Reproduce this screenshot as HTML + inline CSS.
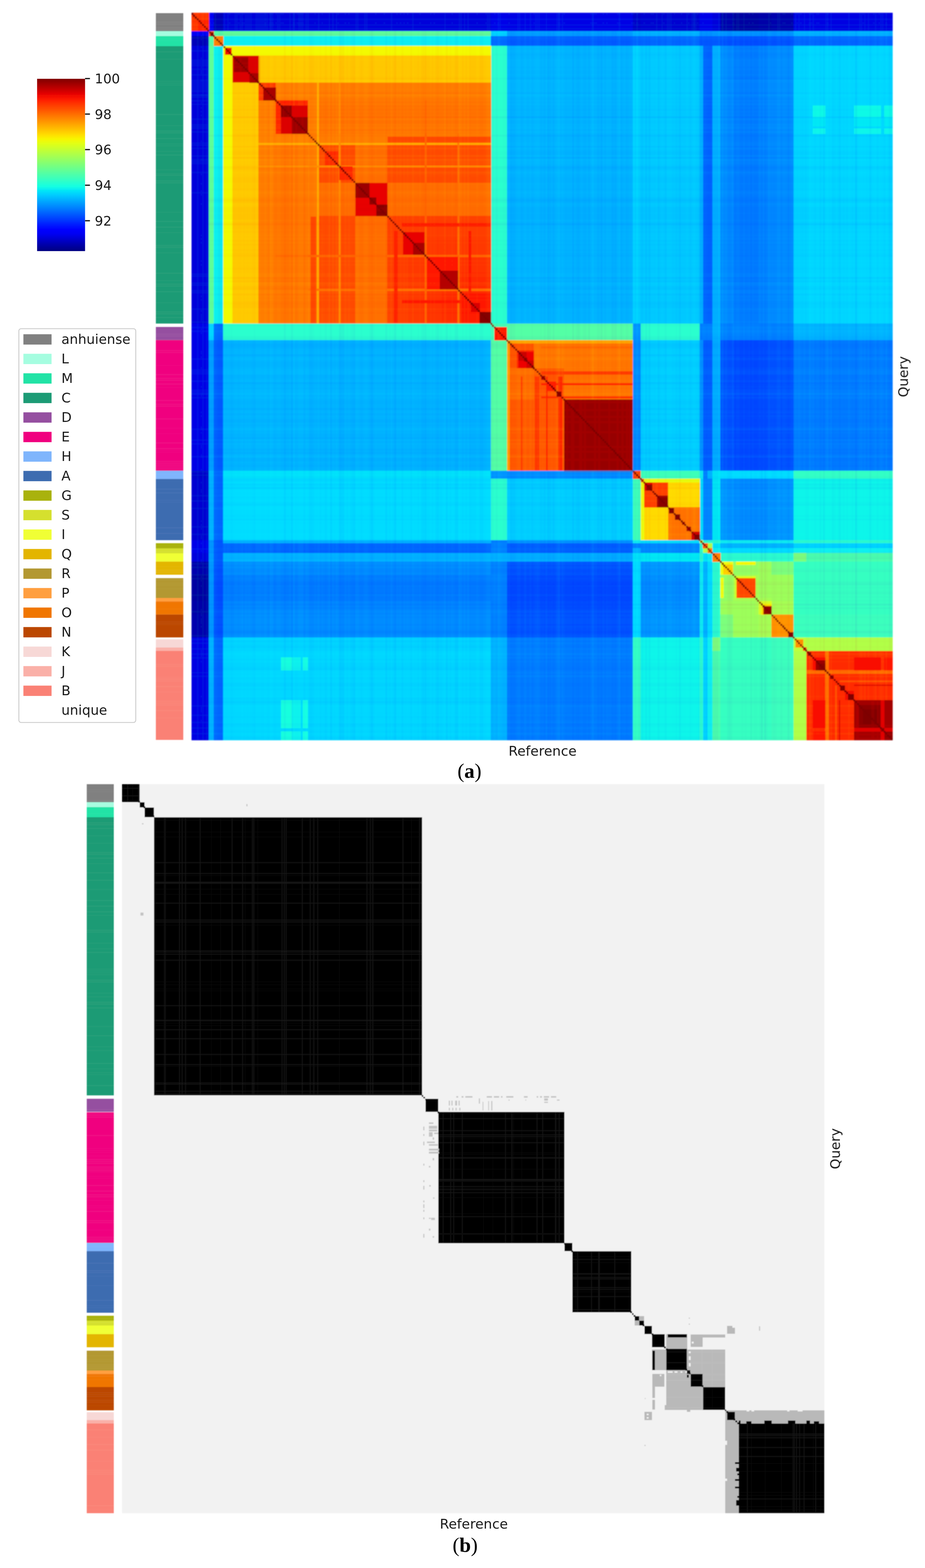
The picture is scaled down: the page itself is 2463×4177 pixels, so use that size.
<!DOCTYPE html>
<html><head><meta charset="utf-8"><title>Figure</title>
<style>
html,body{margin:0;padding:0;background:#fff}
body{width:2463px;height:4177px;overflow:hidden}
svg{display:block}
text{font-family:"DejaVu Sans","Liberation Sans",sans-serif;fill:#1a1a1a}
.ser{font-family:"Liberation Serif","DejaVu Serif",serif;fill:#000}
</style></head><body>
<svg width="2463" height="4177" viewBox="0 0 2463 4177" shape-rendering="crispEdges">
<defs><filter id="soft" x="-1%" y="-1%" width="102%" height="102%"><feGaussianBlur stdDeviation="1.5"/></filter><filter id="softb" x="-1%" y="-1%" width="102%" height="102%"><feGaussianBlur stdDeviation="1.1"/></filter><filter id="softs" x="-5%" y="-1%" width="110%" height="102%"><feGaussianBlur stdDeviation="1.0"/></filter><filter id="softt" x="-5%" y="-5%" width="110%" height="110%"><feGaussianBlur stdDeviation="0.7"/></filter><linearGradient id="cb" x1="0" y1="1" x2="0" y2="0"><stop offset="0.000" stop-color="#000080"/><stop offset="0.025" stop-color="#00009c"/><stop offset="0.050" stop-color="#0000b9"/><stop offset="0.075" stop-color="#0000d6"/><stop offset="0.100" stop-color="#0000f3"/><stop offset="0.125" stop-color="#0000ff"/><stop offset="0.150" stop-color="#0019ff"/><stop offset="0.175" stop-color="#0033ff"/><stop offset="0.200" stop-color="#004dff"/><stop offset="0.225" stop-color="#0066ff"/><stop offset="0.250" stop-color="#0080ff"/><stop offset="0.275" stop-color="#0099ff"/><stop offset="0.300" stop-color="#00b2ff"/><stop offset="0.325" stop-color="#00ccff"/><stop offset="0.350" stop-color="#00e5f7"/><stop offset="0.375" stop-color="#15ffe2"/><stop offset="0.400" stop-color="#29ffce"/><stop offset="0.425" stop-color="#3effb9"/><stop offset="0.450" stop-color="#52ffa5"/><stop offset="0.475" stop-color="#67ff90"/><stop offset="0.500" stop-color="#7bff7b"/><stop offset="0.525" stop-color="#90ff67"/><stop offset="0.550" stop-color="#a5ff52"/><stop offset="0.575" stop-color="#b9ff3e"/><stop offset="0.600" stop-color="#ceff29"/><stop offset="0.625" stop-color="#e2ff15"/><stop offset="0.650" stop-color="#f7f600"/><stop offset="0.675" stop-color="#ffde00"/><stop offset="0.700" stop-color="#ffc600"/><stop offset="0.725" stop-color="#ffaf00"/><stop offset="0.750" stop-color="#ff9700"/><stop offset="0.775" stop-color="#ff8000"/><stop offset="0.800" stop-color="#ff6800"/><stop offset="0.825" stop-color="#ff5000"/><stop offset="0.850" stop-color="#ff3900"/><stop offset="0.875" stop-color="#ff2100"/><stop offset="0.900" stop-color="#f30900"/><stop offset="0.925" stop-color="#d60000"/><stop offset="0.950" stop-color="#b90000"/><stop offset="0.975" stop-color="#9c0000"/><stop offset="1.000" stop-color="#800000"/></linearGradient></defs>
<g id="heat-a" filter="url(#soft)">
<rect x="509.8" y="34.6" width="1866.7" height="1936.8" fill="#00b2ff"/>
<rect x="509.5" y="34.3" width="47.3" height="49.0" fill="#ff2f00"/>
<rect x="509.5" y="82.7" width="47.3" height="13.8" fill="#0000f3"/>
<rect x="509.5" y="95.9" width="47.3" height="27.1" fill="#0000b9"/>
<rect x="509.5" y="122.4" width="47.3" height="739.9" fill="#0000da"/>
<rect x="509.5" y="861.7" width="47.3" height="9.7" fill="#0000e8"/>
<rect x="509.5" y="870.8" width="47.3" height="35.7" fill="#0000e8"/>
<rect x="509.5" y="905.9" width="47.3" height="348.4" fill="#0000e5"/>
<rect x="509.5" y="1253.7" width="47.3" height="22.3" fill="#0000cb"/>
<rect x="509.5" y="1275.4" width="47.3" height="163.7" fill="#0000d1"/>
<rect x="509.5" y="1438.5" width="47.3" height="8.9" fill="#0000e8"/>
<rect x="509.5" y="1446.8" width="47.3" height="14.2" fill="#0000e8"/>
<rect x="509.5" y="1460.4" width="47.3" height="13.6" fill="#0000e8"/>
<rect x="509.5" y="1473.3" width="47.3" height="23.3" fill="#0000dc"/>
<rect x="509.5" y="1496.0" width="47.3" height="35.3" fill="#0000ae"/>
<rect x="509.5" y="1530.7" width="47.3" height="9.1" fill="#0000a2"/>
<rect x="509.5" y="1539.2" width="47.3" height="53.9" fill="#0000a2"/>
<rect x="509.5" y="1592.5" width="47.3" height="9.3" fill="#0000a2"/>
<rect x="509.5" y="1601.2" width="47.3" height="36.2" fill="#0000a8"/>
<rect x="509.5" y="1636.8" width="47.3" height="61.6" fill="#0000ae"/>
<rect x="509.5" y="1697.8" width="47.3" height="5.6" fill="#0000e2"/>
<rect x="509.5" y="1702.9" width="47.3" height="21.9" fill="#0000e2"/>
<rect x="509.5" y="1724.2" width="47.3" height="9.9" fill="#0000e2"/>
<rect x="509.5" y="1733.5" width="47.3" height="238.2" fill="#0000e2"/>
<rect x="556.2" y="34.3" width="13.3" height="49.0" fill="#0000f3"/>
<rect x="556.2" y="82.7" width="13.3" height="13.8" fill="#a20000"/>
<rect x="556.2" y="95.9" width="13.3" height="27.1" fill="#52ffa5"/>
<rect x="556.2" y="122.4" width="13.3" height="739.9" fill="#5fff98"/>
<rect x="556.2" y="861.7" width="13.3" height="9.7" fill="#00d6ff"/>
<rect x="556.2" y="870.8" width="13.3" height="35.7" fill="#00d6ff"/>
<rect x="556.2" y="905.9" width="13.3" height="348.4" fill="#009eff"/>
<rect x="556.2" y="1253.7" width="13.3" height="22.3" fill="#00b2ff"/>
<rect x="556.2" y="1275.4" width="13.3" height="163.7" fill="#00b2ff"/>
<rect x="556.2" y="1438.5" width="13.3" height="8.9" fill="#0094ff"/>
<rect x="556.2" y="1446.8" width="13.3" height="14.2" fill="#0094ff"/>
<rect x="556.2" y="1460.4" width="13.3" height="13.6" fill="#0094ff"/>
<rect x="556.2" y="1473.3" width="13.3" height="23.3" fill="#009eff"/>
<rect x="556.2" y="1496.0" width="13.3" height="35.3" fill="#0094ff"/>
<rect x="556.2" y="1530.7" width="13.3" height="9.1" fill="#0094ff"/>
<rect x="556.2" y="1539.2" width="13.3" height="53.9" fill="#0094ff"/>
<rect x="556.2" y="1592.5" width="13.3" height="9.3" fill="#0094ff"/>
<rect x="556.2" y="1601.2" width="13.3" height="36.2" fill="#0094ff"/>
<rect x="556.2" y="1636.8" width="13.3" height="61.6" fill="#0094ff"/>
<rect x="556.2" y="1697.8" width="13.3" height="5.6" fill="#00b2ff"/>
<rect x="556.2" y="1702.9" width="13.3" height="21.9" fill="#00b2ff"/>
<rect x="556.2" y="1724.2" width="13.3" height="9.9" fill="#00b2ff"/>
<rect x="556.2" y="1733.5" width="13.3" height="238.2" fill="#00b2ff"/>
<rect x="568.9" y="34.3" width="26.2" height="49.0" fill="#0000b9"/>
<rect x="568.9" y="82.7" width="26.2" height="13.8" fill="#52ffa5"/>
<rect x="568.9" y="95.9" width="26.2" height="27.1" fill="#ff8400"/>
<rect x="568.9" y="122.4" width="26.2" height="739.9" fill="#08f0ef"/>
<rect x="568.9" y="861.7" width="26.2" height="9.7" fill="#006bff"/>
<rect x="568.9" y="870.8" width="26.2" height="35.7" fill="#006bff"/>
<rect x="568.9" y="905.9" width="26.2" height="348.4" fill="#005cff"/>
<rect x="568.9" y="1253.7" width="26.2" height="22.3" fill="#0066ff"/>
<rect x="568.9" y="1275.4" width="26.2" height="163.7" fill="#0066ff"/>
<rect x="568.9" y="1438.5" width="26.2" height="8.9" fill="#0057ff"/>
<rect x="568.9" y="1446.8" width="26.2" height="14.2" fill="#0057ff"/>
<rect x="568.9" y="1460.4" width="26.2" height="13.6" fill="#0057ff"/>
<rect x="568.9" y="1473.3" width="26.2" height="23.3" fill="#005cff"/>
<rect x="568.9" y="1496.0" width="26.2" height="35.3" fill="#0052ff"/>
<rect x="568.9" y="1530.7" width="26.2" height="9.1" fill="#004dff"/>
<rect x="568.9" y="1539.2" width="26.2" height="53.9" fill="#004dff"/>
<rect x="568.9" y="1592.5" width="26.2" height="9.3" fill="#004dff"/>
<rect x="568.9" y="1601.2" width="26.2" height="36.2" fill="#0052ff"/>
<rect x="568.9" y="1636.8" width="26.2" height="61.6" fill="#0052ff"/>
<rect x="568.9" y="1697.8" width="26.2" height="5.6" fill="#0066ff"/>
<rect x="568.9" y="1702.9" width="26.2" height="21.9" fill="#0066ff"/>
<rect x="568.9" y="1724.2" width="26.2" height="9.9" fill="#0066ff"/>
<rect x="568.9" y="1733.5" width="26.2" height="238.2" fill="#0066ff"/>
<rect x="594.4" y="34.3" width="713.1" height="49.0" fill="#0000da"/>
<rect x="594.4" y="82.7" width="713.1" height="13.8" fill="#5fff98"/>
<rect x="594.4" y="95.9" width="713.1" height="27.1" fill="#08f0ef"/>
<rect x="594.4" y="122.4" width="713.1" height="739.9" fill="#ff6800"/>
<rect x="594.4" y="861.7" width="713.1" height="9.7" fill="#29ffce"/>
<rect x="594.4" y="870.8" width="713.1" height="35.7" fill="#29ffce"/>
<rect x="594.4" y="905.9" width="713.1" height="348.4" fill="#00b2ff"/>
<rect x="594.4" y="1253.7" width="713.1" height="22.3" fill="#00e0fb"/>
<rect x="594.4" y="1275.4" width="713.1" height="163.7" fill="#00dbff"/>
<rect x="594.4" y="1438.5" width="713.1" height="8.9" fill="#0066ff"/>
<rect x="594.4" y="1446.8" width="713.1" height="14.2" fill="#0066ff"/>
<rect x="594.4" y="1460.4" width="713.1" height="13.6" fill="#0061ff"/>
<rect x="594.4" y="1473.3" width="713.1" height="23.3" fill="#00b2ff"/>
<rect x="594.4" y="1496.0" width="713.1" height="35.3" fill="#008aff"/>
<rect x="594.4" y="1530.7" width="713.1" height="9.1" fill="#007aff"/>
<rect x="594.4" y="1539.2" width="713.1" height="53.9" fill="#007aff"/>
<rect x="594.4" y="1592.5" width="713.1" height="9.3" fill="#007aff"/>
<rect x="594.4" y="1601.2" width="713.1" height="36.2" fill="#0085ff"/>
<rect x="594.4" y="1636.8" width="713.1" height="61.6" fill="#008aff"/>
<rect x="594.4" y="1697.8" width="713.1" height="5.6" fill="#00d1ff"/>
<rect x="594.4" y="1702.9" width="713.1" height="21.9" fill="#00d1ff"/>
<rect x="594.4" y="1724.2" width="713.1" height="9.9" fill="#00d1ff"/>
<rect x="594.4" y="1733.5" width="713.1" height="238.2" fill="#00d6ff"/>
<rect x="1307.0" y="34.3" width="9.4" height="49.0" fill="#0000e8"/>
<rect x="1307.0" y="82.7" width="9.4" height="13.8" fill="#00d6ff"/>
<rect x="1307.0" y="95.9" width="9.4" height="27.1" fill="#006bff"/>
<rect x="1307.0" y="122.4" width="9.4" height="739.9" fill="#29ffce"/>
<rect x="1307.0" y="861.7" width="9.4" height="9.7" fill="#ff1c00"/>
<rect x="1307.0" y="870.8" width="9.4" height="35.7" fill="#42ffb5"/>
<rect x="1307.0" y="905.9" width="9.4" height="348.4" fill="#52ffa5"/>
<rect x="1307.0" y="1253.7" width="9.4" height="22.3" fill="#0094ff"/>
<rect x="1307.0" y="1275.4" width="9.4" height="163.7" fill="#29ffce"/>
<rect x="1307.0" y="1438.5" width="9.4" height="8.9" fill="#0080ff"/>
<rect x="1307.0" y="1446.8" width="9.4" height="14.2" fill="#0080ff"/>
<rect x="1307.0" y="1460.4" width="9.4" height="13.6" fill="#0080ff"/>
<rect x="1307.0" y="1473.3" width="9.4" height="23.3" fill="#00b2ff"/>
<rect x="1307.0" y="1496.0" width="9.4" height="35.3" fill="#0080ff"/>
<rect x="1307.0" y="1530.7" width="9.4" height="9.1" fill="#0080ff"/>
<rect x="1307.0" y="1539.2" width="9.4" height="53.9" fill="#0080ff"/>
<rect x="1307.0" y="1592.5" width="9.4" height="9.3" fill="#0080ff"/>
<rect x="1307.0" y="1601.2" width="9.4" height="36.2" fill="#0080ff"/>
<rect x="1307.0" y="1636.8" width="9.4" height="61.6" fill="#0080ff"/>
<rect x="1307.0" y="1697.8" width="9.4" height="5.6" fill="#00b2ff"/>
<rect x="1307.0" y="1702.9" width="9.4" height="21.9" fill="#00b2ff"/>
<rect x="1307.0" y="1724.2" width="9.4" height="9.9" fill="#00b2ff"/>
<rect x="1307.0" y="1733.5" width="9.4" height="238.2" fill="#00b2ff"/>
<rect x="1315.7" y="34.3" width="34.4" height="49.0" fill="#0000e8"/>
<rect x="1315.7" y="82.7" width="34.4" height="13.8" fill="#00d6ff"/>
<rect x="1315.7" y="95.9" width="34.4" height="27.1" fill="#006bff"/>
<rect x="1315.7" y="122.4" width="34.4" height="739.9" fill="#29ffce"/>
<rect x="1315.7" y="861.7" width="34.4" height="9.7" fill="#42ffb5"/>
<rect x="1315.7" y="870.8" width="34.4" height="35.7" fill="#ff1c00"/>
<rect x="1315.7" y="905.9" width="34.4" height="348.4" fill="#52ffa5"/>
<rect x="1315.7" y="1253.7" width="34.4" height="22.3" fill="#0094ff"/>
<rect x="1315.7" y="1275.4" width="34.4" height="163.7" fill="#29ffce"/>
<rect x="1315.7" y="1438.5" width="34.4" height="8.9" fill="#0080ff"/>
<rect x="1315.7" y="1446.8" width="34.4" height="14.2" fill="#0080ff"/>
<rect x="1315.7" y="1460.4" width="34.4" height="13.6" fill="#0080ff"/>
<rect x="1315.7" y="1473.3" width="34.4" height="23.3" fill="#00b2ff"/>
<rect x="1315.7" y="1496.0" width="34.4" height="35.3" fill="#0080ff"/>
<rect x="1315.7" y="1530.7" width="34.4" height="9.1" fill="#0080ff"/>
<rect x="1315.7" y="1539.2" width="34.4" height="53.9" fill="#0080ff"/>
<rect x="1315.7" y="1592.5" width="34.4" height="9.3" fill="#0080ff"/>
<rect x="1315.7" y="1601.2" width="34.4" height="36.2" fill="#0080ff"/>
<rect x="1315.7" y="1636.8" width="34.4" height="61.6" fill="#0080ff"/>
<rect x="1315.7" y="1697.8" width="34.4" height="5.6" fill="#00b2ff"/>
<rect x="1315.7" y="1702.9" width="34.4" height="21.9" fill="#00b2ff"/>
<rect x="1315.7" y="1724.2" width="34.4" height="9.9" fill="#00b2ff"/>
<rect x="1315.7" y="1733.5" width="34.4" height="238.2" fill="#00b2ff"/>
<rect x="1349.5" y="34.3" width="335.9" height="49.0" fill="#0000e5"/>
<rect x="1349.5" y="82.7" width="335.9" height="13.8" fill="#009eff"/>
<rect x="1349.5" y="95.9" width="335.9" height="27.1" fill="#005cff"/>
<rect x="1349.5" y="122.4" width="335.9" height="739.9" fill="#00b2ff"/>
<rect x="1349.5" y="861.7" width="335.9" height="9.7" fill="#52ffa5"/>
<rect x="1349.5" y="870.8" width="335.9" height="35.7" fill="#52ffa5"/>
<rect x="1349.5" y="905.9" width="335.9" height="348.4" fill="#ff6800"/>
<rect x="1349.5" y="1253.7" width="335.9" height="22.3" fill="#008aff"/>
<rect x="1349.5" y="1275.4" width="335.9" height="163.7" fill="#00ccff"/>
<rect x="1349.5" y="1438.5" width="335.9" height="8.9" fill="#005cff"/>
<rect x="1349.5" y="1446.8" width="335.9" height="14.2" fill="#005cff"/>
<rect x="1349.5" y="1460.4" width="335.9" height="13.6" fill="#005cff"/>
<rect x="1349.5" y="1473.3" width="335.9" height="23.3" fill="#00adff"/>
<rect x="1349.5" y="1496.0" width="335.9" height="35.3" fill="#0052ff"/>
<rect x="1349.5" y="1530.7" width="335.9" height="9.1" fill="#0047ff"/>
<rect x="1349.5" y="1539.2" width="335.9" height="53.9" fill="#0047ff"/>
<rect x="1349.5" y="1592.5" width="335.9" height="9.3" fill="#0047ff"/>
<rect x="1349.5" y="1601.2" width="335.9" height="36.2" fill="#004dff"/>
<rect x="1349.5" y="1636.8" width="335.9" height="61.6" fill="#0052ff"/>
<rect x="1349.5" y="1697.8" width="335.9" height="5.6" fill="#007aff"/>
<rect x="1349.5" y="1702.9" width="335.9" height="21.9" fill="#007aff"/>
<rect x="1349.5" y="1724.2" width="335.9" height="9.9" fill="#007aff"/>
<rect x="1349.5" y="1733.5" width="335.9" height="238.2" fill="#007aff"/>
<rect x="1684.8" y="34.3" width="21.5" height="49.0" fill="#0000cb"/>
<rect x="1684.8" y="82.7" width="21.5" height="13.8" fill="#00b2ff"/>
<rect x="1684.8" y="95.9" width="21.5" height="27.1" fill="#0066ff"/>
<rect x="1684.8" y="122.4" width="21.5" height="739.9" fill="#00d1ff"/>
<rect x="1684.8" y="861.7" width="21.5" height="9.7" fill="#0094ff"/>
<rect x="1684.8" y="870.8" width="21.5" height="35.7" fill="#0094ff"/>
<rect x="1684.8" y="905.9" width="21.5" height="348.4" fill="#008aff"/>
<rect x="1684.8" y="1253.7" width="21.5" height="22.3" fill="#ff4200"/>
<rect x="1684.8" y="1275.4" width="21.5" height="163.7" fill="#3effb9"/>
<rect x="1684.8" y="1438.5" width="21.5" height="8.9" fill="#0080ff"/>
<rect x="1684.8" y="1446.8" width="21.5" height="14.2" fill="#0080ff"/>
<rect x="1684.8" y="1460.4" width="21.5" height="13.6" fill="#00b2ff"/>
<rect x="1684.8" y="1473.3" width="21.5" height="23.3" fill="#00e5f7"/>
<rect x="1684.8" y="1496.0" width="21.5" height="35.3" fill="#00dbff"/>
<rect x="1684.8" y="1530.7" width="21.5" height="9.1" fill="#00dbff"/>
<rect x="1684.8" y="1539.2" width="21.5" height="53.9" fill="#00dbff"/>
<rect x="1684.8" y="1592.5" width="21.5" height="9.3" fill="#00dbff"/>
<rect x="1684.8" y="1601.2" width="21.5" height="36.2" fill="#00dbff"/>
<rect x="1684.8" y="1636.8" width="21.5" height="61.6" fill="#00dbff"/>
<rect x="1684.8" y="1697.8" width="21.5" height="5.6" fill="#31ffc5"/>
<rect x="1684.8" y="1702.9" width="21.5" height="21.9" fill="#31ffc5"/>
<rect x="1684.8" y="1724.2" width="21.5" height="9.9" fill="#31ffc5"/>
<rect x="1684.8" y="1733.5" width="21.5" height="238.2" fill="#31ffc5"/>
<rect x="1705.7" y="34.3" width="157.8" height="49.0" fill="#0000d1"/>
<rect x="1705.7" y="82.7" width="157.8" height="13.8" fill="#00b2ff"/>
<rect x="1705.7" y="95.9" width="157.8" height="27.1" fill="#0066ff"/>
<rect x="1705.7" y="122.4" width="157.8" height="739.9" fill="#00c7ff"/>
<rect x="1705.7" y="861.7" width="157.8" height="9.7" fill="#29ffce"/>
<rect x="1705.7" y="870.8" width="157.8" height="35.7" fill="#29ffce"/>
<rect x="1705.7" y="905.9" width="157.8" height="348.4" fill="#00ccff"/>
<rect x="1705.7" y="1253.7" width="157.8" height="22.3" fill="#3effb9"/>
<rect x="1705.7" y="1275.4" width="157.8" height="163.7" fill="#ff7b00"/>
<rect x="1705.7" y="1438.5" width="157.8" height="8.9" fill="#0085ff"/>
<rect x="1705.7" y="1446.8" width="157.8" height="14.2" fill="#0085ff"/>
<rect x="1705.7" y="1460.4" width="157.8" height="13.6" fill="#0085ff"/>
<rect x="1705.7" y="1473.3" width="157.8" height="23.3" fill="#04ebf3"/>
<rect x="1705.7" y="1496.0" width="157.8" height="35.3" fill="#0094ff"/>
<rect x="1705.7" y="1530.7" width="157.8" height="9.1" fill="#008aff"/>
<rect x="1705.7" y="1539.2" width="157.8" height="53.9" fill="#008aff"/>
<rect x="1705.7" y="1592.5" width="157.8" height="9.3" fill="#008aff"/>
<rect x="1705.7" y="1601.2" width="157.8" height="36.2" fill="#008fff"/>
<rect x="1705.7" y="1636.8" width="157.8" height="61.6" fill="#0094ff"/>
<rect x="1705.7" y="1697.8" width="157.8" height="5.6" fill="#0cf5ea"/>
<rect x="1705.7" y="1702.9" width="157.8" height="21.9" fill="#0cf5ea"/>
<rect x="1705.7" y="1724.2" width="157.8" height="9.9" fill="#0cf5ea"/>
<rect x="1705.7" y="1733.5" width="157.8" height="238.2" fill="#0cf5ea"/>
<rect x="1862.9" y="34.3" width="8.6" height="49.0" fill="#0000e8"/>
<rect x="1862.9" y="82.7" width="8.6" height="13.8" fill="#0094ff"/>
<rect x="1862.9" y="95.9" width="8.6" height="27.1" fill="#0057ff"/>
<rect x="1862.9" y="122.4" width="8.6" height="739.9" fill="#0066ff"/>
<rect x="1862.9" y="861.7" width="8.6" height="9.7" fill="#0080ff"/>
<rect x="1862.9" y="870.8" width="8.6" height="35.7" fill="#0080ff"/>
<rect x="1862.9" y="905.9" width="8.6" height="348.4" fill="#005cff"/>
<rect x="1862.9" y="1253.7" width="8.6" height="22.3" fill="#0080ff"/>
<rect x="1862.9" y="1275.4" width="8.6" height="163.7" fill="#0085ff"/>
<rect x="1862.9" y="1438.5" width="8.6" height="8.9" fill="#ff6800"/>
<rect x="1862.9" y="1446.8" width="8.6" height="14.2" fill="#00b2ff"/>
<rect x="1862.9" y="1460.4" width="8.6" height="13.6" fill="#adff4a"/>
<rect x="1862.9" y="1473.3" width="8.6" height="23.3" fill="#00e5f7"/>
<rect x="1862.9" y="1496.0" width="8.6" height="35.3" fill="#00b2ff"/>
<rect x="1862.9" y="1530.7" width="8.6" height="9.1" fill="#00b2ff"/>
<rect x="1862.9" y="1539.2" width="8.6" height="53.9" fill="#00b2ff"/>
<rect x="1862.9" y="1592.5" width="8.6" height="9.3" fill="#00b2ff"/>
<rect x="1862.9" y="1601.2" width="8.6" height="36.2" fill="#00b2ff"/>
<rect x="1862.9" y="1636.8" width="8.6" height="61.6" fill="#00b2ff"/>
<rect x="1862.9" y="1697.8" width="8.6" height="5.6" fill="#00d1ff"/>
<rect x="1862.9" y="1702.9" width="8.6" height="21.9" fill="#00d1ff"/>
<rect x="1862.9" y="1724.2" width="8.6" height="9.9" fill="#00d1ff"/>
<rect x="1862.9" y="1733.5" width="8.6" height="238.2" fill="#00d1ff"/>
<rect x="1870.9" y="34.3" width="13.7" height="49.0" fill="#0000e8"/>
<rect x="1870.9" y="82.7" width="13.7" height="13.8" fill="#0094ff"/>
<rect x="1870.9" y="95.9" width="13.7" height="27.1" fill="#0057ff"/>
<rect x="1870.9" y="122.4" width="13.7" height="739.9" fill="#0066ff"/>
<rect x="1870.9" y="861.7" width="13.7" height="9.7" fill="#0080ff"/>
<rect x="1870.9" y="870.8" width="13.7" height="35.7" fill="#0080ff"/>
<rect x="1870.9" y="905.9" width="13.7" height="348.4" fill="#005cff"/>
<rect x="1870.9" y="1253.7" width="13.7" height="22.3" fill="#0080ff"/>
<rect x="1870.9" y="1275.4" width="13.7" height="163.7" fill="#0085ff"/>
<rect x="1870.9" y="1438.5" width="13.7" height="8.9" fill="#00b2ff"/>
<rect x="1870.9" y="1446.8" width="13.7" height="14.2" fill="#ff6800"/>
<rect x="1870.9" y="1460.4" width="13.7" height="13.6" fill="#adff4a"/>
<rect x="1870.9" y="1473.3" width="13.7" height="23.3" fill="#00e5f7"/>
<rect x="1870.9" y="1496.0" width="13.7" height="35.3" fill="#00b2ff"/>
<rect x="1870.9" y="1530.7" width="13.7" height="9.1" fill="#00b2ff"/>
<rect x="1870.9" y="1539.2" width="13.7" height="53.9" fill="#00b2ff"/>
<rect x="1870.9" y="1592.5" width="13.7" height="9.3" fill="#00b2ff"/>
<rect x="1870.9" y="1601.2" width="13.7" height="36.2" fill="#00b2ff"/>
<rect x="1870.9" y="1636.8" width="13.7" height="61.6" fill="#00b2ff"/>
<rect x="1870.9" y="1697.8" width="13.7" height="5.6" fill="#00d1ff"/>
<rect x="1870.9" y="1702.9" width="13.7" height="21.9" fill="#00d1ff"/>
<rect x="1870.9" y="1724.2" width="13.7" height="9.9" fill="#00d1ff"/>
<rect x="1870.9" y="1733.5" width="13.7" height="238.2" fill="#00d1ff"/>
<rect x="1884.0" y="34.3" width="13.1" height="49.0" fill="#0000e8"/>
<rect x="1884.0" y="82.7" width="13.1" height="13.8" fill="#0094ff"/>
<rect x="1884.0" y="95.9" width="13.1" height="27.1" fill="#0057ff"/>
<rect x="1884.0" y="122.4" width="13.1" height="739.9" fill="#0061ff"/>
<rect x="1884.0" y="861.7" width="13.1" height="9.7" fill="#0080ff"/>
<rect x="1884.0" y="870.8" width="13.1" height="35.7" fill="#0080ff"/>
<rect x="1884.0" y="905.9" width="13.1" height="348.4" fill="#005cff"/>
<rect x="1884.0" y="1253.7" width="13.1" height="22.3" fill="#00b2ff"/>
<rect x="1884.0" y="1275.4" width="13.1" height="163.7" fill="#0085ff"/>
<rect x="1884.0" y="1438.5" width="13.1" height="8.9" fill="#adff4a"/>
<rect x="1884.0" y="1446.8" width="13.1" height="14.2" fill="#adff4a"/>
<rect x="1884.0" y="1460.4" width="13.1" height="13.6" fill="#ff7100"/>
<rect x="1884.0" y="1473.3" width="13.1" height="23.3" fill="#08f0ef"/>
<rect x="1884.0" y="1496.0" width="13.1" height="35.3" fill="#00dbff"/>
<rect x="1884.0" y="1530.7" width="13.1" height="9.1" fill="#00dbff"/>
<rect x="1884.0" y="1539.2" width="13.1" height="53.9" fill="#00dbff"/>
<rect x="1884.0" y="1592.5" width="13.1" height="9.3" fill="#00dbff"/>
<rect x="1884.0" y="1601.2" width="13.1" height="36.2" fill="#00dbff"/>
<rect x="1884.0" y="1636.8" width="13.1" height="61.6" fill="#00dbff"/>
<rect x="1884.0" y="1697.8" width="13.1" height="5.6" fill="#08f0ef"/>
<rect x="1884.0" y="1702.9" width="13.1" height="21.9" fill="#08f0ef"/>
<rect x="1884.0" y="1724.2" width="13.1" height="9.9" fill="#08f0ef"/>
<rect x="1884.0" y="1733.5" width="13.1" height="238.2" fill="#08f0ef"/>
<rect x="1896.5" y="34.3" width="22.4" height="49.0" fill="#0000dc"/>
<rect x="1896.5" y="82.7" width="22.4" height="13.8" fill="#009eff"/>
<rect x="1896.5" y="95.9" width="22.4" height="27.1" fill="#005cff"/>
<rect x="1896.5" y="122.4" width="22.4" height="739.9" fill="#00b2ff"/>
<rect x="1896.5" y="861.7" width="22.4" height="9.7" fill="#00b2ff"/>
<rect x="1896.5" y="870.8" width="22.4" height="35.7" fill="#00b2ff"/>
<rect x="1896.5" y="905.9" width="22.4" height="348.4" fill="#00adff"/>
<rect x="1896.5" y="1253.7" width="22.4" height="22.3" fill="#00e5f7"/>
<rect x="1896.5" y="1275.4" width="22.4" height="163.7" fill="#04ebf3"/>
<rect x="1896.5" y="1438.5" width="22.4" height="8.9" fill="#00e5f7"/>
<rect x="1896.5" y="1446.8" width="22.4" height="14.2" fill="#00e5f7"/>
<rect x="1896.5" y="1460.4" width="22.4" height="13.6" fill="#08f0ef"/>
<rect x="1896.5" y="1473.3" width="22.4" height="23.3" fill="#ff7b00"/>
<rect x="1896.5" y="1496.0" width="22.4" height="35.3" fill="#29ffce"/>
<rect x="1896.5" y="1530.7" width="22.4" height="9.1" fill="#29ffce"/>
<rect x="1896.5" y="1539.2" width="22.4" height="53.9" fill="#29ffce"/>
<rect x="1896.5" y="1592.5" width="22.4" height="9.3" fill="#29ffce"/>
<rect x="1896.5" y="1601.2" width="22.4" height="36.2" fill="#29ffce"/>
<rect x="1896.5" y="1636.8" width="22.4" height="61.6" fill="#29ffce"/>
<rect x="1896.5" y="1697.8" width="22.4" height="5.6" fill="#7bff7b"/>
<rect x="1896.5" y="1702.9" width="22.4" height="21.9" fill="#7bff7b"/>
<rect x="1896.5" y="1724.2" width="22.4" height="9.9" fill="#7bff7b"/>
<rect x="1896.5" y="1733.5" width="22.4" height="238.2" fill="#4affad"/>
<rect x="1918.3" y="34.3" width="34.0" height="49.0" fill="#0000ae"/>
<rect x="1918.3" y="82.7" width="34.0" height="13.8" fill="#0094ff"/>
<rect x="1918.3" y="95.9" width="34.0" height="27.1" fill="#0052ff"/>
<rect x="1918.3" y="122.4" width="34.0" height="739.9" fill="#008aff"/>
<rect x="1918.3" y="861.7" width="34.0" height="9.7" fill="#0080ff"/>
<rect x="1918.3" y="870.8" width="34.0" height="35.7" fill="#0080ff"/>
<rect x="1918.3" y="905.9" width="34.0" height="348.4" fill="#0052ff"/>
<rect x="1918.3" y="1253.7" width="34.0" height="22.3" fill="#00dbff"/>
<rect x="1918.3" y="1275.4" width="34.0" height="163.7" fill="#0094ff"/>
<rect x="1918.3" y="1438.5" width="34.0" height="8.9" fill="#00b2ff"/>
<rect x="1918.3" y="1446.8" width="34.0" height="14.2" fill="#00b2ff"/>
<rect x="1918.3" y="1460.4" width="34.0" height="13.6" fill="#00dbff"/>
<rect x="1918.3" y="1473.3" width="34.0" height="23.3" fill="#29ffce"/>
<rect x="1918.3" y="1496.0" width="34.0" height="35.3" fill="#ffd900"/>
<rect x="1918.3" y="1530.7" width="34.0" height="9.1" fill="#94ff63"/>
<rect x="1918.3" y="1539.2" width="34.0" height="53.9" fill="#94ff63"/>
<rect x="1918.3" y="1592.5" width="34.0" height="9.3" fill="#94ff63"/>
<rect x="1918.3" y="1601.2" width="34.0" height="36.2" fill="#9cff5a"/>
<rect x="1918.3" y="1636.8" width="34.0" height="61.6" fill="#7bff7b"/>
<rect x="1918.3" y="1697.8" width="34.0" height="5.6" fill="#35ffc1"/>
<rect x="1918.3" y="1702.9" width="34.0" height="21.9" fill="#35ffc1"/>
<rect x="1918.3" y="1724.2" width="34.0" height="9.9" fill="#35ffc1"/>
<rect x="1918.3" y="1733.5" width="34.0" height="238.2" fill="#35ffc1"/>
<rect x="1951.7" y="34.3" width="8.8" height="49.0" fill="#0000a2"/>
<rect x="1951.7" y="82.7" width="8.8" height="13.8" fill="#0094ff"/>
<rect x="1951.7" y="95.9" width="8.8" height="27.1" fill="#004dff"/>
<rect x="1951.7" y="122.4" width="8.8" height="739.9" fill="#007aff"/>
<rect x="1951.7" y="861.7" width="8.8" height="9.7" fill="#0080ff"/>
<rect x="1951.7" y="870.8" width="8.8" height="35.7" fill="#0080ff"/>
<rect x="1951.7" y="905.9" width="8.8" height="348.4" fill="#0047ff"/>
<rect x="1951.7" y="1253.7" width="8.8" height="22.3" fill="#00dbff"/>
<rect x="1951.7" y="1275.4" width="8.8" height="163.7" fill="#008aff"/>
<rect x="1951.7" y="1438.5" width="8.8" height="8.9" fill="#00b2ff"/>
<rect x="1951.7" y="1446.8" width="8.8" height="14.2" fill="#00b2ff"/>
<rect x="1951.7" y="1460.4" width="8.8" height="13.6" fill="#00dbff"/>
<rect x="1951.7" y="1473.3" width="8.8" height="23.3" fill="#29ffce"/>
<rect x="1951.7" y="1496.0" width="8.8" height="35.3" fill="#94ff63"/>
<rect x="1951.7" y="1530.7" width="8.8" height="9.1" fill="#ff4c00"/>
<rect x="1951.7" y="1539.2" width="8.8" height="53.9" fill="#a5ff52"/>
<rect x="1951.7" y="1592.5" width="8.8" height="9.3" fill="#a5ff52"/>
<rect x="1951.7" y="1601.2" width="8.8" height="36.2" fill="#9cff5a"/>
<rect x="1951.7" y="1636.8" width="8.8" height="61.6" fill="#9cff5a"/>
<rect x="1951.7" y="1697.8" width="8.8" height="5.6" fill="#35ffc1"/>
<rect x="1951.7" y="1702.9" width="8.8" height="21.9" fill="#35ffc1"/>
<rect x="1951.7" y="1724.2" width="8.8" height="9.9" fill="#35ffc1"/>
<rect x="1951.7" y="1733.5" width="8.8" height="238.2" fill="#35ffc1"/>
<rect x="1959.9" y="34.3" width="51.9" height="49.0" fill="#0000a2"/>
<rect x="1959.9" y="82.7" width="51.9" height="13.8" fill="#0094ff"/>
<rect x="1959.9" y="95.9" width="51.9" height="27.1" fill="#004dff"/>
<rect x="1959.9" y="122.4" width="51.9" height="739.9" fill="#007aff"/>
<rect x="1959.9" y="861.7" width="51.9" height="9.7" fill="#0080ff"/>
<rect x="1959.9" y="870.8" width="51.9" height="35.7" fill="#0080ff"/>
<rect x="1959.9" y="905.9" width="51.9" height="348.4" fill="#0047ff"/>
<rect x="1959.9" y="1253.7" width="51.9" height="22.3" fill="#00dbff"/>
<rect x="1959.9" y="1275.4" width="51.9" height="163.7" fill="#008aff"/>
<rect x="1959.9" y="1438.5" width="51.9" height="8.9" fill="#00b2ff"/>
<rect x="1959.9" y="1446.8" width="51.9" height="14.2" fill="#00b2ff"/>
<rect x="1959.9" y="1460.4" width="51.9" height="13.6" fill="#00dbff"/>
<rect x="1959.9" y="1473.3" width="51.9" height="23.3" fill="#29ffce"/>
<rect x="1959.9" y="1496.0" width="51.9" height="35.3" fill="#94ff63"/>
<rect x="1959.9" y="1530.7" width="51.9" height="9.1" fill="#a5ff52"/>
<rect x="1959.9" y="1539.2" width="51.9" height="53.9" fill="#ff4c00"/>
<rect x="1959.9" y="1592.5" width="51.9" height="9.3" fill="#a5ff52"/>
<rect x="1959.9" y="1601.2" width="51.9" height="36.2" fill="#9cff5a"/>
<rect x="1959.9" y="1636.8" width="51.9" height="61.6" fill="#9cff5a"/>
<rect x="1959.9" y="1697.8" width="51.9" height="5.6" fill="#35ffc1"/>
<rect x="1959.9" y="1702.9" width="51.9" height="21.9" fill="#35ffc1"/>
<rect x="1959.9" y="1724.2" width="51.9" height="9.9" fill="#35ffc1"/>
<rect x="1959.9" y="1733.5" width="51.9" height="238.2" fill="#35ffc1"/>
<rect x="2011.3" y="34.3" width="9.0" height="49.0" fill="#0000a2"/>
<rect x="2011.3" y="82.7" width="9.0" height="13.8" fill="#0094ff"/>
<rect x="2011.3" y="95.9" width="9.0" height="27.1" fill="#004dff"/>
<rect x="2011.3" y="122.4" width="9.0" height="739.9" fill="#007aff"/>
<rect x="2011.3" y="861.7" width="9.0" height="9.7" fill="#0080ff"/>
<rect x="2011.3" y="870.8" width="9.0" height="35.7" fill="#0080ff"/>
<rect x="2011.3" y="905.9" width="9.0" height="348.4" fill="#0047ff"/>
<rect x="2011.3" y="1253.7" width="9.0" height="22.3" fill="#00dbff"/>
<rect x="2011.3" y="1275.4" width="9.0" height="163.7" fill="#008aff"/>
<rect x="2011.3" y="1438.5" width="9.0" height="8.9" fill="#00b2ff"/>
<rect x="2011.3" y="1446.8" width="9.0" height="14.2" fill="#00b2ff"/>
<rect x="2011.3" y="1460.4" width="9.0" height="13.6" fill="#00dbff"/>
<rect x="2011.3" y="1473.3" width="9.0" height="23.3" fill="#29ffce"/>
<rect x="2011.3" y="1496.0" width="9.0" height="35.3" fill="#94ff63"/>
<rect x="2011.3" y="1530.7" width="9.0" height="9.1" fill="#a5ff52"/>
<rect x="2011.3" y="1539.2" width="9.0" height="53.9" fill="#a5ff52"/>
<rect x="2011.3" y="1592.5" width="9.0" height="9.3" fill="#ff4c00"/>
<rect x="2011.3" y="1601.2" width="9.0" height="36.2" fill="#9cff5a"/>
<rect x="2011.3" y="1636.8" width="9.0" height="61.6" fill="#9cff5a"/>
<rect x="2011.3" y="1697.8" width="9.0" height="5.6" fill="#35ffc1"/>
<rect x="2011.3" y="1702.9" width="9.0" height="21.9" fill="#35ffc1"/>
<rect x="2011.3" y="1724.2" width="9.0" height="9.9" fill="#35ffc1"/>
<rect x="2011.3" y="1733.5" width="9.0" height="238.2" fill="#35ffc1"/>
<rect x="2019.7" y="34.3" width="34.9" height="49.0" fill="#0000a8"/>
<rect x="2019.7" y="82.7" width="34.9" height="13.8" fill="#0094ff"/>
<rect x="2019.7" y="95.9" width="34.9" height="27.1" fill="#0052ff"/>
<rect x="2019.7" y="122.4" width="34.9" height="739.9" fill="#0085ff"/>
<rect x="2019.7" y="861.7" width="34.9" height="9.7" fill="#0080ff"/>
<rect x="2019.7" y="870.8" width="34.9" height="35.7" fill="#0080ff"/>
<rect x="2019.7" y="905.9" width="34.9" height="348.4" fill="#004dff"/>
<rect x="2019.7" y="1253.7" width="34.9" height="22.3" fill="#00dbff"/>
<rect x="2019.7" y="1275.4" width="34.9" height="163.7" fill="#008fff"/>
<rect x="2019.7" y="1438.5" width="34.9" height="8.9" fill="#00b2ff"/>
<rect x="2019.7" y="1446.8" width="34.9" height="14.2" fill="#00b2ff"/>
<rect x="2019.7" y="1460.4" width="34.9" height="13.6" fill="#00dbff"/>
<rect x="2019.7" y="1473.3" width="34.9" height="23.3" fill="#29ffce"/>
<rect x="2019.7" y="1496.0" width="34.9" height="35.3" fill="#9cff5a"/>
<rect x="2019.7" y="1530.7" width="34.9" height="9.1" fill="#9cff5a"/>
<rect x="2019.7" y="1539.2" width="34.9" height="53.9" fill="#9cff5a"/>
<rect x="2019.7" y="1592.5" width="34.9" height="9.3" fill="#9cff5a"/>
<rect x="2019.7" y="1601.2" width="34.9" height="36.2" fill="#efff08"/>
<rect x="2019.7" y="1636.8" width="34.9" height="61.6" fill="#a5ff52"/>
<rect x="2019.7" y="1697.8" width="34.9" height="5.6" fill="#35ffc1"/>
<rect x="2019.7" y="1702.9" width="34.9" height="21.9" fill="#35ffc1"/>
<rect x="2019.7" y="1724.2" width="34.9" height="9.9" fill="#35ffc1"/>
<rect x="2019.7" y="1733.5" width="34.9" height="238.2" fill="#35ffc1"/>
<rect x="2054.0" y="34.3" width="59.4" height="49.0" fill="#0000ae"/>
<rect x="2054.0" y="82.7" width="59.4" height="13.8" fill="#0094ff"/>
<rect x="2054.0" y="95.9" width="59.4" height="27.1" fill="#0052ff"/>
<rect x="2054.0" y="122.4" width="59.4" height="739.9" fill="#008aff"/>
<rect x="2054.0" y="861.7" width="59.4" height="9.7" fill="#0080ff"/>
<rect x="2054.0" y="870.8" width="59.4" height="35.7" fill="#0080ff"/>
<rect x="2054.0" y="905.9" width="59.4" height="348.4" fill="#0052ff"/>
<rect x="2054.0" y="1253.7" width="59.4" height="22.3" fill="#00dbff"/>
<rect x="2054.0" y="1275.4" width="59.4" height="163.7" fill="#0094ff"/>
<rect x="2054.0" y="1438.5" width="59.4" height="8.9" fill="#00b2ff"/>
<rect x="2054.0" y="1446.8" width="59.4" height="14.2" fill="#00b2ff"/>
<rect x="2054.0" y="1460.4" width="59.4" height="13.6" fill="#00dbff"/>
<rect x="2054.0" y="1473.3" width="59.4" height="23.3" fill="#29ffce"/>
<rect x="2054.0" y="1496.0" width="59.4" height="35.3" fill="#7bff7b"/>
<rect x="2054.0" y="1530.7" width="59.4" height="9.1" fill="#9cff5a"/>
<rect x="2054.0" y="1539.2" width="59.4" height="53.9" fill="#9cff5a"/>
<rect x="2054.0" y="1592.5" width="59.4" height="9.3" fill="#9cff5a"/>
<rect x="2054.0" y="1601.2" width="59.4" height="36.2" fill="#a5ff52"/>
<rect x="2054.0" y="1636.8" width="59.4" height="61.6" fill="#ff8e00"/>
<rect x="2054.0" y="1697.8" width="59.4" height="5.6" fill="#3affbd"/>
<rect x="2054.0" y="1702.9" width="59.4" height="21.9" fill="#3affbd"/>
<rect x="2054.0" y="1724.2" width="59.4" height="9.9" fill="#3affbd"/>
<rect x="2054.0" y="1733.5" width="59.4" height="238.2" fill="#3affbd"/>
<rect x="2112.8" y="34.3" width="5.5" height="49.0" fill="#0000e2"/>
<rect x="2112.8" y="82.7" width="5.5" height="13.8" fill="#00b2ff"/>
<rect x="2112.8" y="95.9" width="5.5" height="27.1" fill="#0066ff"/>
<rect x="2112.8" y="122.4" width="5.5" height="739.9" fill="#00d1ff"/>
<rect x="2112.8" y="861.7" width="5.5" height="9.7" fill="#00b2ff"/>
<rect x="2112.8" y="870.8" width="5.5" height="35.7" fill="#00b2ff"/>
<rect x="2112.8" y="905.9" width="5.5" height="348.4" fill="#007aff"/>
<rect x="2112.8" y="1253.7" width="5.5" height="22.3" fill="#31ffc5"/>
<rect x="2112.8" y="1275.4" width="5.5" height="163.7" fill="#0cf5ea"/>
<rect x="2112.8" y="1438.5" width="5.5" height="8.9" fill="#00d1ff"/>
<rect x="2112.8" y="1446.8" width="5.5" height="14.2" fill="#00d1ff"/>
<rect x="2112.8" y="1460.4" width="5.5" height="13.6" fill="#08f0ef"/>
<rect x="2112.8" y="1473.3" width="5.5" height="23.3" fill="#7bff7b"/>
<rect x="2112.8" y="1496.0" width="5.5" height="35.3" fill="#35ffc1"/>
<rect x="2112.8" y="1530.7" width="5.5" height="9.1" fill="#35ffc1"/>
<rect x="2112.8" y="1539.2" width="5.5" height="53.9" fill="#35ffc1"/>
<rect x="2112.8" y="1592.5" width="5.5" height="9.3" fill="#35ffc1"/>
<rect x="2112.8" y="1601.2" width="5.5" height="36.2" fill="#35ffc1"/>
<rect x="2112.8" y="1636.8" width="5.5" height="61.6" fill="#3affbd"/>
<rect x="2112.8" y="1697.8" width="5.5" height="5.6" fill="#ff8e00"/>
<rect x="2112.8" y="1702.9" width="5.5" height="21.9" fill="#bdff3a"/>
<rect x="2112.8" y="1724.2" width="5.5" height="9.9" fill="#bdff3a"/>
<rect x="2112.8" y="1733.5" width="5.5" height="238.2" fill="#b1ff46"/>
<rect x="2117.7" y="34.3" width="21.1" height="49.0" fill="#0000e2"/>
<rect x="2117.7" y="82.7" width="21.1" height="13.8" fill="#00b2ff"/>
<rect x="2117.7" y="95.9" width="21.1" height="27.1" fill="#0066ff"/>
<rect x="2117.7" y="122.4" width="21.1" height="739.9" fill="#00d1ff"/>
<rect x="2117.7" y="861.7" width="21.1" height="9.7" fill="#00b2ff"/>
<rect x="2117.7" y="870.8" width="21.1" height="35.7" fill="#00b2ff"/>
<rect x="2117.7" y="905.9" width="21.1" height="348.4" fill="#007aff"/>
<rect x="2117.7" y="1253.7" width="21.1" height="22.3" fill="#31ffc5"/>
<rect x="2117.7" y="1275.4" width="21.1" height="163.7" fill="#0cf5ea"/>
<rect x="2117.7" y="1438.5" width="21.1" height="8.9" fill="#00d1ff"/>
<rect x="2117.7" y="1446.8" width="21.1" height="14.2" fill="#00d1ff"/>
<rect x="2117.7" y="1460.4" width="21.1" height="13.6" fill="#08f0ef"/>
<rect x="2117.7" y="1473.3" width="21.1" height="23.3" fill="#7bff7b"/>
<rect x="2117.7" y="1496.0" width="21.1" height="35.3" fill="#35ffc1"/>
<rect x="2117.7" y="1530.7" width="21.1" height="9.1" fill="#35ffc1"/>
<rect x="2117.7" y="1539.2" width="21.1" height="53.9" fill="#35ffc1"/>
<rect x="2117.7" y="1592.5" width="21.1" height="9.3" fill="#35ffc1"/>
<rect x="2117.7" y="1601.2" width="21.1" height="36.2" fill="#35ffc1"/>
<rect x="2117.7" y="1636.8" width="21.1" height="61.6" fill="#3affbd"/>
<rect x="2117.7" y="1697.8" width="21.1" height="5.6" fill="#bdff3a"/>
<rect x="2117.7" y="1702.9" width="21.1" height="21.9" fill="#ff8e00"/>
<rect x="2117.7" y="1724.2" width="21.1" height="9.9" fill="#bdff3a"/>
<rect x="2117.7" y="1733.5" width="21.1" height="238.2" fill="#b1ff46"/>
<rect x="2138.2" y="34.3" width="9.6" height="49.0" fill="#0000e2"/>
<rect x="2138.2" y="82.7" width="9.6" height="13.8" fill="#00b2ff"/>
<rect x="2138.2" y="95.9" width="9.6" height="27.1" fill="#0066ff"/>
<rect x="2138.2" y="122.4" width="9.6" height="739.9" fill="#00d1ff"/>
<rect x="2138.2" y="861.7" width="9.6" height="9.7" fill="#00b2ff"/>
<rect x="2138.2" y="870.8" width="9.6" height="35.7" fill="#00b2ff"/>
<rect x="2138.2" y="905.9" width="9.6" height="348.4" fill="#007aff"/>
<rect x="2138.2" y="1253.7" width="9.6" height="22.3" fill="#31ffc5"/>
<rect x="2138.2" y="1275.4" width="9.6" height="163.7" fill="#0cf5ea"/>
<rect x="2138.2" y="1438.5" width="9.6" height="8.9" fill="#00d1ff"/>
<rect x="2138.2" y="1446.8" width="9.6" height="14.2" fill="#00d1ff"/>
<rect x="2138.2" y="1460.4" width="9.6" height="13.6" fill="#08f0ef"/>
<rect x="2138.2" y="1473.3" width="9.6" height="23.3" fill="#7bff7b"/>
<rect x="2138.2" y="1496.0" width="9.6" height="35.3" fill="#35ffc1"/>
<rect x="2138.2" y="1530.7" width="9.6" height="9.1" fill="#35ffc1"/>
<rect x="2138.2" y="1539.2" width="9.6" height="53.9" fill="#35ffc1"/>
<rect x="2138.2" y="1592.5" width="9.6" height="9.3" fill="#35ffc1"/>
<rect x="2138.2" y="1601.2" width="9.6" height="36.2" fill="#35ffc1"/>
<rect x="2138.2" y="1636.8" width="9.6" height="61.6" fill="#3affbd"/>
<rect x="2138.2" y="1697.8" width="9.6" height="5.6" fill="#bdff3a"/>
<rect x="2138.2" y="1702.9" width="9.6" height="21.9" fill="#bdff3a"/>
<rect x="2138.2" y="1724.2" width="9.6" height="9.9" fill="#ff8e00"/>
<rect x="2138.2" y="1733.5" width="9.6" height="238.2" fill="#b1ff46"/>
<rect x="2147.2" y="34.3" width="229.6" height="49.0" fill="#0000e2"/>
<rect x="2147.2" y="82.7" width="229.6" height="13.8" fill="#00b2ff"/>
<rect x="2147.2" y="95.9" width="229.6" height="27.1" fill="#0066ff"/>
<rect x="2147.2" y="122.4" width="229.6" height="739.9" fill="#00d6ff"/>
<rect x="2147.2" y="861.7" width="229.6" height="9.7" fill="#00b2ff"/>
<rect x="2147.2" y="870.8" width="229.6" height="35.7" fill="#00b2ff"/>
<rect x="2147.2" y="905.9" width="229.6" height="348.4" fill="#007aff"/>
<rect x="2147.2" y="1253.7" width="229.6" height="22.3" fill="#31ffc5"/>
<rect x="2147.2" y="1275.4" width="229.6" height="163.7" fill="#0cf5ea"/>
<rect x="2147.2" y="1438.5" width="229.6" height="8.9" fill="#00d1ff"/>
<rect x="2147.2" y="1446.8" width="229.6" height="14.2" fill="#00d1ff"/>
<rect x="2147.2" y="1460.4" width="229.6" height="13.6" fill="#08f0ef"/>
<rect x="2147.2" y="1473.3" width="229.6" height="23.3" fill="#4affad"/>
<rect x="2147.2" y="1496.0" width="229.6" height="35.3" fill="#35ffc1"/>
<rect x="2147.2" y="1530.7" width="229.6" height="9.1" fill="#35ffc1"/>
<rect x="2147.2" y="1539.2" width="229.6" height="53.9" fill="#35ffc1"/>
<rect x="2147.2" y="1592.5" width="229.6" height="9.3" fill="#35ffc1"/>
<rect x="2147.2" y="1601.2" width="229.6" height="36.2" fill="#35ffc1"/>
<rect x="2147.2" y="1636.8" width="229.6" height="61.6" fill="#3affbd"/>
<rect x="2147.2" y="1697.8" width="229.6" height="5.6" fill="#b1ff46"/>
<rect x="2147.2" y="1702.9" width="229.6" height="21.9" fill="#b1ff46"/>
<rect x="2147.2" y="1724.2" width="229.6" height="9.9" fill="#b1ff46"/>
<rect x="2147.2" y="1733.5" width="229.6" height="238.2" fill="#ff2f00"/>
<rect x="747.5" y="1750.9" width="29.9" height="35.1" fill="#19ffde"/>
<rect x="2164.0" y="281.2" width="33.8" height="31.0" fill="#10fae6"/>
<rect x="747.5" y="1865.4" width="29.9" height="74.2" fill="#19ffde"/>
<rect x="2274.3" y="281.2" width="71.5" height="31.0" fill="#10fae6"/>
<rect x="747.5" y="1948.1" width="29.9" height="23.6" fill="#19ffde"/>
<rect x="2354.0" y="281.2" width="22.8" height="31.0" fill="#10fae6"/>
<rect x="776.8" y="1750.9" width="24.5" height="35.1" fill="#0af2ed"/>
<rect x="2164.0" y="311.6" width="33.8" height="25.4" fill="#02e8f5"/>
<rect x="776.8" y="1865.4" width="24.5" height="74.2" fill="#0af2ed"/>
<rect x="2274.3" y="311.6" width="71.5" height="25.4" fill="#02e8f5"/>
<rect x="776.8" y="1948.1" width="24.5" height="23.6" fill="#0af2ed"/>
<rect x="2354.0" y="311.6" width="22.8" height="25.4" fill="#02e8f5"/>
<rect x="806.3" y="1750.9" width="14.0" height="35.1" fill="#15ffe2"/>
<rect x="2164.0" y="342.3" width="33.8" height="14.5" fill="#0cf5ea"/>
<rect x="806.3" y="1865.4" width="14.0" height="74.2" fill="#15ffe2"/>
<rect x="2274.3" y="342.3" width="71.5" height="14.5" fill="#0cf5ea"/>
<rect x="806.3" y="1948.1" width="14.0" height="23.6" fill="#15ffe2"/>
<rect x="2354.0" y="342.3" width="22.8" height="14.5" fill="#0cf5ea"/>
<rect x="1862.9" y="1275.4" width="8.6" height="163.7" fill="#00e0fb"/>
<rect x="1705.7" y="1438.5" width="157.8" height="8.9" fill="#00e0fb"/>
<rect x="1862.9" y="1253.7" width="8.6" height="22.3" fill="#08f0ef"/>
<rect x="1684.8" y="1438.5" width="21.5" height="8.9" fill="#08f0ef"/>
<rect x="1862.9" y="122.4" width="8.6" height="739.9" fill="#00b2ff"/>
<rect x="594.4" y="1438.5" width="713.1" height="8.9" fill="#00b2ff"/>
<rect x="1862.9" y="905.9" width="8.6" height="348.4" fill="#0094ff"/>
<rect x="1349.5" y="1438.5" width="335.9" height="8.9" fill="#0094ff"/>
<rect x="1862.9" y="1446.8" width="8.6" height="27.1" fill="#29ffce"/>
<rect x="1870.9" y="1438.5" width="26.2" height="8.9" fill="#29ffce"/>
<rect x="1862.9" y="1473.3" width="8.6" height="23.3" fill="#29ffce"/>
<rect x="1896.5" y="1438.5" width="22.4" height="8.9" fill="#29ffce"/>
<rect x="1862.9" y="1496.0" width="8.6" height="202.4" fill="#08f0ef"/>
<rect x="1918.3" y="1438.5" width="195.1" height="8.9" fill="#08f0ef"/>
<rect x="1862.9" y="1697.8" width="8.6" height="273.9" fill="#29ffce"/>
<rect x="2112.8" y="1438.5" width="264.0" height="8.9" fill="#29ffce"/>
<rect x="594.4" y="122.4" width="26.4" height="27.3" fill="#f3fa04"/>
<rect x="594.4" y="147.6" width="26.4" height="72.8" fill="#f3fa04"/>
<rect x="594.4" y="219.8" width="26.4" height="47.9" fill="#f3fa04"/>
<rect x="594.4" y="267.1" width="26.4" height="89.7" fill="#f3fa04"/>
<rect x="594.4" y="356.2" width="26.4" height="29.3" fill="#f3fa04"/>
<rect x="594.4" y="384.9" width="26.4" height="103.1" fill="#f3fa04"/>
<rect x="594.4" y="487.3" width="26.4" height="88.7" fill="#f3fa04"/>
<rect x="594.4" y="575.4" width="26.4" height="43.6" fill="#f3fa04"/>
<rect x="594.4" y="618.4" width="26.4" height="66.3" fill="#f3fa04"/>
<rect x="594.4" y="684.1" width="26.4" height="87.0" fill="#f3fa04"/>
<rect x="594.4" y="770.5" width="26.4" height="60.8" fill="#f3fa04"/>
<rect x="594.4" y="830.7" width="26.4" height="31.6" fill="#f3fa04"/>
<rect x="618.7" y="122.4" width="70.2" height="27.3" fill="#f3fa04"/>
<rect x="618.7" y="147.6" width="70.2" height="72.8" fill="#ffc600"/>
<rect x="618.7" y="219.8" width="70.2" height="47.9" fill="#ffc600"/>
<rect x="618.7" y="267.1" width="70.2" height="89.7" fill="#ffc600"/>
<rect x="618.7" y="356.2" width="70.2" height="29.3" fill="#ffc600"/>
<rect x="618.7" y="384.9" width="70.2" height="103.1" fill="#ffc600"/>
<rect x="618.7" y="487.3" width="70.2" height="88.7" fill="#ffc600"/>
<rect x="618.7" y="575.4" width="70.2" height="43.6" fill="#ffc600"/>
<rect x="618.7" y="618.4" width="70.2" height="66.3" fill="#ffc600"/>
<rect x="618.7" y="684.1" width="70.2" height="87.0" fill="#ffc600"/>
<rect x="618.7" y="770.5" width="70.2" height="60.8" fill="#ffc600"/>
<rect x="618.7" y="830.7" width="70.2" height="31.6" fill="#ffc600"/>
<rect x="688.3" y="122.4" width="46.1" height="27.3" fill="#f3fa04"/>
<rect x="688.3" y="147.6" width="46.1" height="72.8" fill="#ffc600"/>
<rect x="688.3" y="219.8" width="46.1" height="47.9" fill="#ff7600"/>
<rect x="688.3" y="267.1" width="46.1" height="89.7" fill="#ff7600"/>
<rect x="688.3" y="356.2" width="46.1" height="29.3" fill="#ff7b00"/>
<rect x="688.3" y="384.9" width="46.1" height="103.1" fill="#ff7600"/>
<rect x="688.3" y="487.3" width="46.1" height="88.7" fill="#ff7600"/>
<rect x="688.3" y="575.4" width="46.1" height="43.6" fill="#ff7600"/>
<rect x="688.3" y="618.4" width="46.1" height="66.3" fill="#ff7600"/>
<rect x="688.3" y="684.1" width="46.1" height="87.0" fill="#ff7600"/>
<rect x="688.3" y="770.5" width="46.1" height="60.8" fill="#ff7600"/>
<rect x="688.3" y="830.7" width="46.1" height="31.6" fill="#ff7600"/>
<rect x="733.9" y="122.4" width="86.5" height="27.3" fill="#f3fa04"/>
<rect x="733.9" y="147.6" width="86.5" height="72.8" fill="#ffc600"/>
<rect x="733.9" y="219.8" width="86.5" height="47.9" fill="#ff7600"/>
<rect x="733.9" y="267.1" width="86.5" height="89.7" fill="#ff7100"/>
<rect x="733.9" y="356.2" width="86.5" height="29.3" fill="#ff7b00"/>
<rect x="733.9" y="384.9" width="86.5" height="103.1" fill="#ff7100"/>
<rect x="733.9" y="487.3" width="86.5" height="88.7" fill="#ff7100"/>
<rect x="733.9" y="575.4" width="86.5" height="43.6" fill="#ff7100"/>
<rect x="733.9" y="618.4" width="86.5" height="66.3" fill="#ff7100"/>
<rect x="733.9" y="684.1" width="86.5" height="87.0" fill="#ff7100"/>
<rect x="733.9" y="770.5" width="86.5" height="60.8" fill="#ff7100"/>
<rect x="733.9" y="830.7" width="86.5" height="31.6" fill="#ff7100"/>
<rect x="819.7" y="122.4" width="28.2" height="27.3" fill="#f3fa04"/>
<rect x="819.7" y="147.6" width="28.2" height="72.8" fill="#ffc600"/>
<rect x="819.7" y="219.8" width="28.2" height="47.9" fill="#ff7b00"/>
<rect x="819.7" y="267.1" width="28.2" height="89.7" fill="#ff7b00"/>
<rect x="819.7" y="356.2" width="28.2" height="29.3" fill="#ff7b00"/>
<rect x="819.7" y="384.9" width="28.2" height="103.1" fill="#ff7b00"/>
<rect x="819.7" y="487.3" width="28.2" height="88.7" fill="#ff7b00"/>
<rect x="819.7" y="575.4" width="28.2" height="43.6" fill="#ff7b00"/>
<rect x="819.7" y="618.4" width="28.2" height="66.3" fill="#ff7b00"/>
<rect x="819.7" y="684.1" width="28.2" height="87.0" fill="#ff7b00"/>
<rect x="819.7" y="770.5" width="28.2" height="60.8" fill="#ff7b00"/>
<rect x="819.7" y="830.7" width="28.2" height="31.6" fill="#ff7b00"/>
<rect x="847.4" y="122.4" width="99.3" height="27.3" fill="#f3fa04"/>
<rect x="847.4" y="147.6" width="99.3" height="72.8" fill="#ffc600"/>
<rect x="847.4" y="219.8" width="99.3" height="47.9" fill="#ff7600"/>
<rect x="847.4" y="267.1" width="99.3" height="89.7" fill="#ff7100"/>
<rect x="847.4" y="356.2" width="99.3" height="29.3" fill="#ff7b00"/>
<rect x="847.4" y="384.9" width="99.3" height="103.1" fill="#ff4c00"/>
<rect x="847.4" y="487.3" width="99.3" height="88.7" fill="#ff6d00"/>
<rect x="847.4" y="575.4" width="99.3" height="43.6" fill="#ff4c00"/>
<rect x="847.4" y="618.4" width="99.3" height="66.3" fill="#ff4c00"/>
<rect x="847.4" y="684.1" width="99.3" height="87.0" fill="#ff4c00"/>
<rect x="847.4" y="770.5" width="99.3" height="60.8" fill="#ff4c00"/>
<rect x="847.4" y="830.7" width="99.3" height="31.6" fill="#ff4c00"/>
<rect x="946.1" y="122.4" width="85.5" height="27.3" fill="#f3fa04"/>
<rect x="946.1" y="147.6" width="85.5" height="72.8" fill="#ffc600"/>
<rect x="946.1" y="219.8" width="85.5" height="47.9" fill="#ff7600"/>
<rect x="946.1" y="267.1" width="85.5" height="89.7" fill="#ff7100"/>
<rect x="946.1" y="356.2" width="85.5" height="29.3" fill="#ff7b00"/>
<rect x="946.1" y="384.9" width="85.5" height="103.1" fill="#ff6d00"/>
<rect x="946.1" y="487.3" width="85.5" height="88.7" fill="#ff6d00"/>
<rect x="946.1" y="575.4" width="85.5" height="43.6" fill="#ff6d00"/>
<rect x="946.1" y="618.4" width="85.5" height="66.3" fill="#ff6d00"/>
<rect x="946.1" y="684.1" width="85.5" height="87.0" fill="#ff6d00"/>
<rect x="946.1" y="770.5" width="85.5" height="60.8" fill="#ff6d00"/>
<rect x="946.1" y="830.7" width="85.5" height="31.6" fill="#ff6d00"/>
<rect x="1031.1" y="122.4" width="42.0" height="27.3" fill="#f3fa04"/>
<rect x="1031.1" y="147.6" width="42.0" height="72.8" fill="#ffc600"/>
<rect x="1031.1" y="219.8" width="42.0" height="47.9" fill="#ff7600"/>
<rect x="1031.1" y="267.1" width="42.0" height="89.7" fill="#ff7100"/>
<rect x="1031.1" y="356.2" width="42.0" height="29.3" fill="#ff7b00"/>
<rect x="1031.1" y="384.9" width="42.0" height="103.1" fill="#ff4c00"/>
<rect x="1031.1" y="487.3" width="42.0" height="88.7" fill="#ff6d00"/>
<rect x="1031.1" y="575.4" width="42.0" height="43.6" fill="#ff4200"/>
<rect x="1031.1" y="618.4" width="42.0" height="66.3" fill="#ff4200"/>
<rect x="1031.1" y="684.1" width="42.0" height="87.0" fill="#ff4200"/>
<rect x="1031.1" y="770.5" width="42.0" height="60.8" fill="#ff4200"/>
<rect x="1031.1" y="830.7" width="42.0" height="31.6" fill="#ff4200"/>
<rect x="1072.5" y="122.4" width="63.9" height="27.3" fill="#f3fa04"/>
<rect x="1072.5" y="147.6" width="63.9" height="72.8" fill="#ffc600"/>
<rect x="1072.5" y="219.8" width="63.9" height="47.9" fill="#ff7600"/>
<rect x="1072.5" y="267.1" width="63.9" height="89.7" fill="#ff7100"/>
<rect x="1072.5" y="356.2" width="63.9" height="29.3" fill="#ff7b00"/>
<rect x="1072.5" y="384.9" width="63.9" height="103.1" fill="#ff4c00"/>
<rect x="1072.5" y="487.3" width="63.9" height="88.7" fill="#ff6d00"/>
<rect x="1072.5" y="575.4" width="63.9" height="43.6" fill="#ff4200"/>
<rect x="1072.5" y="618.4" width="63.9" height="66.3" fill="#ff3900"/>
<rect x="1072.5" y="684.1" width="63.9" height="87.0" fill="#ff3900"/>
<rect x="1072.5" y="770.5" width="63.9" height="60.8" fill="#ff3900"/>
<rect x="1072.5" y="830.7" width="63.9" height="31.6" fill="#ff3900"/>
<rect x="1135.8" y="122.4" width="83.9" height="27.3" fill="#f3fa04"/>
<rect x="1135.8" y="147.6" width="83.9" height="72.8" fill="#ffc600"/>
<rect x="1135.8" y="219.8" width="83.9" height="47.9" fill="#ff7600"/>
<rect x="1135.8" y="267.1" width="83.9" height="89.7" fill="#ff7100"/>
<rect x="1135.8" y="356.2" width="83.9" height="29.3" fill="#ff7b00"/>
<rect x="1135.8" y="384.9" width="83.9" height="103.1" fill="#ff4c00"/>
<rect x="1135.8" y="487.3" width="83.9" height="88.7" fill="#ff6d00"/>
<rect x="1135.8" y="575.4" width="83.9" height="43.6" fill="#ff4200"/>
<rect x="1135.8" y="618.4" width="83.9" height="66.3" fill="#ff3900"/>
<rect x="1135.8" y="684.1" width="83.9" height="87.0" fill="#ff3900"/>
<rect x="1135.8" y="770.5" width="83.9" height="60.8" fill="#ff3900"/>
<rect x="1135.8" y="830.7" width="83.9" height="31.6" fill="#ff3900"/>
<rect x="1219.0" y="122.4" width="58.7" height="27.3" fill="#f3fa04"/>
<rect x="1219.0" y="147.6" width="58.7" height="72.8" fill="#ffc600"/>
<rect x="1219.0" y="219.8" width="58.7" height="47.9" fill="#ff7600"/>
<rect x="1219.0" y="267.1" width="58.7" height="89.7" fill="#ff7100"/>
<rect x="1219.0" y="356.2" width="58.7" height="29.3" fill="#ff7b00"/>
<rect x="1219.0" y="384.9" width="58.7" height="103.1" fill="#ff4c00"/>
<rect x="1219.0" y="487.3" width="58.7" height="88.7" fill="#ff6d00"/>
<rect x="1219.0" y="575.4" width="58.7" height="43.6" fill="#ff4200"/>
<rect x="1219.0" y="618.4" width="58.7" height="66.3" fill="#ff3900"/>
<rect x="1219.0" y="684.1" width="58.7" height="87.0" fill="#ff3900"/>
<rect x="1219.0" y="770.5" width="58.7" height="60.8" fill="#ff3900"/>
<rect x="1219.0" y="830.7" width="58.7" height="31.6" fill="#ff3900"/>
<rect x="1277.1" y="122.4" width="30.5" height="27.3" fill="#f3fa04"/>
<rect x="1277.1" y="147.6" width="30.5" height="72.8" fill="#ffc600"/>
<rect x="1277.1" y="219.8" width="30.5" height="47.9" fill="#ff7600"/>
<rect x="1277.1" y="267.1" width="30.5" height="89.7" fill="#ff7100"/>
<rect x="1277.1" y="356.2" width="30.5" height="29.3" fill="#ff7b00"/>
<rect x="1277.1" y="384.9" width="30.5" height="103.1" fill="#ff4c00"/>
<rect x="1277.1" y="487.3" width="30.5" height="88.7" fill="#ff6d00"/>
<rect x="1277.1" y="575.4" width="30.5" height="43.6" fill="#ff4200"/>
<rect x="1277.1" y="618.4" width="30.5" height="66.3" fill="#ff3900"/>
<rect x="1277.1" y="684.1" width="30.5" height="87.0" fill="#ff3900"/>
<rect x="1277.1" y="770.5" width="30.5" height="60.8" fill="#ff3900"/>
<rect x="1277.1" y="830.7" width="30.5" height="31.6" fill="#ff2f00"/>
<rect x="1041.5" y="586.3" width="266.0" height="276.0" fill="#ff3d00"/>
<rect x="1086.3" y="632.8" width="221.2" height="229.5" fill="#ff3800"/>
<rect x="1131.1" y="679.3" width="176.4" height="183.0" fill="#ff3200"/>
<rect x="1175.9" y="725.7" width="131.6" height="136.6" fill="#ff2c00"/>
<rect x="1220.7" y="772.2" width="86.8" height="90.1" fill="#ff2700"/>
<rect x="1265.5" y="818.7" width="42.0" height="43.6" fill="#ff2100"/>
<rect x="843.6" y="219.8" width="5.3" height="642.5" fill="#ffaa00"/>
<rect x="688.3" y="381.0" width="619.2" height="5.4" fill="#ffaa00"/>
<rect x="1217.9" y="266.7" width="5.3" height="595.6" fill="#ff7100"/>
<rect x="733.5" y="769.3" width="574.1" height="5.4" fill="#ff7100"/>
<rect x="826.8" y="576.6" width="15.5" height="285.7" fill="#ff4700"/>
<rect x="1032.2" y="363.6" width="275.4" height="16.1" fill="#ff4700"/>
<rect x="901.5" y="219.8" width="5.3" height="642.5" fill="#ff8e00"/>
<rect x="688.3" y="441.0" width="619.2" height="5.4" fill="#ff8e00"/>
<rect x="1131.1" y="266.7" width="5.3" height="595.6" fill="#ff6800"/>
<rect x="733.5" y="679.3" width="574.1" height="5.4" fill="#ff6800"/>
<rect x="1049.0" y="615.3" width="9.9" height="247.0" fill="#ff2100"/>
<rect x="1069.5" y="594.0" width="238.0" height="10.3" fill="#ff2100"/>
<rect x="1246.8" y="615.3" width="8.1" height="247.0" fill="#ff1800"/>
<rect x="1069.5" y="799.3" width="238.0" height="8.3" fill="#ff1800"/>
<rect x="509.5" y="34.3" width="47.3" height="49.0" fill="#ff3400"/>
<rect x="526.3" y="51.7" width="30.5" height="31.6" fill="#ff2100"/>
<rect x="556.2" y="82.7" width="13.3" height="13.8" fill="#ff6800"/>
<rect x="568.9" y="95.9" width="26.2" height="27.1" fill="#ff8000"/>
<rect x="688.3" y="219.8" width="46.1" height="47.9" fill="#ff2f00"/>
<rect x="733.9" y="267.1" width="86.5" height="89.7" fill="#ff1c00"/>
<rect x="865.1" y="403.3" width="36.1" height="37.4" fill="#ff2600"/>
<rect x="903.2" y="442.8" width="35.9" height="37.2" fill="#ff2600"/>
<rect x="1135.8" y="684.1" width="83.9" height="87.0" fill="#ff1300"/>
<rect x="1228.2" y="780.0" width="79.4" height="82.3" fill="#ff1800"/>
<rect x="1307.0" y="861.7" width="9.4" height="9.7" fill="#52ffa5"/>
<rect x="1315.7" y="870.8" width="34.4" height="35.7" fill="#ff1800"/>
<rect x="1349.5" y="905.9" width="335.9" height="348.4" fill="#ff5500"/>
<rect x="1502.0" y="905.9" width="183.3" height="158.8" fill="#ff7100"/>
<rect x="1349.5" y="1064.1" width="153.1" height="190.2" fill="#ff5a00"/>
<rect x="1421.2" y="905.9" width="264.2" height="75.0" fill="#ff7600"/>
<rect x="1349.5" y="980.2" width="72.3" height="84.5" fill="#ff6800"/>
<rect x="1441.0" y="989.1" width="244.4" height="9.3" fill="#ff2f00"/>
<rect x="1441.0" y="1021.1" width="244.4" height="4.5" fill="#ff1c00"/>
<rect x="1441.0" y="1056.0" width="244.4" height="5.4" fill="#ff2100"/>
<rect x="1441.0" y="923.3" width="244.4" height="4.5" fill="#ff6800"/>
<rect x="1424.2" y="1002.7" width="11.8" height="251.6" fill="#ff2f00"/>
<rect x="1454.1" y="1002.7" width="3.4" height="251.6" fill="#ff1300"/>
<rect x="1485.8" y="1002.7" width="11.8" height="251.6" fill="#ff2100"/>
<rect x="1386.8" y="1002.7" width="4.3" height="251.6" fill="#ff3900"/>
<rect x="1349.5" y="905.9" width="335.9" height="9.5" fill="#ffa500"/>
<rect x="1349.5" y="905.9" width="7.1" height="348.4" fill="#ff9c00"/>
<rect x="1375.6" y="933.0" width="46.1" height="47.9" fill="#ff2100"/>
<rect x="1455.9" y="1016.3" width="24.9" height="25.8" fill="#ff1c00"/>
<rect x="1684.8" y="1253.7" width="21.5" height="22.3" fill="#ff4200"/>
<rect x="1705.7" y="1275.4" width="157.8" height="163.7" fill="#ffd900"/>
<rect x="1705.7" y="1275.4" width="157.8" height="9.7" fill="#e6ff10"/>
<rect x="1705.7" y="1275.4" width="9.4" height="163.7" fill="#eaff0c"/>
<rect x="1705.7" y="1275.4" width="9.4" height="9.7" fill="#ff6800"/>
<rect x="1714.5" y="1284.5" width="64.6" height="67.0" fill="#ff3d00"/>
<rect x="1778.5" y="1350.9" width="85.0" height="88.1" fill="#ff7100"/>
<rect x="1862.9" y="1438.5" width="8.6" height="8.9" fill="#ceff29"/>
<rect x="1870.9" y="1446.8" width="13.7" height="14.2" fill="#ff5500"/>
<rect x="1884.0" y="1460.4" width="13.1" height="13.6" fill="#ff7b00"/>
<rect x="1896.5" y="1473.3" width="22.4" height="23.3" fill="#ff8400"/>
<rect x="1918.3" y="1496.0" width="34.0" height="35.3" fill="#efff08"/>
<rect x="1926.3" y="1504.3" width="26.0" height="26.9" fill="#ffd000"/>
<rect x="1951.7" y="1530.7" width="8.8" height="9.1" fill="#a5ff52"/>
<rect x="1959.9" y="1539.2" width="51.9" height="53.9" fill="#ff4700"/>
<rect x="1959.9" y="1496.0" width="51.9" height="8.5" fill="#f3fa04"/>
<rect x="1957.1" y="1534.9" width="54.7" height="4.9" fill="#deff19"/>
<rect x="1955.8" y="1539.2" width="4.7" height="53.9" fill="#ceff29"/>
<rect x="1918.3" y="1539.2" width="8.6" height="53.9" fill="#efff08"/>
<rect x="2011.3" y="1592.5" width="43.3" height="45.0" fill="#a5ff52"/>
<rect x="2019.7" y="1601.2" width="34.9" height="36.2" fill="#d6ff21"/>
<rect x="2026.2" y="1608.0" width="28.4" height="29.5" fill="#f3fa04"/>
<rect x="2030.9" y="1612.8" width="23.7" height="24.6" fill="#ffa100"/>
<rect x="2054.0" y="1636.8" width="59.4" height="61.6" fill="#ff9200"/>
<rect x="2112.8" y="1697.8" width="5.5" height="5.6" fill="#a5ff52"/>
<rect x="2117.7" y="1702.9" width="21.1" height="21.9" fill="#ff8e00"/>
<rect x="2138.2" y="1724.2" width="9.6" height="9.9" fill="#ff3900"/>
<rect x="2147.2" y="1733.5" width="229.6" height="238.2" fill="#ff2b00"/>
<rect x="2197.2" y="1733.5" width="9.4" height="238.2" fill="#ff6800"/>
<rect x="2147.2" y="1785.4" width="229.6" height="9.7" fill="#ff6800"/>
<rect x="2224.1" y="1825.8" width="3.4" height="145.9" fill="#ff5500"/>
<rect x="2236.2" y="1813.3" width="140.6" height="3.5" fill="#ff5500"/>
<rect x="2354.0" y="1750.9" width="22.8" height="35.1" fill="#ff1300"/>
<rect x="2164.0" y="1948.1" width="33.8" height="23.6" fill="#ff1300"/>
<path d="M509.8 34.6h4.7V1971.4h-4.7zM514.5 34.6h4.7V1971.4h-4.7zM519.3 34.6h4.7V1971.4h-4.7zM552.4 34.6h4.7V1971.4h-4.7zM614.0 34.6h4.7V1971.4h-4.7zM675.6 34.6h4.7V1971.4h-4.7zM808.3 34.6h4.7V1971.4h-4.7zM832.0 34.6h4.7V1971.4h-4.7zM850.9 34.6h4.7V1971.4h-4.7zM922.0 34.6h4.7V1971.4h-4.7zM931.5 34.6h4.7V1971.4h-4.7zM959.9 34.6h4.7V1971.4h-4.7zM993.1 34.6h4.7V1971.4h-4.7zM1035.7 34.6h4.7V1971.4h-4.7zM1045.2 34.6h4.7V1971.4h-4.7zM1111.5 34.6h4.7V1971.4h-4.7zM1135.2 34.6h4.7V1971.4h-4.7zM1139.9 34.6h4.7V1971.4h-4.7zM1149.4 34.6h4.7V1971.4h-4.7zM1168.4 34.6h4.7V1971.4h-4.7zM1173.1 34.6h4.7V1971.4h-4.7zM1196.8 34.6h4.7V1971.4h-4.7zM1229.9 34.6h4.7V1971.4h-4.7zM1239.4 34.6h4.7V1971.4h-4.7zM1253.6 34.6h4.7V1971.4h-4.7zM1258.4 34.6h4.7V1971.4h-4.7zM1263.1 34.6h4.7V1971.4h-4.7zM1310.5 34.6h4.7V1971.4h-4.7zM1338.9 34.6h4.7V1971.4h-4.7zM1343.7 34.6h4.7V1971.4h-4.7zM1386.3 34.6h4.7V1971.4h-4.7zM1414.7 34.6h4.7V1971.4h-4.7zM1438.4 34.6h4.7V1971.4h-4.7zM1504.7 34.6h4.7V1971.4h-4.7zM1542.6 34.6h4.7V1971.4h-4.7zM1594.8 34.6h4.7V1971.4h-4.7zM1656.4 34.6h4.7V1971.4h-4.7zM1670.6 34.6h4.7V1971.4h-4.7zM1798.5 34.6h4.7V1971.4h-4.7zM1836.4 34.6h4.7V1971.4h-4.7zM1888.5 34.6h4.7V1971.4h-4.7zM1893.2 34.6h4.7V1971.4h-4.7zM1973.8 34.6h4.7V1971.4h-4.7zM1983.3 34.6h4.7V1971.4h-4.7zM2007.0 34.6h4.7V1971.4h-4.7zM2011.7 34.6h4.7V1971.4h-4.7zM2021.2 34.6h4.7V1971.4h-4.7zM2040.1 34.6h4.7V1971.4h-4.7zM2054.3 34.6h4.7V1971.4h-4.7zM2063.8 34.6h4.7V1971.4h-4.7zM2144.3 34.6h4.7V1971.4h-4.7zM2149.1 34.6h4.7V1971.4h-4.7zM2168.0 34.6h4.7V1971.4h-4.7zM2220.2 34.6h4.7V1971.4h-4.7zM2229.6 34.6h4.7V1971.4h-4.7zM2243.8 34.6h4.7V1971.4h-4.7zM2253.3 34.6h4.7V1971.4h-4.7zM2267.5 34.6h4.7V1971.4h-4.7zM2333.9 34.6h4.7V1971.4h-4.7zM2352.8 34.6h4.7V1971.4h-4.7z" fill="#ff00ff" fill-opacity="0.012" style="mix-blend-mode:multiply"/>
<path d="M590.3 34.6h4.7V1971.4h-4.7zM822.5 34.6h4.7V1971.4h-4.7zM827.2 34.6h4.7V1971.4h-4.7zM865.1 34.6h4.7V1971.4h-4.7zM936.2 34.6h4.7V1971.4h-4.7zM983.6 34.6h4.7V1971.4h-4.7zM1068.9 34.6h4.7V1971.4h-4.7zM1092.6 34.6h4.7V1971.4h-4.7zM1121.0 34.6h4.7V1971.4h-4.7zM1158.9 34.6h4.7V1971.4h-4.7zM1248.9 34.6h4.7V1971.4h-4.7zM1277.3 34.6h4.7V1971.4h-4.7zM1282.1 34.6h4.7V1971.4h-4.7zM1305.8 34.6h4.7V1971.4h-4.7zM1320.0 34.6h4.7V1971.4h-4.7zM1362.6 34.6h4.7V1971.4h-4.7zM1367.3 34.6h4.7V1971.4h-4.7zM1447.9 34.6h4.7V1971.4h-4.7zM1462.1 34.6h4.7V1971.4h-4.7zM1533.2 34.6h4.7V1971.4h-4.7zM1552.1 34.6h4.7V1971.4h-4.7zM1556.9 34.6h4.7V1971.4h-4.7zM1590.0 34.6h4.7V1971.4h-4.7zM1609.0 34.6h4.7V1971.4h-4.7zM1632.7 34.6h4.7V1971.4h-4.7zM1665.8 34.6h4.7V1971.4h-4.7zM1689.5 34.6h4.7V1971.4h-4.7zM1699.0 34.6h4.7V1971.4h-4.7zM1708.5 34.6h4.7V1971.4h-4.7zM1751.1 34.6h4.7V1971.4h-4.7zM1770.1 34.6h4.7V1971.4h-4.7zM1860.1 34.6h4.7V1971.4h-4.7zM1879.0 34.6h4.7V1971.4h-4.7zM1898.0 34.6h4.7V1971.4h-4.7zM1935.9 34.6h4.7V1971.4h-4.7zM1945.4 34.6h4.7V1971.4h-4.7zM2059.1 34.6h4.7V1971.4h-4.7zM2078.0 34.6h4.7V1971.4h-4.7zM2182.2 34.6h4.7V1971.4h-4.7zM2215.4 34.6h4.7V1971.4h-4.7zM2371.8 34.6h4.7V1971.4h-4.7z" fill="#ff00ff" fill-opacity="0.024" style="mix-blend-mode:multiply"/>
<path d="M580.9 34.6h4.7V1971.4h-4.7zM585.6 34.6h4.7V1971.4h-4.7zM756.2 34.6h4.7V1971.4h-4.7zM775.1 34.6h4.7V1971.4h-4.7zM879.3 34.6h4.7V1971.4h-4.7zM907.8 34.6h4.7V1971.4h-4.7zM912.5 34.6h4.7V1971.4h-4.7zM940.9 34.6h4.7V1971.4h-4.7zM1026.2 34.6h4.7V1971.4h-4.7zM1125.7 34.6h4.7V1971.4h-4.7zM1163.6 34.6h4.7V1971.4h-4.7zM1187.3 34.6h4.7V1971.4h-4.7zM1211.0 34.6h4.7V1971.4h-4.7zM1215.7 34.6h4.7V1971.4h-4.7zM1357.9 34.6h4.7V1971.4h-4.7zM1457.4 34.6h4.7V1971.4h-4.7zM1471.6 34.6h4.7V1971.4h-4.7zM1537.9 34.6h4.7V1971.4h-4.7zM1566.3 34.6h4.7V1971.4h-4.7zM1627.9 34.6h4.7V1971.4h-4.7zM1637.4 34.6h4.7V1971.4h-4.7zM1651.6 34.6h4.7V1971.4h-4.7zM1703.7 34.6h4.7V1971.4h-4.7zM1717.9 34.6h4.7V1971.4h-4.7zM1727.4 34.6h4.7V1971.4h-4.7zM1808.0 34.6h4.7V1971.4h-4.7zM1864.8 34.6h4.7V1971.4h-4.7zM1902.7 34.6h4.7V1971.4h-4.7zM1907.5 34.6h4.7V1971.4h-4.7zM1940.6 34.6h4.7V1971.4h-4.7zM1997.5 34.6h4.7V1971.4h-4.7zM2097.0 34.6h4.7V1971.4h-4.7zM2234.4 34.6h4.7V1971.4h-4.7zM2314.9 34.6h4.7V1971.4h-4.7zM2367.0 34.6h4.7V1971.4h-4.7z" fill="#ff00ff" fill-opacity="0.036" style="mix-blend-mode:multiply"/>
<path d="M528.8 34.6h4.7V1971.4h-4.7zM903.0 34.6h4.7V1971.4h-4.7zM988.3 34.6h4.7V1971.4h-4.7zM1049.9 34.6h4.7V1971.4h-4.7zM1130.5 34.6h4.7V1971.4h-4.7zM1523.7 34.6h4.7V1971.4h-4.7zM1599.5 34.6h4.7V1971.4h-4.7zM2191.7 34.6h4.7V1971.4h-4.7z" fill="#ff00ff" fill-opacity="0.048" style="mix-blend-mode:multiply"/>
<path d="M2025.9 34.6h4.7V1971.4h-4.7zM2035.4 34.6h4.7V1971.4h-4.7zM2277.0 34.6h4.7V1971.4h-4.7z" fill="#ff00ff" fill-opacity="0.059" style="mix-blend-mode:multiply"/>
<path d="M533.5 34.6h4.7V1971.4h-4.7zM557.2 34.6h4.7V1971.4h-4.7zM566.7 34.6h4.7V1971.4h-4.7zM609.3 34.6h4.7V1971.4h-4.7zM633.0 34.6h4.7V1971.4h-4.7zM647.2 34.6h4.7V1971.4h-4.7zM732.5 34.6h4.7V1971.4h-4.7zM746.7 34.6h4.7V1971.4h-4.7zM751.4 34.6h4.7V1971.4h-4.7zM789.3 34.6h4.7V1971.4h-4.7zM836.7 34.6h4.7V1971.4h-4.7zM855.7 34.6h4.7V1971.4h-4.7zM898.3 34.6h4.7V1971.4h-4.7zM917.3 34.6h4.7V1971.4h-4.7zM926.7 34.6h4.7V1971.4h-4.7zM997.8 34.6h4.7V1971.4h-4.7zM1021.5 34.6h4.7V1971.4h-4.7zM1054.6 34.6h4.7V1971.4h-4.7zM1064.1 34.6h4.7V1971.4h-4.7zM1073.6 34.6h4.7V1971.4h-4.7zM1083.1 34.6h4.7V1971.4h-4.7zM1116.2 34.6h4.7V1971.4h-4.7zM1144.7 34.6h4.7V1971.4h-4.7zM1154.1 34.6h4.7V1971.4h-4.7zM1201.5 34.6h4.7V1971.4h-4.7zM1267.9 34.6h4.7V1971.4h-4.7zM1291.5 34.6h4.7V1971.4h-4.7zM1315.2 34.6h4.7V1971.4h-4.7zM1353.1 34.6h4.7V1971.4h-4.7zM1419.5 34.6h4.7V1971.4h-4.7zM1500.0 34.6h4.7V1971.4h-4.7zM1571.1 34.6h4.7V1971.4h-4.7zM1580.5 34.6h4.7V1971.4h-4.7zM1585.3 34.6h4.7V1971.4h-4.7zM1604.2 34.6h4.7V1971.4h-4.7zM1613.7 34.6h4.7V1971.4h-4.7zM1642.1 34.6h4.7V1971.4h-4.7zM1680.0 34.6h4.7V1971.4h-4.7zM1684.8 34.6h4.7V1971.4h-4.7zM1713.2 34.6h4.7V1971.4h-4.7zM1732.2 34.6h4.7V1971.4h-4.7zM1736.9 34.6h4.7V1971.4h-4.7zM1765.3 34.6h4.7V1971.4h-4.7zM1793.7 34.6h4.7V1971.4h-4.7zM1812.7 34.6h4.7V1971.4h-4.7zM1831.7 34.6h4.7V1971.4h-4.7zM1855.3 34.6h4.7V1971.4h-4.7zM1869.6 34.6h4.7V1971.4h-4.7zM1992.7 34.6h4.7V1971.4h-4.7zM2002.2 34.6h4.7V1971.4h-4.7zM2049.6 34.6h4.7V1971.4h-4.7zM2082.8 34.6h4.7V1971.4h-4.7zM2087.5 34.6h4.7V1971.4h-4.7zM2106.4 34.6h4.7V1971.4h-4.7zM2120.7 34.6h4.7V1971.4h-4.7zM2130.1 34.6h4.7V1971.4h-4.7zM2158.6 34.6h4.7V1971.4h-4.7zM2172.8 34.6h4.7V1971.4h-4.7zM2177.5 34.6h4.7V1971.4h-4.7zM2296.0 34.6h4.7V1971.4h-4.7zM2324.4 34.6h4.7V1971.4h-4.7zM2338.6 34.6h4.7V1971.4h-4.7z" fill="#00ff00" fill-opacity="0.017" style="mix-blend-mode:screen"/>
<path d="M524.0 34.6h4.7V1971.4h-4.7zM571.4 34.6h4.7V1971.4h-4.7zM595.1 34.6h4.7V1971.4h-4.7zM604.6 34.6h4.7V1971.4h-4.7zM623.5 34.6h4.7V1971.4h-4.7zM628.2 34.6h4.7V1971.4h-4.7zM637.7 34.6h4.7V1971.4h-4.7zM656.7 34.6h4.7V1971.4h-4.7zM666.1 34.6h4.7V1971.4h-4.7zM694.6 34.6h4.7V1971.4h-4.7zM699.3 34.6h4.7V1971.4h-4.7zM708.8 34.6h4.7V1971.4h-4.7zM770.4 34.6h4.7V1971.4h-4.7zM817.8 34.6h4.7V1971.4h-4.7zM846.2 34.6h4.7V1971.4h-4.7zM884.1 34.6h4.7V1971.4h-4.7zM945.7 34.6h4.7V1971.4h-4.7zM950.4 34.6h4.7V1971.4h-4.7zM969.4 34.6h4.7V1971.4h-4.7zM974.1 34.6h4.7V1971.4h-4.7zM1040.4 34.6h4.7V1971.4h-4.7zM1097.3 34.6h4.7V1971.4h-4.7zM1225.2 34.6h4.7V1971.4h-4.7zM1234.7 34.6h4.7V1971.4h-4.7zM1244.2 34.6h4.7V1971.4h-4.7zM1329.4 34.6h4.7V1971.4h-4.7zM1376.8 34.6h4.7V1971.4h-4.7zM1381.6 34.6h4.7V1971.4h-4.7zM1410.0 34.6h4.7V1971.4h-4.7zM1424.2 34.6h4.7V1971.4h-4.7zM1433.7 34.6h4.7V1971.4h-4.7zM1452.6 34.6h4.7V1971.4h-4.7zM1760.6 34.6h4.7V1971.4h-4.7zM1841.1 34.6h4.7V1971.4h-4.7zM1850.6 34.6h4.7V1971.4h-4.7zM1912.2 34.6h4.7V1971.4h-4.7zM1931.1 34.6h4.7V1971.4h-4.7zM1959.6 34.6h4.7V1971.4h-4.7zM1964.3 34.6h4.7V1971.4h-4.7zM1978.5 34.6h4.7V1971.4h-4.7zM2068.5 34.6h4.7V1971.4h-4.7zM2073.3 34.6h4.7V1971.4h-4.7zM2115.9 34.6h4.7V1971.4h-4.7zM2139.6 34.6h4.7V1971.4h-4.7zM2163.3 34.6h4.7V1971.4h-4.7zM2196.5 34.6h4.7V1971.4h-4.7zM2258.1 34.6h4.7V1971.4h-4.7zM2286.5 34.6h4.7V1971.4h-4.7zM2310.2 34.6h4.7V1971.4h-4.7zM2348.1 34.6h4.7V1971.4h-4.7z" fill="#00ff00" fill-opacity="0.034" style="mix-blend-mode:screen"/>
<path d="M538.2 34.6h4.7V1971.4h-4.7zM547.7 34.6h4.7V1971.4h-4.7zM651.9 34.6h4.7V1971.4h-4.7zM661.4 34.6h4.7V1971.4h-4.7zM680.4 34.6h4.7V1971.4h-4.7zM685.1 34.6h4.7V1971.4h-4.7zM689.8 34.6h4.7V1971.4h-4.7zM737.2 34.6h4.7V1971.4h-4.7zM742.0 34.6h4.7V1971.4h-4.7zM813.0 34.6h4.7V1971.4h-4.7zM874.6 34.6h4.7V1971.4h-4.7zM893.6 34.6h4.7V1971.4h-4.7zM1182.6 34.6h4.7V1971.4h-4.7zM1220.5 34.6h4.7V1971.4h-4.7zM1296.3 34.6h4.7V1971.4h-4.7zM1301.0 34.6h4.7V1971.4h-4.7zM1395.8 34.6h4.7V1971.4h-4.7zM1428.9 34.6h4.7V1971.4h-4.7zM1481.1 34.6h4.7V1971.4h-4.7zM1495.3 34.6h4.7V1971.4h-4.7zM1746.4 34.6h4.7V1971.4h-4.7zM1774.8 34.6h4.7V1971.4h-4.7zM1779.5 34.6h4.7V1971.4h-4.7zM1784.3 34.6h4.7V1971.4h-4.7zM1826.9 34.6h4.7V1971.4h-4.7zM2044.9 34.6h4.7V1971.4h-4.7zM2125.4 34.6h4.7V1971.4h-4.7zM2210.7 34.6h4.7V1971.4h-4.7zM2291.2 34.6h4.7V1971.4h-4.7zM2300.7 34.6h4.7V1971.4h-4.7zM2329.1 34.6h4.7V1971.4h-4.7zM2343.3 34.6h4.7V1971.4h-4.7z" fill="#00ff00" fill-opacity="0.051" style="mix-blend-mode:screen"/>
<path d="M642.5 34.6h4.7V1971.4h-4.7zM704.1 34.6h4.7V1971.4h-4.7zM723.0 34.6h4.7V1971.4h-4.7zM794.1 34.6h4.7V1971.4h-4.7zM798.8 34.6h4.7V1971.4h-4.7zM803.5 34.6h4.7V1971.4h-4.7zM1324.7 34.6h4.7V1971.4h-4.7zM1646.9 34.6h4.7V1971.4h-4.7zM1694.3 34.6h4.7V1971.4h-4.7zM1950.1 34.6h4.7V1971.4h-4.7zM2153.8 34.6h4.7V1971.4h-4.7zM2201.2 34.6h4.7V1971.4h-4.7zM2357.5 34.6h4.7V1971.4h-4.7z" fill="#00ff00" fill-opacity="0.068" style="mix-blend-mode:screen"/>
<path d="M718.3 34.6h4.7V1971.4h-4.7zM779.9 34.6h4.7V1971.4h-4.7zM1485.8 34.6h4.7V1971.4h-4.7zM1575.8 34.6h4.7V1971.4h-4.7zM1845.9 34.6h4.7V1971.4h-4.7zM1921.7 34.6h4.7V1971.4h-4.7z" fill="#00ff00" fill-opacity="0.085" style="mix-blend-mode:screen"/>
<path d="M509.8 44.4H2376.5v4.9H509.8zM509.8 69.0H2376.5v4.9H509.8zM509.8 113.3H2376.5v4.9H509.8zM509.8 118.2H2376.5v4.9H509.8zM509.8 142.7H2376.5v4.9H509.8zM509.8 246.0H2376.5v4.9H509.8zM509.8 290.2H2376.5v4.9H509.8zM509.8 403.3H2376.5v4.9H509.8zM509.8 408.2H2376.5v4.9H509.8zM509.8 472.1H2376.5v4.9H509.8zM509.8 477.0H2376.5v4.9H509.8zM509.8 481.9H2376.5v4.9H509.8zM509.8 501.6H2376.5v4.9H509.8zM509.8 565.5H2376.5v4.9H509.8zM509.8 599.9H2376.5v4.9H509.8zM509.8 604.8H2376.5v4.9H509.8zM509.8 614.7H2376.5v4.9H509.8zM509.8 639.2H2376.5v4.9H509.8zM509.8 649.1H2376.5v4.9H509.8zM509.8 663.8H2376.5v4.9H509.8zM509.8 673.6H2376.5v4.9H509.8zM509.8 713.0H2376.5v4.9H509.8zM509.8 762.1H2376.5v4.9H509.8zM509.8 801.5H2376.5v4.9H509.8zM509.8 811.3H2376.5v4.9H509.8zM509.8 816.2H2376.5v4.9H509.8zM509.8 860.4H2376.5v4.9H509.8zM509.8 865.4H2376.5v4.9H509.8zM509.8 909.6H2376.5v4.9H509.8zM509.8 963.7H2376.5v4.9H509.8zM509.8 968.6H2376.5v4.9H509.8zM509.8 973.5H2376.5v4.9H509.8zM509.8 998.1H2376.5v4.9H509.8zM509.8 1003.0H2376.5v4.9H509.8zM509.8 1032.5H2376.5v4.9H509.8zM509.8 1066.9H2376.5v4.9H509.8zM509.8 1071.8H2376.5v4.9H509.8zM509.8 1130.8H2376.5v4.9H509.8zM509.8 1155.4H2376.5v4.9H509.8zM509.8 1160.3H2376.5v4.9H509.8zM509.8 1175.1H2376.5v4.9H509.8zM509.8 1199.6H2376.5v4.9H509.8zM509.8 1234.0H2376.5v4.9H509.8zM509.8 1268.4H2376.5v4.9H509.8zM509.8 1293.0H2376.5v4.9H509.8zM509.8 1322.5H2376.5v4.9H509.8zM509.8 1337.3H2376.5v4.9H509.8zM509.8 1371.7H2376.5v4.9H509.8zM509.8 1435.6H2376.5v4.9H509.8zM509.8 1455.2H2376.5v4.9H509.8zM509.8 1474.9H2376.5v4.9H509.8zM509.8 1514.2H2376.5v4.9H509.8zM509.8 1563.4H2376.5v4.9H509.8zM509.8 1573.2H2376.5v4.9H509.8zM509.8 1588.0H2376.5v4.9H509.8zM509.8 1597.8H2376.5v4.9H509.8zM509.8 1642.0H2376.5v4.9H509.8zM509.8 1676.5H2376.5v4.9H509.8zM509.8 1686.3H2376.5v4.9H509.8zM509.8 1706.0H2376.5v4.9H509.8zM509.8 1720.7H2376.5v4.9H509.8zM509.8 1755.1H2376.5v4.9H509.8zM509.8 1764.9H2376.5v4.9H509.8zM509.8 1769.9H2376.5v4.9H509.8zM509.8 1804.3H2376.5v4.9H509.8zM509.8 1833.8H2376.5v4.9H509.8zM509.8 1863.3H2376.5v4.9H509.8zM509.8 1873.1H2376.5v4.9H509.8zM509.8 1907.5H2376.5v4.9H509.8zM509.8 1932.1H2376.5v4.9H509.8zM509.8 1946.8H2376.5v4.9H509.8z" fill="#ff00ff" fill-opacity="0.012" style="mix-blend-mode:multiply"/>
<path d="M509.8 108.3H2376.5v4.9H509.8zM509.8 206.7H2376.5v4.9H509.8zM509.8 388.5H2376.5v4.9H509.8zM509.8 447.5H2376.5v4.9H509.8zM509.8 526.2H2376.5v4.9H509.8zM509.8 536.0H2376.5v4.9H509.8zM509.8 550.8H2376.5v4.9H509.8zM509.8 555.7H2376.5v4.9H509.8zM509.8 560.6H2376.5v4.9H509.8zM509.8 570.4H2376.5v4.9H509.8zM509.8 575.3H2376.5v4.9H509.8zM509.8 580.2H2376.5v4.9H509.8zM509.8 590.1H2376.5v4.9H509.8zM509.8 678.6H2376.5v4.9H509.8zM509.8 747.4H2376.5v4.9H509.8zM509.8 767.0H2376.5v4.9H509.8zM509.8 781.8H2376.5v4.9H509.8zM509.8 806.4H2376.5v4.9H509.8zM509.8 894.9H2376.5v4.9H509.8zM509.8 924.3H2376.5v4.9H509.8zM509.8 1101.3H2376.5v4.9H509.8zM509.8 1116.1H2376.5v4.9H509.8zM509.8 1121.0H2376.5v4.9H509.8zM509.8 1194.7H2376.5v4.9H509.8zM509.8 1219.3H2376.5v4.9H509.8zM509.8 1224.2H2376.5v4.9H509.8zM509.8 1239.0H2376.5v4.9H509.8zM509.8 1273.4H2376.5v4.9H509.8zM509.8 1278.3H2376.5v4.9H509.8zM509.8 1342.2H2376.5v4.9H509.8zM509.8 1381.5H2376.5v4.9H509.8zM509.8 1479.8H2376.5v4.9H509.8zM509.8 1519.2H2376.5v4.9H509.8zM509.8 1548.6H2376.5v4.9H509.8zM509.8 1578.1H2376.5v4.9H509.8zM509.8 1661.7H2376.5v4.9H509.8zM509.8 1774.8H2376.5v4.9H509.8zM509.8 1819.0H2376.5v4.9H509.8zM509.8 1823.9H2376.5v4.9H509.8zM509.8 1858.3H2376.5v4.9H509.8zM509.8 1927.2H2376.5v4.9H509.8zM509.8 1961.6H2376.5v4.9H509.8zM509.8 1966.5H2376.5v4.9H509.8z" fill="#ff00ff" fill-opacity="0.024" style="mix-blend-mode:multiply"/>
<path d="M509.8 54.3H2376.5v4.9H509.8zM509.8 88.7H2376.5v4.9H509.8zM509.8 359.0H2376.5v4.9H509.8zM509.8 418.0H2376.5v4.9H509.8zM509.8 442.6H2376.5v4.9H509.8zM509.8 737.6H2376.5v4.9H509.8zM509.8 899.8H2376.5v4.9H509.8zM509.8 914.5H2376.5v4.9H509.8zM509.8 919.4H2376.5v4.9H509.8zM509.8 944.0H2376.5v4.9H509.8zM509.8 1017.7H2376.5v4.9H509.8zM509.8 1086.6H2376.5v4.9H509.8zM509.8 1165.2H2376.5v4.9H509.8zM509.8 1204.5H2376.5v4.9H509.8zM509.8 1288.1H2376.5v4.9H509.8zM509.8 1440.5H2376.5v4.9H509.8zM509.8 1470.0H2376.5v4.9H509.8zM509.8 1484.7H2376.5v4.9H509.8zM509.8 1553.6H2376.5v4.9H509.8zM509.8 1617.5H2376.5v4.9H509.8zM509.8 1779.7H2376.5v4.9H509.8zM509.8 1868.2H2376.5v4.9H509.8z" fill="#ff00ff" fill-opacity="0.036" style="mix-blend-mode:multiply"/>
<path d="M509.8 309.9H2376.5v4.9H509.8zM509.8 531.1H2376.5v4.9H509.8zM509.8 1297.9H2376.5v4.9H509.8zM509.8 1607.6H2376.5v4.9H509.8zM509.8 1681.4H2376.5v4.9H509.8z" fill="#ff00ff" fill-opacity="0.048" style="mix-blend-mode:multiply"/>
<path d="M509.8 595.0H2376.5v4.9H509.8z" fill="#ff00ff" fill-opacity="0.059" style="mix-blend-mode:multiply"/>
<path d="M509.8 34.6H2376.5v4.9H509.8zM509.8 59.2H2376.5v4.9H509.8zM509.8 93.6H2376.5v4.9H509.8zM509.8 103.4H2376.5v4.9H509.8zM509.8 123.1H2376.5v4.9H509.8zM509.8 152.6H2376.5v4.9H509.8zM509.8 177.2H2376.5v4.9H509.8zM509.8 187.0H2376.5v4.9H509.8zM509.8 191.9H2376.5v4.9H509.8zM509.8 270.6H2376.5v4.9H509.8zM509.8 285.3H2376.5v4.9H509.8zM509.8 295.1H2376.5v4.9H509.8zM509.8 305.0H2376.5v4.9H509.8zM509.8 373.8H2376.5v4.9H509.8zM509.8 462.3H2376.5v4.9H509.8zM509.8 486.8H2376.5v4.9H509.8zM509.8 506.5H2376.5v4.9H509.8zM509.8 516.3H2376.5v4.9H509.8zM509.8 540.9H2376.5v4.9H509.8zM509.8 624.5H2376.5v4.9H509.8zM509.8 634.3H2376.5v4.9H509.8zM509.8 644.2H2376.5v4.9H509.8zM509.8 693.3H2376.5v4.9H509.8zM509.8 703.1H2376.5v4.9H509.8zM509.8 786.7H2376.5v4.9H509.8zM509.8 796.5H2376.5v4.9H509.8zM509.8 826.0H2376.5v4.9H509.8zM509.8 835.9H2376.5v4.9H509.8zM509.8 840.8H2376.5v4.9H509.8zM509.8 845.7H2376.5v4.9H509.8zM509.8 850.6H2376.5v4.9H509.8zM509.8 875.2H2376.5v4.9H509.8zM509.8 885.0H2376.5v4.9H509.8zM509.8 934.2H2376.5v4.9H509.8zM509.8 939.1H2376.5v4.9H509.8zM509.8 948.9H2376.5v4.9H509.8zM509.8 978.4H2376.5v4.9H509.8zM509.8 1027.6H2376.5v4.9H509.8zM509.8 1052.2H2376.5v4.9H509.8zM509.8 1096.4H2376.5v4.9H509.8zM509.8 1106.2H2376.5v4.9H509.8zM509.8 1135.7H2376.5v4.9H509.8zM509.8 1150.5H2376.5v4.9H509.8zM509.8 1184.9H2376.5v4.9H509.8zM509.8 1189.8H2376.5v4.9H509.8zM509.8 1209.5H2376.5v4.9H509.8zM509.8 1248.8H2376.5v4.9H509.8zM509.8 1283.2H2376.5v4.9H509.8zM509.8 1302.9H2376.5v4.9H509.8zM509.8 1307.8H2376.5v4.9H509.8zM509.8 1386.4H2376.5v4.9H509.8zM509.8 1396.3H2376.5v4.9H509.8zM509.8 1406.1H2376.5v4.9H509.8zM509.8 1425.8H2376.5v4.9H509.8zM509.8 1430.7H2376.5v4.9H509.8zM509.8 1445.4H2376.5v4.9H509.8zM509.8 1465.1H2376.5v4.9H509.8zM509.8 1489.7H2376.5v4.9H509.8zM509.8 1494.6H2376.5v4.9H509.8zM509.8 1533.9H2376.5v4.9H509.8zM509.8 1543.7H2376.5v4.9H509.8zM509.8 1558.5H2376.5v4.9H509.8zM509.8 1622.4H2376.5v4.9H509.8zM509.8 1632.2H2376.5v4.9H509.8zM509.8 1637.1H2376.5v4.9H509.8zM509.8 1647.0H2376.5v4.9H509.8zM509.8 1651.9H2376.5v4.9H509.8zM509.8 1656.8H2376.5v4.9H509.8zM509.8 1666.6H2376.5v4.9H509.8zM509.8 1730.5H2376.5v4.9H509.8zM509.8 1735.4H2376.5v4.9H509.8zM509.8 1745.3H2376.5v4.9H509.8zM509.8 1760.0H2376.5v4.9H509.8zM509.8 1853.4H2376.5v4.9H509.8zM509.8 1882.9H2376.5v4.9H509.8zM509.8 1887.8H2376.5v4.9H509.8zM509.8 1892.7H2376.5v4.9H509.8zM509.8 1917.3H2376.5v4.9H509.8z" fill="#00ff00" fill-opacity="0.017" style="mix-blend-mode:screen"/>
<path d="M509.8 73.9H2376.5v4.9H509.8zM509.8 132.9H2376.5v4.9H509.8zM509.8 162.4H2376.5v4.9H509.8zM509.8 167.3H2376.5v4.9H509.8zM509.8 172.2H2376.5v4.9H509.8zM509.8 182.1H2376.5v4.9H509.8zM509.8 196.8H2376.5v4.9H509.8zM509.8 221.4H2376.5v4.9H509.8zM509.8 226.3H2376.5v4.9H509.8zM509.8 231.2H2376.5v4.9H509.8zM509.8 241.1H2376.5v4.9H509.8zM509.8 255.8H2376.5v4.9H509.8zM509.8 265.6H2376.5v4.9H509.8zM509.8 334.5H2376.5v4.9H509.8zM509.8 378.7H2376.5v4.9H509.8zM509.8 383.6H2376.5v4.9H509.8zM509.8 427.9H2376.5v4.9H509.8zM509.8 432.8H2376.5v4.9H509.8zM509.8 511.4H2376.5v4.9H509.8zM509.8 727.7H2376.5v4.9H509.8zM509.8 732.6H2376.5v4.9H509.8zM509.8 757.2H2376.5v4.9H509.8zM509.8 772.0H2376.5v4.9H509.8zM509.8 776.9H2376.5v4.9H509.8zM509.8 821.1H2376.5v4.9H509.8zM509.8 870.3H2376.5v4.9H509.8zM509.8 983.3H2376.5v4.9H509.8zM509.8 1012.8H2376.5v4.9H509.8zM509.8 1037.4H2376.5v4.9H509.8zM509.8 1042.3H2376.5v4.9H509.8zM509.8 1170.1H2376.5v4.9H509.8zM509.8 1180.0H2376.5v4.9H509.8zM509.8 1253.7H2376.5v4.9H509.8zM509.8 1317.6H2376.5v4.9H509.8zM509.8 1332.4H2376.5v4.9H509.8zM509.8 1401.2H2376.5v4.9H509.8zM509.8 1460.2H2376.5v4.9H509.8zM509.8 1509.3H2376.5v4.9H509.8zM509.8 1529.0H2376.5v4.9H509.8zM509.8 1538.8H2376.5v4.9H509.8zM509.8 1583.1H2376.5v4.9H509.8zM509.8 1691.2H2376.5v4.9H509.8zM509.8 1701.0H2376.5v4.9H509.8zM509.8 1710.9H2376.5v4.9H509.8zM509.8 1725.6H2376.5v4.9H509.8zM509.8 1750.2H2376.5v4.9H509.8zM509.8 1789.5H2376.5v4.9H509.8zM509.8 1902.6H2376.5v4.9H509.8zM509.8 1922.2H2376.5v4.9H509.8zM509.8 1937.0H2376.5v4.9H509.8z" fill="#00ff00" fill-opacity="0.034" style="mix-blend-mode:screen"/>
<path d="M509.8 49.3H2376.5v4.9H509.8zM509.8 64.1H2376.5v4.9H509.8zM509.8 98.5H2376.5v4.9H509.8zM509.8 157.5H2376.5v4.9H509.8zM509.8 216.5H2376.5v4.9H509.8zM509.8 236.1H2376.5v4.9H509.8zM509.8 275.5H2376.5v4.9H509.8zM509.8 314.8H2376.5v4.9H509.8zM509.8 329.5H2376.5v4.9H509.8zM509.8 339.4H2376.5v4.9H509.8zM509.8 349.2H2376.5v4.9H509.8zM509.8 393.4H2376.5v4.9H509.8zM509.8 413.1H2376.5v4.9H509.8zM509.8 457.4H2376.5v4.9H509.8zM509.8 752.3H2376.5v4.9H509.8zM509.8 855.5H2376.5v4.9H509.8zM509.8 880.1H2376.5v4.9H509.8zM509.8 953.8H2376.5v4.9H509.8zM509.8 988.3H2376.5v4.9H509.8zM509.8 993.2H2376.5v4.9H509.8zM509.8 1057.1H2376.5v4.9H509.8zM509.8 1263.5H2376.5v4.9H509.8zM509.8 1352.0H2376.5v4.9H509.8zM509.8 1420.8H2376.5v4.9H509.8zM509.8 1499.5H2376.5v4.9H509.8zM509.8 1627.3H2376.5v4.9H509.8zM509.8 1799.3H2376.5v4.9H509.8zM509.8 1878.0H2376.5v4.9H509.8zM509.8 1951.7H2376.5v4.9H509.8z" fill="#00ff00" fill-opacity="0.051" style="mix-blend-mode:screen"/>
<path d="M509.8 211.6H2376.5v4.9H509.8zM509.8 422.9H2376.5v4.9H509.8zM509.8 1140.6H2376.5v4.9H509.8zM509.8 1214.4H2376.5v4.9H509.8zM509.8 1740.4H2376.5v4.9H509.8z" fill="#00ff00" fill-opacity="0.068" style="mix-blend-mode:screen"/>
<path d="M509.8 250.9H2376.5v4.9H509.8zM509.8 1047.2H2376.5v4.9H509.8z" fill="#00ff00" fill-opacity="0.085" style="mix-blend-mode:screen"/>
<rect x="559.5" y="86.2" width="9.9" height="10.3" fill="#800000"/>
<rect x="598.9" y="127.1" width="17.8" height="18.4" fill="#f30900"/>
<rect x="618.7" y="147.6" width="70.2" height="72.8" fill="#dc0000"/>
<rect x="623.4" y="152.4" width="37.9" height="39.3" fill="#9c0000"/>
<rect x="664.4" y="195.1" width="24.5" height="25.4" fill="#a80000"/>
<rect x="701.0" y="233.0" width="33.5" height="34.7" fill="#a80000"/>
<rect x="747.5" y="281.2" width="72.8" height="75.6" fill="#dc0000"/>
<rect x="747.5" y="281.2" width="29.9" height="31.0" fill="#910000"/>
<rect x="776.8" y="311.6" width="43.5" height="45.1" fill="#9c0000"/>
<rect x="946.1" y="487.3" width="85.5" height="88.7" fill="#e80000"/>
<rect x="946.1" y="487.3" width="38.1" height="39.5" fill="#9c0000"/>
<rect x="983.6" y="526.2" width="18.5" height="19.2" fill="#910000"/>
<rect x="1001.6" y="544.8" width="30.1" height="31.2" fill="#850000"/>
<rect x="1072.5" y="618.4" width="58.7" height="60.8" fill="#e80000"/>
<rect x="1100.3" y="647.3" width="30.8" height="32.0" fill="#a80000"/>
<rect x="1171.2" y="720.9" width="48.4" height="50.2" fill="#b40000"/>
<rect x="1254.3" y="807.1" width="23.4" height="24.2" fill="#dc0000"/>
<rect x="1277.1" y="830.7" width="30.5" height="31.6" fill="#850000"/>
<rect x="1379.8" y="937.2" width="42.0" height="43.6" fill="#ee0500"/>
<rect x="1379.8" y="937.2" width="22.6" height="23.5" fill="#cb0000"/>
<rect x="1401.8" y="960.1" width="20.0" height="20.7" fill="#d10000"/>
<rect x="1395.2" y="953.3" width="9.0" height="9.3" fill="#9c0000"/>
<rect x="1414.8" y="973.6" width="6.9" height="7.2" fill="#9c0000"/>
<rect x="1441.0" y="1000.8" width="10.9" height="11.3" fill="#a80000"/>
<rect x="1482.1" y="1043.4" width="12.7" height="13.2" fill="#910000"/>
<rect x="1502.0" y="1064.1" width="183.3" height="190.2" fill="#970000"/>
<rect x="1714.5" y="1284.5" width="22.1" height="22.9" fill="#dc0000"/>
<rect x="1721.0" y="1291.3" width="15.5" height="16.1" fill="#910000"/>
<rect x="1749.0" y="1320.3" width="30.1" height="31.2" fill="#a80000"/>
<rect x="1753.7" y="1325.2" width="25.4" height="26.4" fill="#8b0000"/>
<rect x="1780.7" y="1353.3" width="14.6" height="15.1" fill="#850000"/>
<rect x="1796.6" y="1369.7" width="14.6" height="15.1" fill="#8b0000"/>
<rect x="1816.2" y="1390.1" width="8.1" height="8.3" fill="#a80000"/>
<rect x="1828.3" y="1402.6" width="11.8" height="12.2" fill="#a80000"/>
<rect x="1841.4" y="1416.2" width="22.1" height="22.9" fill="#d10000"/>
<rect x="1848.9" y="1424.0" width="14.6" height="15.1" fill="#800000"/>
<rect x="2032.7" y="1614.7" width="21.9" height="22.7" fill="#910000"/>
<rect x="2099.0" y="1683.5" width="14.4" height="14.9" fill="#850000"/>
<rect x="2150.7" y="1737.1" width="9.4" height="9.7" fill="#910000"/>
<rect x="2164.0" y="1750.9" width="33.8" height="35.1" fill="#f90e00"/>
<rect x="2171.8" y="1759.0" width="26.0" height="26.9" fill="#9c0000"/>
<rect x="2180.2" y="1767.7" width="17.6" height="18.2" fill="#8b0000"/>
<rect x="2210.3" y="1798.9" width="9.4" height="9.7" fill="#9c0000"/>
<rect x="2236.6" y="1826.2" width="12.9" height="13.4" fill="#800000"/>
<rect x="2249.6" y="1839.8" width="24.3" height="25.2" fill="#f30900"/>
<rect x="2258.4" y="1848.9" width="15.5" height="16.1" fill="#800000"/>
<rect x="2274.3" y="1750.9" width="71.5" height="35.1" fill="#f90e00"/>
<rect x="2164.0" y="1865.4" width="33.8" height="74.2" fill="#f90e00"/>
<rect x="2274.3" y="1823.5" width="102.5" height="3.3" fill="#dc0000"/>
<rect x="2234.0" y="1865.4" width="3.2" height="106.3" fill="#dc0000"/>
<rect x="2274.3" y="1865.4" width="102.5" height="106.3" fill="#a20000"/>
<rect x="2286.6" y="1878.1" width="59.2" height="61.4" fill="#8b0000"/>
<rect x="2297.8" y="1889.8" width="37.9" height="39.3" fill="#800000"/>
<rect x="2354.0" y="1948.1" width="22.8" height="23.6" fill="#910000"/>
<rect x="2345.2" y="1865.4" width="9.4" height="106.3" fill="#e20000"/>
<rect x="2274.3" y="1938.9" width="102.5" height="9.7" fill="#e20000"/>
<rect x="2345.2" y="1938.9" width="9.4" height="9.7" fill="#9c0000"/>
<path d="M1502.3 1089.9H1685.1v4.9H1502.3zM1641.9 1064.4h4.7V1254.0h-4.7zM1592.9 1064.4h4.7V1254.0h-4.7zM1502.3 1187.9H1685.1v4.9H1502.3zM1519.5 1064.4h4.7V1254.0h-4.7zM1655.1 1064.4h4.7V1254.0h-4.7zM1641.6 1064.4h4.7V1254.0h-4.7zM1502.3 1148.8H1685.1v4.9H1502.3zM1502.3 1107.8H1685.1v4.9H1502.3zM1667.1 1064.4h4.7V1254.0h-4.7zM1502.3 1069.2H1685.1v4.9H1502.3zM1674.0 1064.4h4.7V1254.0h-4.7zM1541.9 1064.4h4.7V1254.0h-4.7zM1507.6 1064.4h4.7V1254.0h-4.7zM1582.3 1064.4h4.7V1254.0h-4.7zM1544.9 1064.4h4.7V1254.0h-4.7zM1542.3 1064.4h4.7V1254.0h-4.7zM1555.3 1064.4h4.7V1254.0h-4.7zM1502.3 1223.2H1685.1v4.9H1502.3zM1619.7 1064.4h4.7V1254.0h-4.7zM1502.3 1252.6H1685.1v4.9H1502.3zM1524.4 1064.4h4.7V1254.0h-4.7zM1502.3 1201.2H1685.1v4.9H1502.3zM1673.5 1064.4h4.7V1254.0h-4.7zM1502.3 1221.8H1685.1v4.9H1502.3zM1502.3 1121.9H1685.1v4.9H1502.3z" fill="#d81818" fill-opacity="0.16"/>
<path d="M2276.6 1966.8H2376.5v4.9H2276.6zM2282.3 1867.8h4.7V1971.4h-4.7zM2276.6 1954.4H2376.5v4.9H2276.6zM2343.5 1867.8h4.7V1971.4h-4.7zM2276.6 1930.6H2376.5v4.9H2276.6zM2334.7 1867.8h4.7V1971.4h-4.7zM2319.6 1867.8h4.7V1971.4h-4.7zM2276.6 1942.7H2376.5v4.9H2276.6zM2276.6 1966.2H2376.5v4.9H2276.6zM2321.1 1867.8h4.7V1971.4h-4.7zM2280.2 1867.8h4.7V1971.4h-4.7zM2323.1 1867.8h4.7V1971.4h-4.7z" fill="#d81818" fill-opacity="0.16"/>
<path d="M620.5 166.3H688.6v4.9H620.5zM620.5 175.6H688.6v4.9H620.5zM663.1 149.5h4.7V220.1h-4.7zM620.5 150.4H688.6v4.9H620.5zM638.2 149.5h4.7V220.1h-4.7zM688.3 149.5h4.7V220.1h-4.7z" fill="#d81818" fill-opacity="0.16"/>
<path d="M764.9 281.5h4.7V356.5h-4.7zM776.4 281.5h4.7V356.5h-4.7zM752.6 281.5h4.7V356.5h-4.7zM747.8 350.3H820.0v4.9H747.8zM803.1 281.5h4.7V356.5h-4.7zM786.6 281.5h4.7V356.5h-4.7z" fill="#d81818" fill-opacity="0.16"/>
<path d="M946.4 542.5H1031.4v4.9H946.4zM946.4 557.7H1031.4v4.9H946.4zM946.4 552.8H1031.4v4.9H946.4zM948.9 487.6h4.7V575.7h-4.7zM946.4 570.8H1031.4v4.9H946.4zM1022.9 487.6h4.7V575.7h-4.7z" fill="#d81818" fill-opacity="0.16"/>
<path d="M509.6 34.4h5.1v5.3h-5.1zM514.3 39.3h5.1v5.3h-5.1zM519.1 44.2h5.1v5.3h-5.1zM523.8 49.1h5.1v5.3h-5.1zM528.6 54.1h5.1v5.3h-5.1zM533.3 59.0h5.1v5.3h-5.1zM538.0 63.9h5.1v5.3h-5.1zM542.8 68.8h5.1v5.3h-5.1zM547.5 73.7h5.1v5.3h-5.1zM552.2 78.6h5.1v5.3h-5.1zM557.0 83.6h5.1v5.3h-5.1zM561.7 88.5h5.1v5.3h-5.1zM566.5 93.4h5.1v5.3h-5.1zM571.2 98.3h5.1v5.3h-5.1zM575.9 103.2h5.1v5.3h-5.1zM580.7 108.1h5.1v5.3h-5.1zM585.4 113.1h5.1v5.3h-5.1zM590.1 118.0h5.1v5.3h-5.1zM594.9 122.9h5.1v5.3h-5.1zM599.6 127.8h5.1v5.3h-5.1zM604.4 132.7h5.1v5.3h-5.1zM609.1 137.6h5.1v5.3h-5.1zM613.8 142.5h5.1v5.3h-5.1zM618.6 147.5h5.1v5.3h-5.1zM623.3 152.4h5.1v5.3h-5.1zM628.0 157.3h5.1v5.3h-5.1zM632.8 162.2h5.1v5.3h-5.1zM637.5 167.1h5.1v5.3h-5.1zM642.3 172.0h5.1v5.3h-5.1zM647.0 177.0h5.1v5.3h-5.1zM651.7 181.9h5.1v5.3h-5.1zM656.5 186.8h5.1v5.3h-5.1zM661.2 191.7h5.1v5.3h-5.1zM665.9 196.6h5.1v5.3h-5.1zM670.7 201.5h5.1v5.3h-5.1zM675.4 206.5h5.1v5.3h-5.1zM680.2 211.4h5.1v5.3h-5.1zM684.9 216.3h5.1v5.3h-5.1zM689.6 221.2h5.1v5.3h-5.1zM694.4 226.1h5.1v5.3h-5.1zM699.1 231.0h5.1v5.3h-5.1zM703.9 235.9h5.1v5.3h-5.1zM708.6 240.9h5.1v5.3h-5.1zM713.3 245.8h5.1v5.3h-5.1zM718.1 250.7h5.1v5.3h-5.1zM722.8 255.6h5.1v5.3h-5.1zM727.5 260.5h5.1v5.3h-5.1zM732.3 265.4h5.1v5.3h-5.1zM737.0 270.4h5.1v5.3h-5.1zM741.8 275.3h5.1v5.3h-5.1zM746.5 280.2h5.1v5.3h-5.1zM751.2 285.1h5.1v5.3h-5.1zM756.0 290.0h5.1v5.3h-5.1zM760.7 294.9h5.1v5.3h-5.1zM765.4 299.8h5.1v5.3h-5.1zM770.2 304.8h5.1v5.3h-5.1zM774.9 309.7h5.1v5.3h-5.1zM779.7 314.6h5.1v5.3h-5.1zM784.4 319.5h5.1v5.3h-5.1zM789.1 324.4h5.1v5.3h-5.1zM793.9 329.3h5.1v5.3h-5.1zM798.6 334.3h5.1v5.3h-5.1zM803.3 339.2h5.1v5.3h-5.1zM808.1 344.1h5.1v5.3h-5.1zM812.8 349.0h5.1v5.3h-5.1zM817.6 353.9h5.1v5.3h-5.1zM822.3 358.8h5.1v5.3h-5.1zM827.0 363.8h5.1v5.3h-5.1zM831.8 368.7h5.1v5.3h-5.1zM836.5 373.6h5.1v5.3h-5.1zM841.2 378.5h5.1v5.3h-5.1zM846.0 383.4h5.1v5.3h-5.1zM850.7 388.3h5.1v5.3h-5.1zM855.5 393.2h5.1v5.3h-5.1zM860.2 398.2h5.1v5.3h-5.1zM864.9 403.1h5.1v5.3h-5.1zM869.7 408.0h5.1v5.3h-5.1zM874.4 412.9h5.1v5.3h-5.1zM879.1 417.8h5.1v5.3h-5.1zM883.9 422.7h5.1v5.3h-5.1zM888.6 427.7h5.1v5.3h-5.1zM893.4 432.6h5.1v5.3h-5.1zM898.1 437.5h5.1v5.3h-5.1zM902.8 442.4h5.1v5.3h-5.1zM907.6 447.3h5.1v5.3h-5.1zM912.3 452.2h5.1v5.3h-5.1zM917.1 457.2h5.1v5.3h-5.1zM921.8 462.1h5.1v5.3h-5.1zM926.5 467.0h5.1v5.3h-5.1zM931.3 471.9h5.1v5.3h-5.1zM936.0 476.8h5.1v5.3h-5.1zM940.7 481.7h5.1v5.3h-5.1zM945.5 486.6h5.1v5.3h-5.1zM950.2 491.6h5.1v5.3h-5.1zM955.0 496.5h5.1v5.3h-5.1zM959.7 501.4h5.1v5.3h-5.1zM964.4 506.3h5.1v5.3h-5.1zM969.2 511.2h5.1v5.3h-5.1zM973.9 516.1h5.1v5.3h-5.1zM978.6 521.1h5.1v5.3h-5.1zM983.4 526.0h5.1v5.3h-5.1zM988.1 530.9h5.1v5.3h-5.1zM992.9 535.8h5.1v5.3h-5.1zM997.6 540.7h5.1v5.3h-5.1zM1002.3 545.6h5.1v5.3h-5.1zM1007.1 550.6h5.1v5.3h-5.1zM1011.8 555.5h5.1v5.3h-5.1zM1016.5 560.4h5.1v5.3h-5.1zM1021.3 565.3h5.1v5.3h-5.1zM1026.0 570.2h5.1v5.3h-5.1zM1030.8 575.1h5.1v5.3h-5.1zM1035.5 580.0h5.1v5.3h-5.1zM1040.2 585.0h5.1v5.3h-5.1zM1045.0 589.9h5.1v5.3h-5.1zM1049.7 594.8h5.1v5.3h-5.1zM1054.4 599.7h5.1v5.3h-5.1zM1059.2 604.6h5.1v5.3h-5.1zM1063.9 609.5h5.1v5.3h-5.1zM1068.7 614.5h5.1v5.3h-5.1zM1073.4 619.4h5.1v5.3h-5.1zM1078.1 624.3h5.1v5.3h-5.1zM1082.9 629.2h5.1v5.3h-5.1zM1087.6 634.1h5.1v5.3h-5.1zM1092.4 639.0h5.1v5.3h-5.1zM1097.1 644.0h5.1v5.3h-5.1zM1101.8 648.9h5.1v5.3h-5.1zM1106.6 653.8h5.1v5.3h-5.1zM1111.3 658.7h5.1v5.3h-5.1zM1116.0 663.6h5.1v5.3h-5.1zM1120.8 668.5h5.1v5.3h-5.1zM1125.5 673.4h5.1v5.3h-5.1zM1130.3 678.4h5.1v5.3h-5.1zM1135.0 683.3h5.1v5.3h-5.1zM1139.7 688.2h5.1v5.3h-5.1zM1144.5 693.1h5.1v5.3h-5.1zM1149.2 698.0h5.1v5.3h-5.1zM1153.9 702.9h5.1v5.3h-5.1zM1158.7 707.9h5.1v5.3h-5.1zM1163.4 712.8h5.1v5.3h-5.1zM1168.2 717.7h5.1v5.3h-5.1zM1172.9 722.6h5.1v5.3h-5.1zM1177.6 727.5h5.1v5.3h-5.1zM1182.4 732.4h5.1v5.3h-5.1zM1187.1 737.4h5.1v5.3h-5.1zM1191.8 742.3h5.1v5.3h-5.1zM1196.6 747.2h5.1v5.3h-5.1zM1201.3 752.1h5.1v5.3h-5.1zM1206.1 757.0h5.1v5.3h-5.1zM1210.8 761.9h5.1v5.3h-5.1zM1215.5 766.8h5.1v5.3h-5.1zM1220.3 771.8h5.1v5.3h-5.1zM1225.0 776.7h5.1v5.3h-5.1zM1229.7 781.6h5.1v5.3h-5.1zM1234.5 786.5h5.1v5.3h-5.1zM1239.2 791.4h5.1v5.3h-5.1zM1244.0 796.3h5.1v5.3h-5.1zM1248.7 801.3h5.1v5.3h-5.1zM1253.4 806.2h5.1v5.3h-5.1zM1258.2 811.1h5.1v5.3h-5.1zM1262.9 816.0h5.1v5.3h-5.1zM1267.7 820.9h5.1v5.3h-5.1zM1272.4 825.8h5.1v5.3h-5.1zM1277.1 830.7h5.1v5.3h-5.1zM1281.9 835.7h5.1v5.3h-5.1zM1286.6 840.6h5.1v5.3h-5.1zM1291.3 845.5h5.1v5.3h-5.1zM1296.1 850.4h5.1v5.3h-5.1zM1300.8 855.3h5.1v5.3h-5.1zM1305.6 860.2h5.1v5.3h-5.1zM1310.3 865.2h5.1v5.3h-5.1zM1315.0 870.1h5.1v5.3h-5.1zM1319.8 875.0h5.1v5.3h-5.1zM1324.5 879.9h5.1v5.3h-5.1zM1329.2 884.8h5.1v5.3h-5.1zM1334.0 889.7h5.1v5.3h-5.1zM1338.7 894.7h5.1v5.3h-5.1zM1343.5 899.6h5.1v5.3h-5.1zM1348.2 904.5h5.1v5.3h-5.1zM1352.9 909.4h5.1v5.3h-5.1zM1357.7 914.3h5.1v5.3h-5.1zM1362.4 919.2h5.1v5.3h-5.1zM1367.1 924.1h5.1v5.3h-5.1zM1371.9 929.1h5.1v5.3h-5.1zM1376.6 934.0h5.1v5.3h-5.1zM1381.4 938.9h5.1v5.3h-5.1zM1386.1 943.8h5.1v5.3h-5.1zM1390.8 948.7h5.1v5.3h-5.1zM1395.6 953.6h5.1v5.3h-5.1zM1400.3 958.6h5.1v5.3h-5.1zM1405.0 963.5h5.1v5.3h-5.1zM1409.8 968.4h5.1v5.3h-5.1zM1414.5 973.3h5.1v5.3h-5.1zM1419.3 978.2h5.1v5.3h-5.1zM1424.0 983.1h5.1v5.3h-5.1zM1428.7 988.1h5.1v5.3h-5.1zM1433.5 993.0h5.1v5.3h-5.1zM1438.2 997.9h5.1v5.3h-5.1zM1443.0 1002.8h5.1v5.3h-5.1zM1447.7 1007.7h5.1v5.3h-5.1zM1452.4 1012.6h5.1v5.3h-5.1zM1457.2 1017.5h5.1v5.3h-5.1zM1461.9 1022.5h5.1v5.3h-5.1zM1466.6 1027.4h5.1v5.3h-5.1zM1471.4 1032.3h5.1v5.3h-5.1zM1476.1 1037.2h5.1v5.3h-5.1zM1480.9 1042.1h5.1v5.3h-5.1zM1485.6 1047.0h5.1v5.3h-5.1zM1490.3 1052.0h5.1v5.3h-5.1zM1495.1 1056.9h5.1v5.3h-5.1zM1499.8 1061.8h5.1v5.3h-5.1zM1504.5 1066.7h5.1v5.3h-5.1zM1509.3 1071.6h5.1v5.3h-5.1zM1514.0 1076.5h5.1v5.3h-5.1zM1518.8 1081.5h5.1v5.3h-5.1zM1523.5 1086.4h5.1v5.3h-5.1zM1528.2 1091.3h5.1v5.3h-5.1zM1533.0 1096.2h5.1v5.3h-5.1zM1537.7 1101.1h5.1v5.3h-5.1zM1542.4 1106.0h5.1v5.3h-5.1zM1547.2 1110.9h5.1v5.3h-5.1zM1551.9 1115.9h5.1v5.3h-5.1zM1556.7 1120.8h5.1v5.3h-5.1zM1561.4 1125.7h5.1v5.3h-5.1zM1566.1 1130.6h5.1v5.3h-5.1zM1570.9 1135.5h5.1v5.3h-5.1zM1575.6 1140.4h5.1v5.3h-5.1zM1580.3 1145.4h5.1v5.3h-5.1zM1585.1 1150.3h5.1v5.3h-5.1zM1589.8 1155.2h5.1v5.3h-5.1zM1594.6 1160.1h5.1v5.3h-5.1zM1599.3 1165.0h5.1v5.3h-5.1zM1604.0 1169.9h5.1v5.3h-5.1zM1608.8 1174.9h5.1v5.3h-5.1zM1613.5 1179.8h5.1v5.3h-5.1zM1618.2 1184.7h5.1v5.3h-5.1zM1623.0 1189.6h5.1v5.3h-5.1zM1627.7 1194.5h5.1v5.3h-5.1zM1632.5 1199.4h5.1v5.3h-5.1zM1637.2 1204.3h5.1v5.3h-5.1zM1641.9 1209.3h5.1v5.3h-5.1zM1646.7 1214.2h5.1v5.3h-5.1zM1651.4 1219.1h5.1v5.3h-5.1zM1656.2 1224.0h5.1v5.3h-5.1zM1660.9 1228.9h5.1v5.3h-5.1zM1665.6 1233.8h5.1v5.3h-5.1zM1670.4 1238.8h5.1v5.3h-5.1zM1675.1 1243.7h5.1v5.3h-5.1zM1679.8 1248.6h5.1v5.3h-5.1zM1684.6 1253.5h5.1v5.3h-5.1zM1689.3 1258.4h5.1v5.3h-5.1zM1694.1 1263.3h5.1v5.3h-5.1zM1698.8 1268.2h5.1v5.3h-5.1zM1703.5 1273.2h5.1v5.3h-5.1zM1708.3 1278.1h5.1v5.3h-5.1zM1713.0 1283.0h5.1v5.3h-5.1zM1717.7 1287.9h5.1v5.3h-5.1zM1722.5 1292.8h5.1v5.3h-5.1zM1727.2 1297.7h5.1v5.3h-5.1zM1732.0 1302.7h5.1v5.3h-5.1zM1736.7 1307.6h5.1v5.3h-5.1zM1741.4 1312.5h5.1v5.3h-5.1zM1746.2 1317.4h5.1v5.3h-5.1zM1750.9 1322.3h5.1v5.3h-5.1zM1755.6 1327.2h5.1v5.3h-5.1zM1760.4 1332.2h5.1v5.3h-5.1zM1765.1 1337.1h5.1v5.3h-5.1zM1769.9 1342.0h5.1v5.3h-5.1zM1774.6 1346.9h5.1v5.3h-5.1zM1779.3 1351.8h5.1v5.3h-5.1zM1784.1 1356.7h5.1v5.3h-5.1zM1788.8 1361.6h5.1v5.3h-5.1zM1793.5 1366.6h5.1v5.3h-5.1zM1798.3 1371.5h5.1v5.3h-5.1zM1803.0 1376.4h5.1v5.3h-5.1zM1807.8 1381.3h5.1v5.3h-5.1zM1812.5 1386.2h5.1v5.3h-5.1zM1817.2 1391.1h5.1v5.3h-5.1zM1822.0 1396.1h5.1v5.3h-5.1zM1826.7 1401.0h5.1v5.3h-5.1zM1831.5 1405.9h5.1v5.3h-5.1zM1836.2 1410.8h5.1v5.3h-5.1zM1840.9 1415.7h5.1v5.3h-5.1zM1845.7 1420.6h5.1v5.3h-5.1zM1850.4 1425.6h5.1v5.3h-5.1zM1855.1 1430.5h5.1v5.3h-5.1zM1859.9 1435.4h5.1v5.3h-5.1zM1864.6 1440.3h5.1v5.3h-5.1zM1869.4 1445.2h5.1v5.3h-5.1zM1874.1 1450.1h5.1v5.3h-5.1zM1878.8 1455.0h5.1v5.3h-5.1zM1883.6 1460.0h5.1v5.3h-5.1zM1888.3 1464.9h5.1v5.3h-5.1zM1893.0 1469.8h5.1v5.3h-5.1zM1897.8 1474.7h5.1v5.3h-5.1zM1902.5 1479.6h5.1v5.3h-5.1zM1907.3 1484.5h5.1v5.3h-5.1zM1912.0 1489.5h5.1v5.3h-5.1zM1916.7 1494.4h5.1v5.3h-5.1zM1921.5 1499.3h5.1v5.3h-5.1zM1926.2 1504.2h5.1v5.3h-5.1zM1930.9 1509.1h5.1v5.3h-5.1zM1935.7 1514.0h5.1v5.3h-5.1zM1940.4 1519.0h5.1v5.3h-5.1zM1945.2 1523.9h5.1v5.3h-5.1zM1949.9 1528.8h5.1v5.3h-5.1zM1954.6 1533.7h5.1v5.3h-5.1zM1959.4 1538.6h5.1v5.3h-5.1zM1964.1 1543.5h5.1v5.3h-5.1zM1968.8 1548.4h5.1v5.3h-5.1zM1973.6 1553.4h5.1v5.3h-5.1zM1978.3 1558.3h5.1v5.3h-5.1zM1983.1 1563.2h5.1v5.3h-5.1zM1987.8 1568.1h5.1v5.3h-5.1zM1992.5 1573.0h5.1v5.3h-5.1zM1997.3 1577.9h5.1v5.3h-5.1zM2002.0 1582.9h5.1v5.3h-5.1zM2006.8 1587.8h5.1v5.3h-5.1zM2011.5 1592.7h5.1v5.3h-5.1zM2016.2 1597.6h5.1v5.3h-5.1zM2021.0 1602.5h5.1v5.3h-5.1zM2025.7 1607.4h5.1v5.3h-5.1zM2030.4 1612.4h5.1v5.3h-5.1zM2035.2 1617.3h5.1v5.3h-5.1zM2039.9 1622.2h5.1v5.3h-5.1zM2044.7 1627.1h5.1v5.3h-5.1zM2049.4 1632.0h5.1v5.3h-5.1zM2054.1 1636.9h5.1v5.3h-5.1zM2058.9 1641.8h5.1v5.3h-5.1zM2063.6 1646.8h5.1v5.3h-5.1zM2068.3 1651.7h5.1v5.3h-5.1zM2073.1 1656.6h5.1v5.3h-5.1zM2077.8 1661.5h5.1v5.3h-5.1zM2082.6 1666.4h5.1v5.3h-5.1zM2087.3 1671.3h5.1v5.3h-5.1zM2092.0 1676.3h5.1v5.3h-5.1zM2096.8 1681.2h5.1v5.3h-5.1zM2101.5 1686.1h5.1v5.3h-5.1zM2106.2 1691.0h5.1v5.3h-5.1zM2111.0 1695.9h5.1v5.3h-5.1zM2115.7 1700.8h5.1v5.3h-5.1zM2120.5 1705.8h5.1v5.3h-5.1zM2125.2 1710.7h5.1v5.3h-5.1zM2129.9 1715.6h5.1v5.3h-5.1zM2134.7 1720.5h5.1v5.3h-5.1zM2139.4 1725.4h5.1v5.3h-5.1zM2144.1 1730.3h5.1v5.3h-5.1zM2148.9 1735.2h5.1v5.3h-5.1zM2153.6 1740.2h5.1v5.3h-5.1zM2158.4 1745.1h5.1v5.3h-5.1zM2163.1 1750.0h5.1v5.3h-5.1zM2167.8 1754.9h5.1v5.3h-5.1zM2172.6 1759.8h5.1v5.3h-5.1zM2177.3 1764.7h5.1v5.3h-5.1zM2182.0 1769.7h5.1v5.3h-5.1zM2186.8 1774.6h5.1v5.3h-5.1zM2191.5 1779.5h5.1v5.3h-5.1zM2196.3 1784.4h5.1v5.3h-5.1zM2201.0 1789.3h5.1v5.3h-5.1zM2205.7 1794.2h5.1v5.3h-5.1zM2210.5 1799.1h5.1v5.3h-5.1zM2215.2 1804.1h5.1v5.3h-5.1zM2220.0 1809.0h5.1v5.3h-5.1zM2224.7 1813.9h5.1v5.3h-5.1zM2229.4 1818.8h5.1v5.3h-5.1zM2234.2 1823.7h5.1v5.3h-5.1zM2238.9 1828.6h5.1v5.3h-5.1zM2243.6 1833.6h5.1v5.3h-5.1zM2248.4 1838.5h5.1v5.3h-5.1zM2253.1 1843.4h5.1v5.3h-5.1zM2257.9 1848.3h5.1v5.3h-5.1zM2262.6 1853.2h5.1v5.3h-5.1zM2267.3 1858.1h5.1v5.3h-5.1zM2272.1 1863.1h5.1v5.3h-5.1zM2276.8 1868.0h5.1v5.3h-5.1zM2281.5 1872.9h5.1v5.3h-5.1zM2286.3 1877.8h5.1v5.3h-5.1zM2291.0 1882.7h5.1v5.3h-5.1zM2295.8 1887.6h5.1v5.3h-5.1zM2300.5 1892.5h5.1v5.3h-5.1zM2305.2 1897.5h5.1v5.3h-5.1zM2310.0 1902.4h5.1v5.3h-5.1zM2314.7 1907.3h5.1v5.3h-5.1zM2319.4 1912.2h5.1v5.3h-5.1zM2324.2 1917.1h5.1v5.3h-5.1zM2328.9 1922.0h5.1v5.3h-5.1zM2333.7 1927.0h5.1v5.3h-5.1zM2338.4 1931.9h5.1v5.3h-5.1zM2343.1 1936.8h5.1v5.3h-5.1zM2347.9 1941.7h5.1v5.3h-5.1zM2352.6 1946.6h5.1v5.3h-5.1zM2357.3 1951.5h5.1v5.3h-5.1zM2362.1 1956.5h5.1v5.3h-5.1zM2366.8 1961.4h5.1v5.3h-5.1zM2371.6 1966.3h5.1v5.3h-5.1z" fill="#7c0000"/>
</g>
<g id="heat-b" filter="url(#softb)">
<rect x="325.1" y="2088.6" width="1870.2" height="1941.9" fill="#f2f2f2"/>
<rect x="1702.1" y="3506.2" width="12.5" height="12.2" fill="#b9b9b9"/>
<rect x="1690.3" y="3518.4" width="11.8" height="13.0" fill="#b9b9b9"/>
<rect x="1935.9" y="3532.4" width="14.4" height="20.4" fill="#b9b9b9"/>
<rect x="1950.3" y="3537.3" width="6.4" height="15.5" fill="#b9b9b9"/>
<rect x="1715.6" y="3761.2" width="20.8" height="21.6" fill="#b9b9b9"/>
<rect x="1774.1" y="3554.0" width="55.4" height="41.0" fill="#b9b9b9"/>
<rect x="1838.8" y="3554.7" width="32.4" height="33.4" fill="#b9b9b9"/>
<rect x="1871.2" y="3554.7" width="59.7" height="7.8" fill="#b9b9b9"/>
<rect x="1736.4" y="3594.9" width="37.8" height="54.6" fill="#b9b9b9"/>
<rect x="1737.1" y="3660.4" width="32.2" height="33.6" fill="#b9b9b9"/>
<rect x="1737.1" y="3694.0" width="6.5" height="29.7" fill="#b9b9b9"/>
<rect x="1737.1" y="3728.5" width="6.5" height="26.2" fill="#b9b9b9"/>
<rect x="1774.1" y="3594.9" width="156.7" height="161.0" fill="#b9b9b9"/>
<rect x="1769.8" y="3743.1" width="4.3" height="12.8" fill="#b9b9b9"/>
<rect x="1828.7" y="3755.9" width="9.4" height="4.7" fill="#b9b9b9"/>
<rect x="1933.5" y="3756.5" width="261.8" height="35.7" fill="#b9b9b9"/>
<rect x="1931.4" y="3758.6" width="35.3" height="271.9" fill="#b9b9b9"/>
<rect x="1841.8" y="3574.2" width="4.7" height="4.3" fill="#f2f2f2"/>
<rect x="1756.7" y="3661.5" width="4.7" height="4.3" fill="#f2f2f2"/>
<rect x="1833.6" y="3599.8" width="4.9" height="5.4" fill="#f2f2f2"/>
<rect x="1833.6" y="3613.0" width="4.9" height="9.7" fill="#f2f2f2"/>
<rect x="1833.6" y="3631.4" width="4.9" height="8.7" fill="#f2f2f2"/>
<rect x="1778.2" y="3653.0" width="13.1" height="3.9" fill="#f2f2f2"/>
<rect x="1796.0" y="3653.0" width="7.5" height="3.9" fill="#f2f2f2"/>
<rect x="1811.9" y="3653.0" width="4.7" height="3.9" fill="#f2f2f2"/>
<rect x="1825.0" y="3653.0" width="3.7" height="3.9" fill="#f2f2f2"/>
<rect x="1722.1" y="3766.4" width="4.7" height="3.9" fill="#f2f2f2"/>
<rect x="1722.1" y="3775.1" width="4.7" height="3.9" fill="#f2f2f2"/>
<rect x="1931.4" y="3838.3" width="4.5" height="10.7" fill="#f2f2f2"/>
<rect x="1931.4" y="3939.2" width="4.5" height="5.8" fill="#f2f2f2"/>
<rect x="1987.7" y="3756.5" width="7.5" height="3.1" fill="#f2f2f2"/>
<rect x="2000.8" y="3756.5" width="7.5" height="3.1" fill="#f2f2f2"/>
<rect x="2096.2" y="3756.5" width="5.6" height="3.1" fill="#f2f2f2"/>
<rect x="2124.2" y="3756.5" width="13.1" height="3.1" fill="#f2f2f2"/>
<rect x="325.1" y="2088.6" width="46.6" height="48.4" fill="#000000"/>
<rect x="371.7" y="2137.0" width="13.1" height="13.6" fill="#000000"/>
<rect x="384.8" y="2150.5" width="25.6" height="26.6" fill="#000000"/>
<rect x="410.4" y="2177.2" width="713.7" height="741.0" fill="#000000"/>
<rect x="1132.5" y="2926.9" width="34.0" height="35.3" fill="#000000"/>
<rect x="1166.5" y="2962.3" width="336.3" height="349.2" fill="#000000"/>
<rect x="1502.8" y="3311.4" width="20.8" height="21.6" fill="#000000"/>
<rect x="1523.5" y="3333.0" width="157.3" height="163.3" fill="#000000"/>
<rect x="1690.3" y="3506.2" width="11.8" height="12.2" fill="#000000"/>
<rect x="1702.1" y="3518.4" width="12.5" height="13.0" fill="#000000"/>
<rect x="1715.6" y="3532.4" width="20.8" height="21.6" fill="#000000"/>
<rect x="1736.4" y="3554.0" width="33.9" height="35.1" fill="#000000"/>
<rect x="1774.1" y="3593.2" width="54.8" height="56.9" fill="#000000"/>
<rect x="1838.8" y="3660.4" width="32.4" height="33.6" fill="#000000"/>
<rect x="1872.3" y="3695.1" width="58.5" height="60.8" fill="#000000"/>
<rect x="1935.9" y="3761.2" width="20.8" height="21.6" fill="#000000"/>
<rect x="1966.8" y="3791.6" width="228.5" height="238.9" fill="#000000"/>
<rect x="1778.2" y="3554.0" width="50.7" height="8.5" fill="#000000"/>
<rect x="1737.1" y="3598.4" width="7.1" height="51.1" fill="#000000"/>
<rect x="1828.9" y="3650.1" width="9.2" height="9.5" fill="#000000"/>
<rect x="1828.9" y="3661.5" width="5.0" height="8.7" fill="#000000"/>
<rect x="1956.8" y="3894.6" width="10.3" height="5.0" fill="#000000"/>
<rect x="1959.7" y="3909.7" width="7.5" height="10.1" fill="#000000"/>
<rect x="1962.5" y="3924.9" width="4.7" height="5.0" fill="#000000"/>
<rect x="1956.8" y="3940.0" width="10.3" height="5.0" fill="#000000"/>
<rect x="1956.8" y="3960.2" width="10.3" height="5.0" fill="#000000"/>
<rect x="1962.5" y="3985.4" width="4.7" height="5.0" fill="#000000"/>
<rect x="1959.7" y="3995.5" width="7.5" height="15.1" fill="#000000"/>
<rect x="1967.1" y="3783.5" width="4.9" height="8.5" fill="#000000"/>
<rect x="1986.6" y="3785.8" width="14.6" height="6.2" fill="#000000"/>
<rect x="2035.2" y="3783.5" width="19.5" height="8.5" fill="#000000"/>
<rect x="2098.4" y="3783.5" width="19.5" height="8.5" fill="#000000"/>
<rect x="2147.0" y="3783.5" width="9.7" height="8.5" fill="#000000"/>
<rect x="2166.5" y="3785.8" width="14.6" height="6.2" fill="#000000"/>
<rect x="1215.0" y="2920.3" width="4.7" height="3.5" fill="#c4c4c4"/>
<rect x="1229.3" y="2920.3" width="4.7" height="3.5" fill="#c4c4c4"/>
<rect x="1238.8" y="2920.3" width="19.0" height="3.5" fill="#c4c4c4"/>
<rect x="1295.7" y="2920.3" width="14.2" height="3.5" fill="#c4c4c4"/>
<rect x="1314.7" y="2920.3" width="14.2" height="3.5" fill="#c4c4c4"/>
<rect x="1333.7" y="2920.3" width="4.7" height="3.5" fill="#c4c4c4"/>
<rect x="1347.9" y="2920.3" width="19.0" height="3.5" fill="#c4c4c4"/>
<rect x="1395.4" y="2920.3" width="9.5" height="3.5" fill="#c4c4c4"/>
<rect x="1428.6" y="2920.3" width="4.7" height="3.5" fill="#c4c4c4"/>
<rect x="1438.1" y="2920.3" width="4.7" height="3.5" fill="#c4c4c4"/>
<rect x="1447.6" y="2920.3" width="14.2" height="3.5" fill="#c4c4c4"/>
<rect x="1466.6" y="2920.3" width="14.2" height="3.5" fill="#c4c4c4"/>
<rect x="1126.7" y="3001.3" width="3.3" height="9.9" fill="#c4c4c4"/>
<rect x="1126.7" y="3021.0" width="3.3" height="4.9" fill="#c4c4c4"/>
<rect x="1126.7" y="3040.7" width="3.3" height="9.9" fill="#c4c4c4"/>
<rect x="1126.7" y="3099.9" width="3.3" height="4.9" fill="#c4c4c4"/>
<rect x="1126.7" y="3144.2" width="3.3" height="4.9" fill="#c4c4c4"/>
<rect x="1126.7" y="3159.0" width="3.3" height="9.9" fill="#c4c4c4"/>
<rect x="1126.7" y="3198.4" width="3.3" height="4.9" fill="#c4c4c4"/>
<rect x="1126.7" y="3208.3" width="3.3" height="9.9" fill="#c4c4c4"/>
<rect x="1126.7" y="3223.1" width="3.3" height="4.9" fill="#c4c4c4"/>
<rect x="1126.7" y="3242.8" width="3.3" height="4.9" fill="#c4c4c4"/>
<rect x="1126.7" y="3287.2" width="3.3" height="9.9" fill="#c4c4c4"/>
<rect x="1194.7" y="2932.4" width="2.8" height="12.3" fill="#c4c4c4"/>
<rect x="1202.2" y="2932.4" width="2.8" height="12.3" fill="#c4c4c4"/>
<rect x="1211.6" y="2932.4" width="5.7" height="12.3" fill="#c4c4c4"/>
<rect x="1220.9" y="2932.4" width="2.8" height="12.3" fill="#c4c4c4"/>
<rect x="1194.7" y="2950.8" width="2.8" height="7.4" fill="#c4c4c4"/>
<rect x="1204.1" y="2950.8" width="2.8" height="7.4" fill="#c4c4c4"/>
<rect x="1213.4" y="2950.8" width="2.8" height="7.4" fill="#c4c4c4"/>
<rect x="1222.8" y="2950.8" width="2.8" height="7.4" fill="#c4c4c4"/>
<rect x="1275.2" y="2925.6" width="2.8" height="14.8" fill="#c4c4c4"/>
<rect x="1284.5" y="2935.3" width="2.8" height="17.3" fill="#c4c4c4"/>
<rect x="1299.5" y="2933.3" width="2.8" height="17.3" fill="#c4c4c4"/>
<rect x="1307.9" y="2933.3" width="2.8" height="17.3" fill="#c4c4c4"/>
<rect x="1284.5" y="2950.8" width="2.8" height="7.4" fill="#c4c4c4"/>
<rect x="1299.5" y="2950.8" width="2.8" height="7.4" fill="#c4c4c4"/>
<rect x="1307.9" y="2950.8" width="2.8" height="7.4" fill="#c4c4c4"/>
<rect x="1449.1" y="2925.6" width="9.5" height="5.9" fill="#c4c4c4"/>
<rect x="1449.1" y="2935.3" width="9.5" height="3.0" fill="#c4c4c4"/>
<rect x="1482.8" y="2929.4" width="7.1" height="3.0" fill="#c4c4c4"/>
<rect x="1353.7" y="2929.4" width="2.8" height="3.0" fill="#c4c4c4"/>
<rect x="1398.6" y="2929.4" width="2.8" height="3.0" fill="#c4c4c4"/>
<rect x="1142.4" y="2989.6" width="11.9" height="3.9" fill="#c4c4c4"/>
<rect x="1142.4" y="2999.4" width="21.4" height="7.9" fill="#c4c4c4"/>
<rect x="1142.4" y="3009.1" width="21.4" height="4.9" fill="#c4c4c4"/>
<rect x="1142.4" y="3015.9" width="9.5" height="12.3" fill="#c4c4c4"/>
<rect x="1155.5" y="3016.8" width="11.9" height="3.9" fill="#c4c4c4"/>
<rect x="1136.8" y="3041.1" width="21.4" height="3.9" fill="#c4c4c4"/>
<rect x="1142.4" y="3047.9" width="23.7" height="3.9" fill="#c4c4c4"/>
<rect x="1142.4" y="3059.6" width="26.1" height="4.9" fill="#c4c4c4"/>
<rect x="1142.4" y="3068.3" width="26.1" height="4.9" fill="#c4c4c4"/>
<rect x="1151.7" y="3030.4" width="3.8" height="5.9" fill="#c4c4c4"/>
<rect x="1151.7" y="3084.8" width="3.8" height="5.9" fill="#c4c4c4"/>
<rect x="1142.4" y="3106.2" width="3.8" height="3.9" fill="#c4c4c4"/>
<rect x="1143.3" y="3156.6" width="3.8" height="3.9" fill="#c4c4c4"/>
<rect x="1152.7" y="3189.7" width="3.8" height="3.0" fill="#c4c4c4"/>
<rect x="1142.4" y="3244.0" width="4.7" height="3.0" fill="#c4c4c4"/>
<rect x="1148.0" y="3244.0" width="9.5" height="5.9" fill="#c4c4c4"/>
<rect x="1142.4" y="3273.2" width="3.8" height="4.9" fill="#c4c4c4"/>
<rect x="1151.7" y="3292.6" width="3.8" height="3.9" fill="#c4c4c4"/>
<rect x="656.1" y="2142.0" width="2.8" height="5.9" fill="#c4c4c4"/>
<rect x="378.4" y="2192.5" width="3.3" height="3.5" fill="#c4c4c4"/>
<rect x="374.1" y="2431.3" width="7.6" height="7.9" fill="#c4c4c4"/>
<rect x="1716.5" y="3723.7" width="2.8" height="3.0" fill="#c4c4c4"/>
<rect x="1834.4" y="3510.1" width="2.4" height="3.0" fill="#c4c4c4"/>
<rect x="1834.4" y="3525.6" width="2.4" height="3.0" fill="#c4c4c4"/>
<rect x="2021.0" y="3533.4" width="2.8" height="11.8" fill="#c4c4c4"/>
<rect x="1715.8" y="3848.9" width="2.8" height="3.0" fill="#c4c4c4"/>
<path d="M325.1 2088.6h4.7v4.9h-4.7zM329.8 2093.5h4.7v4.9h-4.7zM334.6 2098.5h4.7v4.9h-4.7zM339.3 2103.4h4.7v4.9h-4.7zM344.1 2108.3h4.7v4.9h-4.7zM348.8 2113.2h4.7v4.9h-4.7zM353.6 2118.2h4.7v4.9h-4.7zM358.3 2123.1h4.7v4.9h-4.7zM363.1 2128.0h4.7v4.9h-4.7zM367.8 2133.0h4.7v4.9h-4.7zM372.6 2137.9h4.7v4.9h-4.7zM377.3 2142.8h4.7v4.9h-4.7zM382.1 2147.7h4.7v4.9h-4.7zM386.8 2152.7h4.7v4.9h-4.7zM391.6 2157.6h4.7v4.9h-4.7zM396.3 2162.5h4.7v4.9h-4.7zM401.0 2167.5h4.7v4.9h-4.7zM405.8 2172.4h4.7v4.9h-4.7zM410.5 2177.3h4.7v4.9h-4.7zM415.3 2182.2h4.7v4.9h-4.7zM420.0 2187.2h4.7v4.9h-4.7zM424.8 2192.1h4.7v4.9h-4.7zM429.5 2197.0h4.7v4.9h-4.7zM434.3 2202.0h4.7v4.9h-4.7zM439.0 2206.9h4.7v4.9h-4.7zM443.8 2211.8h4.7v4.9h-4.7zM448.5 2216.7h4.7v4.9h-4.7zM453.3 2221.7h4.7v4.9h-4.7zM458.0 2226.6h4.7v4.9h-4.7zM462.8 2231.5h4.7v4.9h-4.7zM467.5 2236.5h4.7v4.9h-4.7zM472.2 2241.4h4.7v4.9h-4.7zM477.0 2246.3h4.7v4.9h-4.7zM481.7 2251.2h4.7v4.9h-4.7zM486.5 2256.2h4.7v4.9h-4.7zM491.2 2261.1h4.7v4.9h-4.7zM496.0 2266.0h4.7v4.9h-4.7zM500.7 2271.0h4.7v4.9h-4.7zM505.5 2275.9h4.7v4.9h-4.7zM510.2 2280.8h4.7v4.9h-4.7zM515.0 2285.7h4.7v4.9h-4.7zM519.7 2290.7h4.7v4.9h-4.7zM524.5 2295.6h4.7v4.9h-4.7zM529.2 2300.5h4.7v4.9h-4.7zM534.0 2305.5h4.7v4.9h-4.7zM538.7 2310.4h4.7v4.9h-4.7zM543.4 2315.3h4.7v4.9h-4.7zM548.2 2320.2h4.7v4.9h-4.7zM552.9 2325.2h4.7v4.9h-4.7zM557.7 2330.1h4.7v4.9h-4.7zM562.4 2335.0h4.7v4.9h-4.7zM567.2 2340.0h4.7v4.9h-4.7zM571.9 2344.9h4.7v4.9h-4.7zM576.7 2349.8h4.7v4.9h-4.7zM581.4 2354.7h4.7v4.9h-4.7zM586.2 2359.7h4.7v4.9h-4.7zM590.9 2364.6h4.7v4.9h-4.7zM595.7 2369.5h4.7v4.9h-4.7zM600.4 2374.5h4.7v4.9h-4.7zM605.2 2379.4h4.7v4.9h-4.7zM609.9 2384.3h4.7v4.9h-4.7zM614.6 2389.2h4.7v4.9h-4.7zM619.4 2394.2h4.7v4.9h-4.7zM624.1 2399.1h4.7v4.9h-4.7zM628.9 2404.0h4.7v4.9h-4.7zM633.6 2409.0h4.7v4.9h-4.7zM638.4 2413.9h4.7v4.9h-4.7zM643.1 2418.8h4.7v4.9h-4.7zM647.9 2423.8h4.7v4.9h-4.7zM652.6 2428.7h4.7v4.9h-4.7zM657.4 2433.6h4.7v4.9h-4.7zM662.1 2438.5h4.7v4.9h-4.7zM666.9 2443.5h4.7v4.9h-4.7zM671.6 2448.4h4.7v4.9h-4.7zM676.4 2453.3h4.7v4.9h-4.7zM681.1 2458.3h4.7v4.9h-4.7zM685.8 2463.2h4.7v4.9h-4.7zM690.6 2468.1h4.7v4.9h-4.7zM695.3 2473.0h4.7v4.9h-4.7zM700.1 2478.0h4.7v4.9h-4.7zM704.8 2482.9h4.7v4.9h-4.7zM709.6 2487.8h4.7v4.9h-4.7zM714.3 2492.8h4.7v4.9h-4.7zM719.1 2497.7h4.7v4.9h-4.7zM723.8 2502.6h4.7v4.9h-4.7zM728.6 2507.5h4.7v4.9h-4.7zM733.3 2512.5h4.7v4.9h-4.7zM738.1 2517.4h4.7v4.9h-4.7zM742.8 2522.3h4.7v4.9h-4.7zM747.6 2527.3h4.7v4.9h-4.7zM752.3 2532.2h4.7v4.9h-4.7zM757.0 2537.1h4.7v4.9h-4.7zM761.8 2542.0h4.7v4.9h-4.7zM766.5 2547.0h4.7v4.9h-4.7zM771.3 2551.9h4.7v4.9h-4.7zM776.0 2556.8h4.7v4.9h-4.7zM780.8 2561.8h4.7v4.9h-4.7zM785.5 2566.7h4.7v4.9h-4.7zM790.3 2571.6h4.7v4.9h-4.7zM795.0 2576.5h4.7v4.9h-4.7zM799.8 2581.5h4.7v4.9h-4.7zM804.5 2586.4h4.7v4.9h-4.7zM809.3 2591.3h4.7v4.9h-4.7zM814.0 2596.3h4.7v4.9h-4.7zM818.8 2601.2h4.7v4.9h-4.7zM823.5 2606.1h4.7v4.9h-4.7zM828.3 2611.0h4.7v4.9h-4.7zM833.0 2616.0h4.7v4.9h-4.7zM837.7 2620.9h4.7v4.9h-4.7zM842.5 2625.8h4.7v4.9h-4.7zM847.2 2630.8h4.7v4.9h-4.7zM852.0 2635.7h4.7v4.9h-4.7zM856.7 2640.6h4.7v4.9h-4.7zM861.5 2645.5h4.7v4.9h-4.7zM866.2 2650.5h4.7v4.9h-4.7zM871.0 2655.4h4.7v4.9h-4.7zM875.7 2660.3h4.7v4.9h-4.7zM880.5 2665.3h4.7v4.9h-4.7zM885.2 2670.2h4.7v4.9h-4.7zM890.0 2675.1h4.7v4.9h-4.7zM894.7 2680.0h4.7v4.9h-4.7zM899.5 2685.0h4.7v4.9h-4.7zM904.2 2689.9h4.7v4.9h-4.7zM908.9 2694.8h4.7v4.9h-4.7zM913.7 2699.8h4.7v4.9h-4.7zM918.4 2704.7h4.7v4.9h-4.7zM923.2 2709.6h4.7v4.9h-4.7zM927.9 2714.5h4.7v4.9h-4.7zM932.7 2719.5h4.7v4.9h-4.7zM937.4 2724.4h4.7v4.9h-4.7zM942.2 2729.3h4.7v4.9h-4.7zM946.9 2734.3h4.7v4.9h-4.7zM951.7 2739.2h4.7v4.9h-4.7zM956.4 2744.1h4.7v4.9h-4.7zM961.2 2749.0h4.7v4.9h-4.7zM965.9 2754.0h4.7v4.9h-4.7zM970.7 2758.9h4.7v4.9h-4.7zM975.4 2763.8h4.7v4.9h-4.7zM980.1 2768.8h4.7v4.9h-4.7zM984.9 2773.7h4.7v4.9h-4.7zM989.6 2778.6h4.7v4.9h-4.7zM994.4 2783.5h4.7v4.9h-4.7zM999.1 2788.5h4.7v4.9h-4.7zM1003.9 2793.4h4.7v4.9h-4.7zM1008.6 2798.3h4.7v4.9h-4.7zM1013.4 2803.3h4.7v4.9h-4.7zM1018.1 2808.2h4.7v4.9h-4.7zM1022.9 2813.1h4.7v4.9h-4.7zM1027.6 2818.0h4.7v4.9h-4.7zM1032.4 2823.0h4.7v4.9h-4.7zM1037.1 2827.9h4.7v4.9h-4.7zM1041.9 2832.8h4.7v4.9h-4.7zM1046.6 2837.8h4.7v4.9h-4.7zM1051.3 2842.7h4.7v4.9h-4.7zM1056.1 2847.6h4.7v4.9h-4.7zM1060.8 2852.5h4.7v4.9h-4.7zM1065.6 2857.5h4.7v4.9h-4.7zM1070.3 2862.4h4.7v4.9h-4.7zM1075.1 2867.3h4.7v4.9h-4.7zM1079.8 2872.3h4.7v4.9h-4.7zM1084.6 2877.2h4.7v4.9h-4.7zM1089.3 2882.1h4.7v4.9h-4.7zM1094.1 2887.0h4.7v4.9h-4.7zM1098.8 2892.0h4.7v4.9h-4.7zM1103.6 2896.9h4.7v4.9h-4.7zM1108.3 2901.8h4.7v4.9h-4.7zM1113.1 2906.8h4.7v4.9h-4.7zM1117.8 2911.7h4.7v4.9h-4.7zM1122.5 2916.6h4.7v4.9h-4.7zM1127.3 2921.5h4.7v4.9h-4.7zM1132.0 2926.5h4.7v4.9h-4.7zM1136.8 2931.4h4.7v4.9h-4.7zM1141.5 2936.3h4.7v4.9h-4.7zM1146.3 2941.3h4.7v4.9h-4.7zM1151.0 2946.2h4.7v4.9h-4.7zM1155.8 2951.1h4.7v4.9h-4.7zM1160.5 2956.0h4.7v4.9h-4.7zM1165.3 2961.0h4.7v4.9h-4.7zM1170.0 2965.9h4.7v4.9h-4.7zM1174.8 2970.8h4.7v4.9h-4.7zM1179.5 2975.8h4.7v4.9h-4.7zM1184.3 2980.7h4.7v4.9h-4.7zM1189.0 2985.6h4.7v4.9h-4.7zM1193.7 2990.5h4.7v4.9h-4.7zM1198.5 2995.5h4.7v4.9h-4.7zM1203.2 3000.4h4.7v4.9h-4.7zM1208.0 3005.3h4.7v4.9h-4.7zM1212.7 3010.3h4.7v4.9h-4.7zM1217.5 3015.2h4.7v4.9h-4.7zM1222.2 3020.1h4.7v4.9h-4.7zM1227.0 3025.0h4.7v4.9h-4.7zM1231.7 3030.0h4.7v4.9h-4.7zM1236.5 3034.9h4.7v4.9h-4.7zM1241.2 3039.8h4.7v4.9h-4.7zM1246.0 3044.8h4.7v4.9h-4.7zM1250.7 3049.7h4.7v4.9h-4.7zM1255.5 3054.6h4.7v4.9h-4.7zM1260.2 3059.5h4.7v4.9h-4.7zM1264.9 3064.5h4.7v4.9h-4.7zM1269.7 3069.4h4.7v4.9h-4.7zM1274.4 3074.3h4.7v4.9h-4.7zM1279.2 3079.3h4.7v4.9h-4.7zM1283.9 3084.2h4.7v4.9h-4.7zM1288.7 3089.1h4.7v4.9h-4.7zM1293.4 3094.1h4.7v4.9h-4.7zM1298.2 3099.0h4.7v4.9h-4.7zM1302.9 3103.9h4.7v4.9h-4.7zM1307.7 3108.8h4.7v4.9h-4.7zM1312.4 3113.8h4.7v4.9h-4.7zM1317.2 3118.7h4.7v4.9h-4.7zM1321.9 3123.6h4.7v4.9h-4.7zM1326.7 3128.6h4.7v4.9h-4.7zM1331.4 3133.5h4.7v4.9h-4.7zM1336.1 3138.4h4.7v4.9h-4.7zM1340.9 3143.3h4.7v4.9h-4.7zM1345.6 3148.3h4.7v4.9h-4.7zM1350.4 3153.2h4.7v4.9h-4.7zM1355.1 3158.1h4.7v4.9h-4.7zM1359.9 3163.1h4.7v4.9h-4.7zM1364.6 3168.0h4.7v4.9h-4.7zM1369.4 3172.9h4.7v4.9h-4.7zM1374.1 3177.8h4.7v4.9h-4.7zM1378.9 3182.8h4.7v4.9h-4.7zM1383.6 3187.7h4.7v4.9h-4.7zM1388.4 3192.6h4.7v4.9h-4.7zM1393.1 3197.6h4.7v4.9h-4.7zM1397.9 3202.5h4.7v4.9h-4.7zM1402.6 3207.4h4.7v4.9h-4.7zM1407.3 3212.3h4.7v4.9h-4.7zM1412.1 3217.3h4.7v4.9h-4.7zM1416.8 3222.2h4.7v4.9h-4.7zM1421.6 3227.1h4.7v4.9h-4.7zM1426.3 3232.1h4.7v4.9h-4.7zM1431.1 3237.0h4.7v4.9h-4.7zM1435.8 3241.9h4.7v4.9h-4.7zM1440.6 3246.8h4.7v4.9h-4.7zM1445.3 3251.8h4.7v4.9h-4.7zM1450.1 3256.7h4.7v4.9h-4.7zM1454.8 3261.6h4.7v4.9h-4.7zM1459.6 3266.6h4.7v4.9h-4.7zM1464.3 3271.5h4.7v4.9h-4.7zM1469.1 3276.4h4.7v4.9h-4.7zM1473.8 3281.3h4.7v4.9h-4.7zM1478.5 3286.3h4.7v4.9h-4.7zM1483.3 3291.2h4.7v4.9h-4.7zM1488.0 3296.1h4.7v4.9h-4.7zM1492.8 3301.1h4.7v4.9h-4.7zM1497.5 3306.0h4.7v4.9h-4.7zM1502.3 3310.9h4.7v4.9h-4.7zM1507.0 3315.8h4.7v4.9h-4.7zM1511.8 3320.8h4.7v4.9h-4.7zM1516.5 3325.7h4.7v4.9h-4.7zM1521.3 3330.6h4.7v4.9h-4.7zM1526.0 3335.6h4.7v4.9h-4.7zM1530.8 3340.5h4.7v4.9h-4.7zM1535.5 3345.4h4.7v4.9h-4.7zM1540.3 3350.3h4.7v4.9h-4.7zM1545.0 3355.3h4.7v4.9h-4.7zM1549.7 3360.2h4.7v4.9h-4.7zM1554.5 3365.1h4.7v4.9h-4.7zM1559.2 3370.1h4.7v4.9h-4.7zM1564.0 3375.0h4.7v4.9h-4.7zM1568.7 3379.9h4.7v4.9h-4.7zM1573.5 3384.8h4.7v4.9h-4.7zM1578.2 3389.8h4.7v4.9h-4.7zM1583.0 3394.7h4.7v4.9h-4.7zM1587.7 3399.6h4.7v4.9h-4.7zM1592.5 3404.6h4.7v4.9h-4.7zM1597.2 3409.5h4.7v4.9h-4.7zM1602.0 3414.4h4.7v4.9h-4.7zM1606.7 3419.3h4.7v4.9h-4.7zM1611.5 3424.3h4.7v4.9h-4.7zM1616.2 3429.2h4.7v4.9h-4.7zM1620.9 3434.1h4.7v4.9h-4.7zM1625.7 3439.1h4.7v4.9h-4.7zM1630.4 3444.0h4.7v4.9h-4.7zM1635.2 3448.9h4.7v4.9h-4.7zM1639.9 3453.8h4.7v4.9h-4.7zM1644.7 3458.8h4.7v4.9h-4.7zM1649.4 3463.7h4.7v4.9h-4.7zM1654.2 3468.6h4.7v4.9h-4.7zM1658.9 3473.6h4.7v4.9h-4.7zM1663.7 3478.5h4.7v4.9h-4.7zM1668.4 3483.4h4.7v4.9h-4.7zM1673.2 3488.3h4.7v4.9h-4.7zM1677.9 3493.3h4.7v4.9h-4.7zM1682.7 3498.2h4.7v4.9h-4.7zM1687.4 3503.1h4.7v4.9h-4.7zM1692.1 3508.1h4.7v4.9h-4.7zM1696.9 3513.0h4.7v4.9h-4.7zM1701.6 3517.9h4.7v4.9h-4.7zM1706.4 3522.8h4.7v4.9h-4.7zM1711.1 3527.8h4.7v4.9h-4.7zM1715.9 3532.7h4.7v4.9h-4.7zM1720.6 3537.6h4.7v4.9h-4.7zM1725.4 3542.6h4.7v4.9h-4.7zM1730.1 3547.5h4.7v4.9h-4.7zM1734.9 3552.4h4.7v4.9h-4.7zM1739.6 3557.3h4.7v4.9h-4.7zM1744.4 3562.3h4.7v4.9h-4.7zM1749.1 3567.2h4.7v4.9h-4.7zM1753.9 3572.1h4.7v4.9h-4.7zM1758.6 3577.1h4.7v4.9h-4.7zM1763.4 3582.0h4.7v4.9h-4.7zM1768.1 3586.9h4.7v4.9h-4.7zM1772.8 3591.8h4.7v4.9h-4.7zM1777.6 3596.8h4.7v4.9h-4.7zM1782.3 3601.7h4.7v4.9h-4.7zM1787.1 3606.6h4.7v4.9h-4.7zM1791.8 3611.6h4.7v4.9h-4.7zM1796.6 3616.5h4.7v4.9h-4.7zM1801.3 3621.4h4.7v4.9h-4.7zM1806.1 3626.3h4.7v4.9h-4.7zM1810.8 3631.3h4.7v4.9h-4.7zM1815.6 3636.2h4.7v4.9h-4.7zM1820.3 3641.1h4.7v4.9h-4.7zM1825.1 3646.1h4.7v4.9h-4.7zM1829.8 3651.0h4.7v4.9h-4.7zM1834.6 3655.9h4.7v4.9h-4.7zM1839.3 3660.8h4.7v4.9h-4.7zM1844.0 3665.8h4.7v4.9h-4.7zM1848.8 3670.7h4.7v4.9h-4.7zM1853.5 3675.6h4.7v4.9h-4.7zM1858.3 3680.6h4.7v4.9h-4.7zM1863.0 3685.5h4.7v4.9h-4.7zM1867.8 3690.4h4.7v4.9h-4.7zM1872.5 3695.3h4.7v4.9h-4.7zM1877.3 3700.3h4.7v4.9h-4.7zM1882.0 3705.2h4.7v4.9h-4.7zM1886.8 3710.1h4.7v4.9h-4.7zM1891.5 3715.1h4.7v4.9h-4.7zM1896.3 3720.0h4.7v4.9h-4.7zM1901.0 3724.9h4.7v4.9h-4.7zM1905.8 3729.9h4.7v4.9h-4.7zM1910.5 3734.8h4.7v4.9h-4.7zM1915.2 3739.7h4.7v4.9h-4.7zM1920.0 3744.6h4.7v4.9h-4.7zM1924.7 3749.6h4.7v4.9h-4.7zM1929.5 3754.5h4.7v4.9h-4.7zM1934.2 3759.4h4.7v4.9h-4.7zM1939.0 3764.4h4.7v4.9h-4.7zM1943.7 3769.3h4.7v4.9h-4.7zM1948.5 3774.2h4.7v4.9h-4.7zM1953.2 3779.1h4.7v4.9h-4.7zM1958.0 3784.1h4.7v4.9h-4.7zM1962.7 3789.0h4.7v4.9h-4.7zM1967.5 3793.9h4.7v4.9h-4.7zM1972.2 3798.9h4.7v4.9h-4.7zM1977.0 3803.8h4.7v4.9h-4.7zM1981.7 3808.7h4.7v4.9h-4.7zM1986.4 3813.6h4.7v4.9h-4.7zM1991.2 3818.6h4.7v4.9h-4.7zM1995.9 3823.5h4.7v4.9h-4.7zM2000.7 3828.4h4.7v4.9h-4.7zM2005.4 3833.4h4.7v4.9h-4.7zM2010.2 3838.3h4.7v4.9h-4.7zM2014.9 3843.2h4.7v4.9h-4.7zM2019.7 3848.1h4.7v4.9h-4.7zM2024.4 3853.1h4.7v4.9h-4.7zM2029.2 3858.0h4.7v4.9h-4.7zM2033.9 3862.9h4.7v4.9h-4.7zM2038.7 3867.9h4.7v4.9h-4.7zM2043.4 3872.8h4.7v4.9h-4.7zM2048.2 3877.7h4.7v4.9h-4.7zM2052.9 3882.6h4.7v4.9h-4.7zM2057.6 3887.6h4.7v4.9h-4.7zM2062.4 3892.5h4.7v4.9h-4.7zM2067.1 3897.4h4.7v4.9h-4.7zM2071.9 3902.4h4.7v4.9h-4.7zM2076.6 3907.3h4.7v4.9h-4.7zM2081.4 3912.2h4.7v4.9h-4.7zM2086.1 3917.1h4.7v4.9h-4.7zM2090.9 3922.1h4.7v4.9h-4.7zM2095.6 3927.0h4.7v4.9h-4.7zM2100.4 3931.9h4.7v4.9h-4.7zM2105.1 3936.9h4.7v4.9h-4.7zM2109.9 3941.8h4.7v4.9h-4.7zM2114.6 3946.7h4.7v4.9h-4.7zM2119.4 3951.6h4.7v4.9h-4.7zM2124.1 3956.6h4.7v4.9h-4.7zM2128.8 3961.5h4.7v4.9h-4.7zM2133.6 3966.4h4.7v4.9h-4.7zM2138.3 3971.4h4.7v4.9h-4.7zM2143.1 3976.3h4.7v4.9h-4.7zM2147.8 3981.2h4.7v4.9h-4.7zM2152.6 3986.1h4.7v4.9h-4.7zM2157.3 3991.1h4.7v4.9h-4.7zM2162.1 3996.0h4.7v4.9h-4.7zM2166.8 4000.9h4.7v4.9h-4.7zM2171.6 4005.9h4.7v4.9h-4.7zM2176.3 4010.8h4.7v4.9h-4.7zM2181.1 4015.7h4.7v4.9h-4.7zM2185.8 4020.6h4.7v4.9h-4.7zM2190.6 4025.6h4.7v4.9h-4.7z" fill="#000"/>
<path d="M902.6 2177.2h1.6V2918.2h-1.6zM410.4 2532.2H1124.0v1.6H410.4zM976.1 2177.2h1.6V2918.2h-1.6zM410.4 2556.9H1124.0v1.6H410.4zM410.4 2352.1H1124.0v1.6H410.4zM675.2 2177.2h1.6V2918.2h-1.6zM410.4 2228.5H1124.0v1.6H410.4zM410.4 2349.3H1124.0v1.6H410.4zM440.6 2177.2h1.6V2918.2h-1.6zM410.4 2724.5H1124.0v1.6H410.4zM410.4 2633.5H1124.0v1.6H410.4zM645.1 2177.2h1.6V2918.2h-1.6zM493.0 2177.2h1.6V2918.2h-1.6zM410.4 2450.2H1124.0v1.6H410.4zM993.8 2177.2h1.6V2918.2h-1.6zM1072.6 2177.2h1.6V2918.2h-1.6zM804.3 2177.2h1.6V2918.2h-1.6zM756.3 2177.2h1.6V2918.2h-1.6zM436.9 2177.2h1.6V2918.2h-1.6zM410.4 2351.2H1124.0v1.6H410.4zM410.4 2331.7H1124.0v1.6H410.4zM410.4 2839.6H1124.0v1.6H410.4zM410.4 2742.4H1124.0v1.6H410.4zM410.4 2717.9H1124.0v1.6H410.4zM750.3 2177.2h1.6V2918.2h-1.6zM410.4 2326.2H1124.0v1.6H410.4zM410.4 2834.9H1124.0v1.6H410.4zM671.0 2177.2h1.6V2918.2h-1.6zM685.7 2177.2h1.6V2918.2h-1.6zM410.4 2463.6H1124.0v1.6H410.4zM476.9 2177.2h1.6V2918.2h-1.6zM410.4 2912.9H1124.0v1.6H410.4zM761.2 2177.2h1.6V2918.2h-1.6zM410.4 2731.6H1124.0v1.6H410.4zM844.9 2177.2h1.6V2918.2h-1.6zM410.4 2638.5H1124.0v1.6H410.4zM531.8 2177.2h1.6V2918.2h-1.6zM1072.0 2177.2h1.6V2918.2h-1.6zM836.6 2177.2h1.6V2918.2h-1.6zM484.1 2177.2h1.6V2918.2h-1.6zM991.1 2177.2h1.6V2918.2h-1.6zM410.4 2454.9H1124.0v1.6H410.4zM410.4 2678.0H1124.0v1.6H410.4zM410.4 2887.3H1124.0v1.6H410.4zM1116.3 2177.2h1.6V2918.2h-1.6zM410.4 2614.7H1124.0v1.6H410.4zM410.4 2540.9H1124.0v1.6H410.4zM586.8 2177.2h1.6V2918.2h-1.6zM410.4 2297.4H1124.0v1.6H410.4zM985.1 2177.2h1.6V2918.2h-1.6zM410.4 2535.2H1124.0v1.6H410.4zM410.4 2215.8H1124.0v1.6H410.4zM617.3 2177.2h1.6V2918.2h-1.6zM532.2 2177.2h1.6V2918.2h-1.6zM651.7 2177.2h1.6V2918.2h-1.6zM410.4 2905.9H1124.0v1.6H410.4zM410.4 2532.1H1124.0v1.6H410.4zM1094.7 2177.2h1.6V2918.2h-1.6zM410.4 2717.1H1124.0v1.6H410.4zM561.7 2177.2h1.6V2918.2h-1.6zM410.4 2766.4H1124.0v1.6H410.4zM410.4 2622.8H1124.0v1.6H410.4zM825.1 2177.2h1.6V2918.2h-1.6zM410.4 2405.4H1124.0v1.6H410.4zM410.4 2381.7H1124.0v1.6H410.4zM410.4 2184.7H1124.0v1.6H410.4zM410.4 2884.1H1124.0v1.6H410.4zM834.1 2177.2h1.6V2918.2h-1.6zM410.4 2808.3H1124.0v1.6H410.4zM410.4 2367.7H1124.0v1.6H410.4z" fill="#ffffff" fill-opacity="0.075"/>
<path d="M1166.5 3011.3H1502.8v1.6H1166.5zM1502.3 2962.3h1.6V3311.4h-1.6zM1207.1 2962.3h1.6V3311.4h-1.6zM1166.5 3082.9H1502.8v1.6H1166.5zM1166.5 3043.2H1502.8v1.6H1166.5zM1166.5 3073.8H1502.8v1.6H1166.5zM1166.5 3287.7H1502.8v1.6H1166.5zM1166.5 3284.8H1502.8v1.6H1166.5zM1166.5 2979.2H1502.8v1.6H1166.5zM1166.5 3168.1H1502.8v1.6H1166.5zM1230.4 2962.3h1.6V3311.4h-1.6zM1166.5 3165.8H1502.8v1.6H1166.5zM1166.5 3232.5H1502.8v1.6H1166.5zM1166.5 3160.0H1502.8v1.6H1166.5zM1166.5 3176.1H1502.8v1.6H1166.5zM1488.2 2962.3h1.6V3311.4h-1.6zM1429.2 2962.3h1.6V3311.4h-1.6zM1166.5 3189.5H1502.8v1.6H1166.5zM1444.0 2962.3h1.6V3311.4h-1.6zM1166.5 3026.9H1502.8v1.6H1166.5zM1345.3 2962.3h1.6V3311.4h-1.6zM1477.6 2962.3h1.6V3311.4h-1.6zM1166.5 3142.9H1502.8v1.6H1166.5zM1388.8 2962.3h1.6V3311.4h-1.6zM1166.5 3069.6H1502.8v1.6H1166.5zM1362.4 2962.3h1.6V3311.4h-1.6zM1366.8 2962.3h1.6V3311.4h-1.6zM1166.5 3113.6H1502.8v1.6H1166.5zM1166.5 3146.7H1502.8v1.6H1166.5zM1501.6 2962.3h1.6V3311.4h-1.6zM1311.7 2962.3h1.6V3311.4h-1.6zM1479.1 2962.3h1.6V3311.4h-1.6zM1166.5 3141.0H1502.8v1.6H1166.5zM1199.0 2962.3h1.6V3311.4h-1.6zM1166.5 3022.1H1502.8v1.6H1166.5zM1166.5 3084.2H1502.8v1.6H1166.5zM1286.6 2962.3h1.6V3311.4h-1.6zM1178.9 2962.3h1.6V3311.4h-1.6zM1166.5 3240.2H1502.8v1.6H1166.5zM1166.5 3032.6H1502.8v1.6H1166.5z" fill="#ffffff" fill-opacity="0.075"/>
<path d="M1523.5 3487.9H1680.8v1.6H1523.5zM1523.5 3346.6H1680.8v1.6H1523.5zM1523.5 3402.2H1680.8v1.6H1523.5zM1523.5 3354.2H1680.8v1.6H1523.5zM1593.4 3333.0h1.6V3496.3h-1.6zM1595.1 3333.0h1.6V3496.3h-1.6zM1537.0 3333.0h1.6V3496.3h-1.6zM1523.5 3401.8H1680.8v1.6H1523.5zM1523.5 3452.9H1680.8v1.6H1523.5zM1532.6 3333.0h1.6V3496.3h-1.6zM1523.5 3429.2H1680.8v1.6H1523.5zM1523.5 3434.4H1680.8v1.6H1523.5zM1523.5 3392.2H1680.8v1.6H1523.5zM1523.5 3393.2H1680.8v1.6H1523.5zM1523.5 3440.8H1680.8v1.6H1523.5zM1537.0 3333.0h1.6V3496.3h-1.6zM1636.4 3333.0h1.6V3496.3h-1.6zM1523.5 3406.0H1680.8v1.6H1523.5zM1523.5 3362.7H1680.8v1.6H1523.5zM1574.4 3333.0h1.6V3496.3h-1.6z" fill="#ffffff" fill-opacity="0.075"/>
<path d="M1966.8 3992.2H2195.3v1.6H1966.8zM2194.9 3791.6h1.6V4030.5h-1.6zM2120.1 3791.6h1.6V4030.5h-1.6zM2139.9 3791.6h1.6V4030.5h-1.6zM2128.2 3791.6h1.6V4030.5h-1.6zM1966.8 3974.6H2195.3v1.6H1966.8zM2164.6 3791.6h1.6V4030.5h-1.6zM1966.8 3819.3H2195.3v1.6H1966.8zM1966.8 4020.5H2195.3v1.6H1966.8zM1966.8 3897.7H2195.3v1.6H1966.8zM2184.6 3791.6h1.6V4030.5h-1.6zM2140.6 3791.6h1.6V4030.5h-1.6zM1966.8 3829.3H2195.3v1.6H1966.8zM2036.5 3791.6h1.6V4030.5h-1.6zM1966.8 3879.3H2195.3v1.6H1966.8zM1966.8 4012.5H2195.3v1.6H1966.8zM2171.3 3791.6h1.6V4030.5h-1.6zM1988.9 3791.6h1.6V4030.5h-1.6zM1966.8 3982.5H2195.3v1.6H1966.8zM1966.8 4028.6H2195.3v1.6H1966.8zM1966.8 3855.3H2195.3v1.6H1966.8zM1966.8 4012.5H2195.3v1.6H1966.8zM2079.8 3791.6h1.6V4030.5h-1.6zM1999.5 3791.6h1.6V4030.5h-1.6zM2120.0 3791.6h1.6V4030.5h-1.6zM1966.8 3823.0H2195.3v1.6H1966.8zM1966.8 4029.9H2195.3v1.6H1966.8zM1966.8 3918.7H2195.3v1.6H1966.8zM2111.0 3791.6h1.6V4030.5h-1.6zM2113.9 3791.6h1.6V4030.5h-1.6z" fill="#ffffff" fill-opacity="0.075"/>
<path d="M368.3 2088.6h1.6V2137.0h-1.6zM325.1 2098.9H371.7v1.6H325.1zM325.1 2119.4H371.7v1.6H325.1zM369.5 2088.6h1.6V2137.0h-1.6zM339.3 2088.6h1.6V2137.0h-1.6zM352.5 2088.6h1.6V2137.0h-1.6z" fill="#ffffff" fill-opacity="0.075"/>
<path d="M1774.1 3627.6H1930.9v1.6H1774.1zM1868.3 3594.9h1.6V3755.9h-1.6zM1895.8 3594.9h1.6V3755.9h-1.6zM1774.1 3601.7H1930.9v1.6H1774.1zM1774.1 3675.9H1930.9v1.6H1774.1zM1774.1 3748.5H1930.9v1.6H1774.1zM1774.1 3660.8H1930.9v1.6H1774.1zM1774.1 3721.5H1930.9v1.6H1774.1zM1774.1 3599.6H1930.9v1.6H1774.1zM1774.1 3630.7H1930.9v1.6H1774.1z" fill="#ffffff" fill-opacity="0.075"/>
</g>
<g filter="url(#softs)">
<rect x="415.1" y="34.6" width="73.1" height="48.4" fill="#808080"/>
<rect x="415.1" y="83.0" width="73.1" height="13.2" fill="#a5fde0"/>
<rect x="415.1" y="96.2" width="73.1" height="26.5" fill="#22e3a6"/>
<rect x="415.1" y="122.7" width="73.1" height="739.3" fill="#1e9b74"/>
<rect x="415.1" y="871.1" width="73.1" height="35.1" fill="#954fa0"/>
<rect x="415.1" y="906.2" width="73.1" height="347.8" fill="#f0047f"/>
<rect x="415.1" y="1254.0" width="73.1" height="21.7" fill="#7fb5fc"/>
<rect x="415.1" y="1275.7" width="73.1" height="163.1" fill="#3d6cb0"/>
<rect x="415.1" y="1447.1" width="73.1" height="13.6" fill="#a9b208"/>
<rect x="415.1" y="1460.7" width="73.1" height="13.0" fill="#d5e02e"/>
<rect x="415.1" y="1473.6" width="73.1" height="22.7" fill="#f0ff35"/>
<rect x="415.1" y="1496.3" width="73.1" height="34.7" fill="#e3b505"/>
<rect x="415.1" y="1539.5" width="73.1" height="53.3" fill="#b39830"/>
<rect x="415.1" y="1592.8" width="73.1" height="8.7" fill="#ff9f40"/>
<rect x="415.1" y="1601.5" width="73.1" height="35.6" fill="#f07605"/>
<rect x="415.1" y="1637.1" width="73.1" height="61.0" fill="#bb4700"/>
<rect x="415.1" y="1703.2" width="73.1" height="21.3" fill="#f7d8d6"/>
<rect x="415.1" y="1724.5" width="73.1" height="9.3" fill="#fab0a8"/>
<rect x="415.1" y="1733.8" width="73.1" height="237.6" fill="#fa8174"/>
<path d="M415.1 33.8H488.2v1.6H415.1zM415.1 58.4H488.2v1.6H415.1zM415.1 63.3H488.2v1.6H415.1zM415.1 73.1H488.2v1.6H415.1zM415.1 78.0H488.2v1.6H415.1zM415.1 107.5H488.2v1.6H415.1zM415.1 137.0H488.2v1.6H415.1zM415.1 156.7H488.2v1.6H415.1zM415.1 215.7H488.2v1.6H415.1zM415.1 220.6H488.2v1.6H415.1zM415.1 225.5H488.2v1.6H415.1zM415.1 304.2H488.2v1.6H415.1zM415.1 333.7H488.2v1.6H415.1zM415.1 348.4H488.2v1.6H415.1zM415.1 353.3H488.2v1.6H415.1zM415.1 368.1H488.2v1.6H415.1zM415.1 382.8H488.2v1.6H415.1zM415.1 387.7H488.2v1.6H415.1zM415.1 402.5H488.2v1.6H415.1zM415.1 412.3H488.2v1.6H415.1zM415.1 451.6H488.2v1.6H415.1zM415.1 461.5H488.2v1.6H415.1zM415.1 466.4H488.2v1.6H415.1zM415.1 481.1H488.2v1.6H415.1zM415.1 486.0H488.2v1.6H415.1zM415.1 564.7H488.2v1.6H415.1zM415.1 589.3H488.2v1.6H415.1zM415.1 604.0H488.2v1.6H415.1zM415.1 618.8H488.2v1.6H415.1zM415.1 653.2H488.2v1.6H415.1zM415.1 658.1H488.2v1.6H415.1zM415.1 672.8H488.2v1.6H415.1zM415.1 726.9H488.2v1.6H415.1zM415.1 746.6H488.2v1.6H415.1zM415.1 756.4H488.2v1.6H415.1zM415.1 761.3H488.2v1.6H415.1zM415.1 776.1H488.2v1.6H415.1zM415.1 805.6H488.2v1.6H415.1zM415.1 830.1H488.2v1.6H415.1zM415.1 835.1H488.2v1.6H415.1zM415.1 844.9H488.2v1.6H415.1zM415.1 859.6H488.2v1.6H415.1zM415.1 864.6H488.2v1.6H415.1zM415.1 889.1H488.2v1.6H415.1zM415.1 894.1H488.2v1.6H415.1zM415.1 903.9H488.2v1.6H415.1zM415.1 933.4H488.2v1.6H415.1zM415.1 938.3H488.2v1.6H415.1zM415.1 972.7H488.2v1.6H415.1zM415.1 997.3H488.2v1.6H415.1zM415.1 1007.1H488.2v1.6H415.1zM415.1 1012.0H488.2v1.6H415.1zM415.1 1021.9H488.2v1.6H415.1zM415.1 1031.7H488.2v1.6H415.1zM415.1 1066.1H488.2v1.6H415.1zM415.1 1075.9H488.2v1.6H415.1zM415.1 1080.9H488.2v1.6H415.1zM415.1 1115.3H488.2v1.6H415.1zM415.1 1139.8H488.2v1.6H415.1zM415.1 1154.6H488.2v1.6H415.1zM415.1 1179.2H488.2v1.6H415.1zM415.1 1193.9H488.2v1.6H415.1zM415.1 1198.8H488.2v1.6H415.1zM415.1 1203.7H488.2v1.6H415.1zM415.1 1228.3H488.2v1.6H415.1zM415.1 1233.2H488.2v1.6H415.1zM415.1 1238.2H488.2v1.6H415.1zM415.1 1243.1H488.2v1.6H415.1zM415.1 1248.0H488.2v1.6H415.1zM415.1 1262.7H488.2v1.6H415.1zM415.1 1302.1H488.2v1.6H415.1zM415.1 1311.9H488.2v1.6H415.1zM415.1 1331.6H488.2v1.6H415.1zM415.1 1336.5H488.2v1.6H415.1zM415.1 1405.3H488.2v1.6H415.1zM415.1 1420.0H488.2v1.6H415.1zM415.1 1459.4H488.2v1.6H415.1zM415.1 1469.2H488.2v1.6H415.1zM415.1 1508.5H488.2v1.6H415.1zM415.1 1518.4H488.2v1.6H415.1zM415.1 1523.3H488.2v1.6H415.1zM415.1 1533.1H488.2v1.6H415.1zM415.1 1538.0H488.2v1.6H415.1zM415.1 1542.9H488.2v1.6H415.1zM415.1 1552.8H488.2v1.6H415.1zM415.1 1557.7H488.2v1.6H415.1zM415.1 1567.5H488.2v1.6H415.1zM415.1 1601.9H488.2v1.6H415.1zM415.1 1621.6H488.2v1.6H415.1zM415.1 1636.3H488.2v1.6H415.1zM415.1 1656.0H488.2v1.6H415.1zM415.1 1660.9H488.2v1.6H415.1zM415.1 1665.8H488.2v1.6H415.1zM415.1 1705.2H488.2v1.6H415.1zM415.1 1729.7H488.2v1.6H415.1zM415.1 1769.1H488.2v1.6H415.1zM415.1 1774.0H488.2v1.6H415.1zM415.1 1803.5H488.2v1.6H415.1zM415.1 1808.4H488.2v1.6H415.1zM415.1 1813.3H488.2v1.6H415.1zM415.1 1828.0H488.2v1.6H415.1zM415.1 1842.8H488.2v1.6H415.1zM415.1 1867.4H488.2v1.6H415.1zM415.1 1872.3H488.2v1.6H415.1zM415.1 1877.2H488.2v1.6H415.1zM415.1 1891.9H488.2v1.6H415.1zM415.1 1911.6H488.2v1.6H415.1z" fill="#fff" fill-opacity="0.065"/>
</g>
<g filter="url(#softs)">
<rect x="230.5" y="2088.6" width="72.1" height="48.5" fill="#808080"/>
<rect x="230.5" y="2137.1" width="72.1" height="13.2" fill="#a5fde0"/>
<rect x="230.5" y="2150.4" width="72.1" height="26.6" fill="#22e3a6"/>
<rect x="230.5" y="2177.0" width="72.1" height="741.2" fill="#1e9b74"/>
<rect x="230.5" y="2927.3" width="72.1" height="35.1" fill="#954fa0"/>
<rect x="230.5" y="2962.5" width="72.1" height="348.8" fill="#f0047f"/>
<rect x="230.5" y="3311.2" width="72.1" height="21.7" fill="#7fb5fc"/>
<rect x="230.5" y="3333.0" width="72.1" height="163.5" fill="#3d6cb0"/>
<rect x="230.5" y="3504.8" width="72.1" height="13.6" fill="#a9b208"/>
<rect x="230.5" y="3518.4" width="72.1" height="13.0" fill="#d5e02e"/>
<rect x="230.5" y="3531.4" width="72.1" height="22.7" fill="#f0ff35"/>
<rect x="230.5" y="3554.2" width="72.1" height="34.8" fill="#e3b505"/>
<rect x="230.5" y="3597.5" width="72.1" height="53.4" fill="#b39830"/>
<rect x="230.5" y="3650.9" width="72.1" height="8.7" fill="#ff9f40"/>
<rect x="230.5" y="3659.6" width="72.1" height="35.7" fill="#f07605"/>
<rect x="230.5" y="3695.3" width="72.1" height="61.2" fill="#bb4700"/>
<rect x="230.5" y="3761.5" width="72.1" height="21.4" fill="#f7d8d6"/>
<rect x="230.5" y="3782.9" width="72.1" height="9.3" fill="#fab0a8"/>
<rect x="230.5" y="3792.2" width="72.1" height="238.3" fill="#fa8174"/>
<path d="M230.5 2102.6H302.6v1.6H230.5zM230.5 2107.5H302.6v1.6H230.5zM230.5 2132.2H302.6v1.6H230.5zM230.5 2137.1H302.6v1.6H230.5zM230.5 2142.0H302.6v1.6H230.5zM230.5 2146.9H302.6v1.6H230.5zM230.5 2166.7H302.6v1.6H230.5zM230.5 2191.3H302.6v1.6H230.5zM230.5 2196.2H302.6v1.6H230.5zM230.5 2206.1H302.6v1.6H230.5zM230.5 2225.8H302.6v1.6H230.5zM230.5 2245.5H302.6v1.6H230.5zM230.5 2270.2H302.6v1.6H230.5zM230.5 2275.1H302.6v1.6H230.5zM230.5 2284.9H302.6v1.6H230.5zM230.5 2299.7H302.6v1.6H230.5zM230.5 2324.4H302.6v1.6H230.5zM230.5 2344.1H302.6v1.6H230.5zM230.5 2368.7H302.6v1.6H230.5zM230.5 2398.3H302.6v1.6H230.5zM230.5 2413.1H302.6v1.6H230.5zM230.5 2427.9H302.6v1.6H230.5zM230.5 2437.7H302.6v1.6H230.5zM230.5 2477.2H302.6v1.6H230.5zM230.5 2482.1H302.6v1.6H230.5zM230.5 2511.7H302.6v1.6H230.5zM230.5 2526.5H302.6v1.6H230.5zM230.5 2536.3H302.6v1.6H230.5zM230.5 2580.7H302.6v1.6H230.5zM230.5 2585.6H302.6v1.6H230.5zM230.5 2590.5H302.6v1.6H230.5zM230.5 2595.5H302.6v1.6H230.5zM230.5 2610.2H302.6v1.6H230.5zM230.5 2615.2H302.6v1.6H230.5zM230.5 2644.7H302.6v1.6H230.5zM230.5 2654.6H302.6v1.6H230.5zM230.5 2669.4H302.6v1.6H230.5zM230.5 2674.3H302.6v1.6H230.5zM230.5 2684.2H302.6v1.6H230.5zM230.5 2733.5H302.6v1.6H230.5zM230.5 2758.1H302.6v1.6H230.5zM230.5 2787.7H302.6v1.6H230.5zM230.5 2797.5H302.6v1.6H230.5zM230.5 2832.0H302.6v1.6H230.5zM230.5 2846.8H302.6v1.6H230.5zM230.5 2856.7H302.6v1.6H230.5zM230.5 2861.6H302.6v1.6H230.5zM230.5 2891.2H302.6v1.6H230.5zM230.5 2955.2H302.6v1.6H230.5zM230.5 2960.2H302.6v1.6H230.5zM230.5 2965.1H302.6v1.6H230.5zM230.5 2970.0H302.6v1.6H230.5zM230.5 2975.0H302.6v1.6H230.5zM230.5 3024.2H302.6v1.6H230.5zM230.5 3058.7H302.6v1.6H230.5zM230.5 3063.7H302.6v1.6H230.5zM230.5 3068.6H302.6v1.6H230.5zM230.5 3078.5H302.6v1.6H230.5zM230.5 3088.3H302.6v1.6H230.5zM230.5 3093.3H302.6v1.6H230.5zM230.5 3098.2H302.6v1.6H230.5zM230.5 3108.0H302.6v1.6H230.5zM230.5 3113.0H302.6v1.6H230.5zM230.5 3117.9H302.6v1.6H230.5zM230.5 3122.8H302.6v1.6H230.5zM230.5 3132.7H302.6v1.6H230.5zM230.5 3137.6H302.6v1.6H230.5zM230.5 3157.3H302.6v1.6H230.5zM230.5 3172.1H302.6v1.6H230.5zM230.5 3182.0H302.6v1.6H230.5zM230.5 3186.9H302.6v1.6H230.5zM230.5 3196.8H302.6v1.6H230.5zM230.5 3211.5H302.6v1.6H230.5zM230.5 3216.5H302.6v1.6H230.5zM230.5 3226.3H302.6v1.6H230.5zM230.5 3251.0H302.6v1.6H230.5zM230.5 3255.9H302.6v1.6H230.5zM230.5 3275.6H302.6v1.6H230.5zM230.5 3295.3H302.6v1.6H230.5zM230.5 3300.3H302.6v1.6H230.5zM230.5 3305.2H302.6v1.6H230.5zM230.5 3310.1H302.6v1.6H230.5zM230.5 3315.0H302.6v1.6H230.5zM230.5 3320.0H302.6v1.6H230.5zM230.5 3334.8H302.6v1.6H230.5zM230.5 3364.3H302.6v1.6H230.5zM230.5 3384.0H302.6v1.6H230.5zM230.5 3389.0H302.6v1.6H230.5zM230.5 3398.8H302.6v1.6H230.5zM230.5 3423.5H302.6v1.6H230.5zM230.5 3462.9H302.6v1.6H230.5zM230.5 3477.7H302.6v1.6H230.5zM230.5 3482.6H302.6v1.6H230.5zM230.5 3512.2H302.6v1.6H230.5zM230.5 3522.0H302.6v1.6H230.5zM230.5 3541.8H302.6v1.6H230.5zM230.5 3546.7H302.6v1.6H230.5zM230.5 3596.0H302.6v1.6H230.5zM230.5 3610.8H302.6v1.6H230.5zM230.5 3620.6H302.6v1.6H230.5zM230.5 3625.5H302.6v1.6H230.5zM230.5 3635.4H302.6v1.6H230.5zM230.5 3640.3H302.6v1.6H230.5zM230.5 3645.3H302.6v1.6H230.5zM230.5 3660.0H302.6v1.6H230.5zM230.5 3665.0H302.6v1.6H230.5zM230.5 3674.8H302.6v1.6H230.5zM230.5 3709.3H302.6v1.6H230.5zM230.5 3714.3H302.6v1.6H230.5zM230.5 3719.2H302.6v1.6H230.5zM230.5 3729.1H302.6v1.6H230.5zM230.5 3734.0H302.6v1.6H230.5zM230.5 3743.8H302.6v1.6H230.5zM230.5 3753.7H302.6v1.6H230.5zM230.5 3763.6H302.6v1.6H230.5zM230.5 3807.9H302.6v1.6H230.5zM230.5 3827.6H302.6v1.6H230.5zM230.5 3847.3H302.6v1.6H230.5zM230.5 3862.1H302.6v1.6H230.5zM230.5 3891.7H302.6v1.6H230.5zM230.5 3916.3H302.6v1.6H230.5zM230.5 3921.3H302.6v1.6H230.5zM230.5 3926.2H302.6v1.6H230.5zM230.5 4010.0H302.6v1.6H230.5zM230.5 4019.8H302.6v1.6H230.5zM230.5 4024.8H302.6v1.6H230.5z" fill="#fff" fill-opacity="0.065"/>
</g>
<g filter="url(#softt)" shape-rendering="auto">
<rect x="98.8" y="209.9" width="127.7" height="459.0" fill="url(#cb)"/>
<rect x="226.5" y="207.6" width="13.0" height="3.4" fill="#1a1a1a"/>
<text x="252.2" y="222.2" font-size="35.3">100</text>
<rect x="226.5" y="302.2" width="13.0" height="3.4" fill="#1a1a1a"/>
<text x="252.2" y="316.8" font-size="35.3">98</text>
<rect x="226.5" y="396.8" width="13.0" height="3.4" fill="#1a1a1a"/>
<text x="252.2" y="411.4" font-size="35.3">96</text>
<rect x="226.5" y="491.7" width="13.0" height="3.4" fill="#1a1a1a"/>
<text x="252.2" y="506.3" font-size="35.3">94</text>
<rect x="226.5" y="586.3" width="13.0" height="3.4" fill="#1a1a1a"/>
<text x="252.2" y="600.9" font-size="35.3">92</text>
<rect x="50.2" y="875.6" width="311.3" height="1049" rx="6" ry="6" fill="#fff" stroke="#cccccc" stroke-width="2.4"/>
<rect x="62.3" y="890.4" width="75.0" height="27.5" fill="#808080"/>
<text x="163.6" y="916.2" font-size="35.5">anhuiense</text>
<rect x="62.3" y="942.4" width="75.0" height="27.5" fill="#a5fde0"/>
<text x="163.6" y="968.2" font-size="35.5">L</text>
<rect x="62.3" y="994.4" width="75.0" height="27.5" fill="#22e3a6"/>
<text x="163.6" y="1020.2" font-size="35.5">M</text>
<rect x="62.3" y="1046.4" width="75.0" height="27.5" fill="#1e9b74"/>
<text x="163.6" y="1072.2" font-size="35.5">C</text>
<rect x="62.3" y="1098.4" width="75.0" height="27.5" fill="#954fa0"/>
<text x="163.6" y="1124.2" font-size="35.5">D</text>
<rect x="62.3" y="1150.4" width="75.0" height="27.5" fill="#f0047f"/>
<text x="163.6" y="1176.2" font-size="35.5">E</text>
<rect x="62.3" y="1202.4" width="75.0" height="27.5" fill="#7fb5fc"/>
<text x="163.6" y="1228.2" font-size="35.5">H</text>
<rect x="62.3" y="1254.4" width="75.0" height="27.5" fill="#3d6cb0"/>
<text x="163.6" y="1280.2" font-size="35.5">A</text>
<rect x="62.3" y="1306.4" width="75.0" height="27.5" fill="#a9b208"/>
<text x="163.6" y="1332.2" font-size="35.5">G</text>
<rect x="62.3" y="1358.4" width="75.0" height="27.5" fill="#d5e02e"/>
<text x="163.6" y="1384.2" font-size="35.5">S</text>
<rect x="62.3" y="1410.4" width="75.0" height="27.5" fill="#f0ff35"/>
<text x="163.6" y="1436.2" font-size="35.5">I</text>
<rect x="62.3" y="1462.4" width="75.0" height="27.5" fill="#e3b505"/>
<text x="163.6" y="1488.2" font-size="35.5">Q</text>
<rect x="62.3" y="1514.4" width="75.0" height="27.5" fill="#b39830"/>
<text x="163.6" y="1540.2" font-size="35.5">R</text>
<rect x="62.3" y="1566.4" width="75.0" height="27.5" fill="#ff9f40"/>
<text x="163.6" y="1592.2" font-size="35.5">P</text>
<rect x="62.3" y="1618.4" width="75.0" height="27.5" fill="#f07605"/>
<text x="163.6" y="1644.2" font-size="35.5">O</text>
<rect x="62.3" y="1670.4" width="75.0" height="27.5" fill="#bb4700"/>
<text x="163.6" y="1696.2" font-size="35.5">N</text>
<rect x="62.3" y="1722.4" width="75.0" height="27.5" fill="#f7d8d6"/>
<text x="163.6" y="1748.2" font-size="35.5">K</text>
<rect x="62.3" y="1774.4" width="75.0" height="27.5" fill="#fab0a8"/>
<text x="163.6" y="1800.2" font-size="35.5">J</text>
<rect x="62.3" y="1826.4" width="75.0" height="27.5" fill="#fa8174"/>
<text x="163.6" y="1852.2" font-size="35.5">B</text>
<text x="163.6" y="1904.2" font-size="35.5">unique</text>
<text x="1444.7" y="2013.0" font-size="36" text-anchor="middle">Reference</text>
<text transform="translate(2417.5 1003.5) rotate(-90)" font-size="36" text-anchor="middle">Query</text>
<text x="1261.7" y="4072.1" font-size="36" text-anchor="middle">Reference</text>
<text transform="translate(2236.3 3060.1) rotate(-90)" font-size="36" text-anchor="middle">Query</text>
<text class="ser" x="1250" y="2072.3" font-size="55" text-anchor="middle">(<tspan font-weight="bold">a</tspan>)</text>
<text class="ser" x="1238.5" y="4133.5" font-size="55" text-anchor="middle">(<tspan font-weight="bold">b</tspan>)</text>
</g>
</svg>
</body></html>
